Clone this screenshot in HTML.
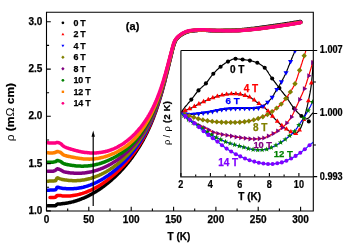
<!DOCTYPE html>
<html><head><meta charset="utf-8"><style>
html,body{margin:0;padding:0;background:#fff;}
svg{display:block;will-change:transform;font-family:"Liberation Sans",sans-serif;}
</style></head><body>
<svg width="349" height="245" viewBox="0 0 349 245">
<rect width="349" height="245" fill="#fff"/>
<g><path d="M47.7,205.8 L48.5,205.8 L49.3,205.8 L50.1,205.8 L50.9,205.8 L51.7,205.8 L52.5,205.8 L53.3,205.8 L54.1,205.8 L54.9,205.7 L55.6,205.7 L56.2,205.2 L56.8,204.5 L57.4,204.1 L58.1,204.0 L59.0,204.0 L59.8,203.9 L60.6,203.9 L61.4,203.8 L62.2,203.7 L62.9,203.6 L63.7,203.5 L64.5,203.4 L65.3,203.3 L66.1,203.2 L66.9,203.1 L67.6,202.9 L68.4,202.8 L69.2,202.6 L70.0,202.5 L70.8,202.3 L71.5,202.1 L72.3,201.9 L73.1,201.7 L73.8,201.5 L74.6,201.3 L75.4,201.1 L76.1,200.8 L76.9,200.6 L77.6,200.3 L78.4,200.1 L79.1,199.8 L79.8,199.5 L80.6,199.3 L81.3,199.0 L82.0,198.7 L82.8,198.4 L83.5,198.1 L84.2,197.8 L84.9,197.5 L85.7,197.1 L86.4,196.8 L87.1,196.5 L87.8,196.1 L88.5,195.8 L89.2,195.4 L89.9,195.0 L90.6,194.7 L91.3,194.3 L92.0,193.9 L92.7,193.5 L93.4,193.1 L94.0,192.7 L94.7,192.3 L95.4,191.9 L96.1,191.5 L96.7,191.1 L97.4,190.7 L98.1,190.2 L98.7,189.8 L99.4,189.4 L100.0,188.9 L100.7,188.5 L101.3,188.0 L102.0,187.5 L102.6,187.1 L103.3,186.6 L103.9,186.1 L104.5,185.7 L105.2,185.2 L105.8,184.7 L106.4,184.2 L107.1,183.7 L107.7,183.2 L108.3,182.7 L108.9,182.2 L109.5,181.7 L110.1,181.1 L110.7,180.6 L111.3,180.1 L111.9,179.6 L112.5,179.0 L113.1,178.5 L113.7,178.0 L114.3,177.4 L114.9,176.9 L115.4,176.3 L116.0,175.8 L116.6,175.2 L117.2,174.7 L117.7,174.1 L118.3,173.5 L118.8,173.0 L119.4,172.4 L120.0,171.8 L120.5,171.2 L121.1,170.6 L121.6,170.1 L122.1,169.5 L122.7,168.9 L123.2,168.3 L123.7,167.7 L124.3,167.1 L124.8,166.5 L125.3,165.9 L125.8,165.3 L126.4,164.6 L126.9,164.0 L127.4,163.4 L127.9,162.8 L128.4,162.2 L128.9,161.5 L129.4,160.9 L129.9,160.3 L130.3,159.6 L130.8,159.0 L131.3,158.4 L131.8,157.7 L132.3,157.1 L132.7,156.4 L133.2,155.8 L133.7,155.1 L134.1,154.5 L134.6,153.8 L135.0,153.2 L135.5,152.5 L135.9,151.8 L136.4,151.2 L136.8,150.5 L137.2,149.8 L137.7,149.2 L138.1,148.5 L138.5,147.8 L139.0,147.2 L139.4,146.5 L139.8,145.8 L140.2,145.1 L140.6,144.4 L141.0,143.7 L141.4,143.1 L141.8,142.4 L142.2,141.7 L142.6,141.0 L143.0,140.3 L143.4,139.6 L143.7,138.9 L144.1,138.2 L144.5,137.5 L144.8,136.8 L145.2,136.1 L145.6,135.4 L145.9,134.7 L146.3,134.0 L146.6,133.3 L147.0,132.6 L147.3,131.8 L147.7,131.1 L148.0,130.4 L148.3,129.7 L148.7,129.0 L149.0,128.3 L149.3,127.5 L149.6,126.8 L150.0,126.1 L150.3,125.4 L150.6,124.7 L150.9,123.9 L151.2,123.2 L151.5,122.5 L151.8,121.7 L152.1,121.0 L152.4,120.3 L152.7,119.5 L153.0,118.8 L153.3,118.1 L153.6,117.3 L153.8,116.6 L154.1,115.9 L154.4,115.1 L154.7,114.4 L154.9,113.6 L155.2,112.9 L155.5,112.2 L155.8,111.4 L156.0,110.7 L156.3,109.9 L156.5,109.2 L156.8,108.4 L157.0,107.7 L157.3,106.9 L157.5,106.2 L157.8,105.4 L158.0,104.7 L158.3,103.9 L158.5,103.2 L158.8,102.4 L159.0,101.7 L159.2,100.9 L159.5,100.1 L159.7,99.4 L159.9,98.6 L160.2,97.9 L160.4,97.1 L160.6,96.3 L160.9,95.6 L161.1,94.8 L161.3,94.1 L161.5,93.3 L161.7,92.5 L162.0,91.8 L162.2,91.0 L162.4,90.2 L162.6,89.5 L162.8,88.7 L163.0,87.9 L163.2,87.2 L163.4,86.4 L163.6,85.6 L163.8,84.9 L164.0,84.1 L164.2,83.3 L164.5,82.6 L164.7,81.8 L164.9,81.0 L165.1,80.3 L165.2,79.5 L165.4,78.7 L165.6,77.9 L165.8,77.2 L166.0,76.4 L166.2,75.6 L166.4,74.9 L166.6,74.1 L166.8,73.3 L167.0,72.5 L167.2,71.8 L167.4,71.0 L167.6,70.2 L167.8,69.4 L167.9,68.7 L168.1,67.9 L168.3,67.1 L168.5,66.4 L168.7,65.6 L168.9,64.8 L169.1,64.0 L169.3,63.3 L169.4,62.5 L169.6,61.7 L169.8,60.9 L170.0,60.2 L170.2,59.4 L170.4,58.6 L170.6,57.9 L170.7,57.1 L170.9,56.3 L171.1,55.5 L171.3,54.8 L171.5,54.0 L171.7,53.2 L171.9,52.5 L172.0,51.7 L172.2,50.9 L172.4,50.1 L172.6,49.4 L172.8,48.6 L173.0,47.8 L173.3,47.0 L173.5,46.2 L173.7,45.5 L173.9,44.7 L174.2,43.9 L174.5,43.2 L174.7,42.5 L175.0,41.7 L175.4,41.1 L175.7,40.4 L176.1,39.8 L176.6,39.1 L177.1,38.5 L177.6,37.9 L178.2,37.3 L178.8,36.8 L179.5,36.2 L180.1,35.8 L180.7,35.3 L181.4,34.9 L182.0,34.5 L182.7,34.1 L183.4,33.7 L184.1,33.3 L184.9,32.9 L185.6,32.6 L186.4,32.3 L187.1,32.0 L187.9,31.7 L188.7,31.5 L189.4,31.4 L190.2,31.2 L191.0,31.1 L191.7,31.0 L192.5,30.9 L193.3,30.8 L194.1,30.7 L194.9,30.6 L195.7,30.5 L196.5,30.4 L197.3,30.4 L198.1,30.3 L198.9,30.3 L199.7,30.2 L200.5,30.2 L201.3,30.2 L202.1,30.2 L202.9,30.2 L203.7,30.2 L204.4,30.3 L205.2,30.3 L206.0,30.3 L206.8,30.4 L207.6,30.4 L208.4,30.4 L209.2,30.5 L210.0,30.5 L210.8,30.6 L211.6,30.6 L212.4,30.7 L213.2,30.7 L214.0,30.7 L214.8,30.8 L215.6,30.8 L216.3,30.8 L217.1,30.8 L217.9,30.8 L218.7,30.8 L219.5,30.8 L220.3,30.8 L221.1,30.8 L221.9,30.7 L222.7,30.7 L223.5,30.7 L224.3,30.7 L225.1,30.6 L225.9,30.6 L226.7,30.6 L227.5,30.5 L228.3,30.5 L229.1,30.5 L229.8,30.4 L230.6,30.4 L231.4,30.4 L232.2,30.3 L233.0,30.3 L233.8,30.2 L234.6,30.2 L235.4,30.1 L236.2,30.1 L237.0,30.0 L237.8,30.0 L238.6,29.9 L239.4,29.9 L240.1,29.8 L240.9,29.7 L241.7,29.7 L242.5,29.6 L243.3,29.5 L244.1,29.4 L244.9,29.3 L245.7,29.3 L246.5,29.2 L247.3,29.1 L248.0,29.0 L248.8,28.9 L249.6,28.8 L250.4,28.7 L251.2,28.6 L252.0,28.6 L252.8,28.5 L253.6,28.4 L254.4,28.3 L255.1,28.2 L255.9,28.1 L256.7,28.0 L257.5,27.9 L258.3,27.8 L259.1,27.7 L259.9,27.6 L260.7,27.5 L261.4,27.3 L262.2,27.2 L263.0,27.1 L263.8,27.0 L264.6,26.9 L265.4,26.8 L266.2,26.7 L266.9,26.6 L267.7,26.4 L268.5,26.3 L269.3,26.2 L270.1,26.1 L270.9,26.0 L271.7,25.9 L272.5,25.8 L273.2,25.7 L274.0,25.5 L274.8,25.4 L275.6,25.3 L276.4,25.2 L277.2,25.1 L278.0,25.0 L278.7,24.9 L279.5,24.8 L280.3,24.7 L281.1,24.5 L281.9,24.4 L282.7,24.3 L283.5,24.2 L284.2,24.1 L285.0,24.0 L285.8,23.8 L286.6,23.7 L287.4,23.6 L288.2,23.5 L289.0,23.4 L289.7,23.2 L290.5,23.1 L291.3,23.0 L292.1,22.9 L292.9,22.7 L293.7,22.6 L294.4,22.5 L295.2,22.3 L296.0,22.2 L296.8,22.1 L297.6,21.9 L298.4,21.8 L299.1,21.7 L299.9,21.5 L300.7,21.4" stroke="#000000" stroke-width="3.5" fill="none" stroke-linecap="round" stroke-linejoin="round"/><path d="M50.0,197.6 L50.8,197.6 L51.6,197.5 L52.4,197.5 L53.2,197.4 L54.0,197.4 L54.8,197.3 L55.5,197.2 L56.1,196.7 L56.6,195.9 L57.2,195.4 L57.8,195.4 L58.6,195.4 L59.5,195.5 L60.3,195.5 L61.0,195.6 L61.8,195.8 L62.6,195.9 L63.4,196.1 L64.1,196.1 L64.9,196.1 L65.7,196.1 L66.5,196.1 L67.3,196.0 L68.1,196.0 L68.8,196.0 L69.6,195.9 L70.4,195.9 L71.2,195.8 L72.0,195.7 L72.7,195.6 L73.5,195.5 L74.3,195.3 L75.1,195.2 L75.8,195.1 L76.6,194.9 L77.3,194.8 L78.1,194.6 L78.8,194.4 L79.6,194.2 L80.3,194.0 L81.1,193.8 L81.8,193.6 L82.6,193.4 L83.3,193.1 L84.0,192.9 L84.8,192.6 L85.5,192.4 L86.2,192.1 L86.9,191.8 L87.7,191.5 L88.4,191.2 L89.1,190.9 L89.8,190.6 L90.5,190.3 L91.2,190.0 L91.9,189.6 L92.6,189.3 L93.3,189.0 L94.0,188.6 L94.7,188.2 L95.4,187.9 L96.1,187.5 L96.8,187.1 L97.4,186.7 L98.1,186.3 L98.8,185.9 L99.5,185.5 L100.1,185.1 L100.8,184.7 L101.4,184.3 L102.1,183.8 L102.8,183.4 L103.4,182.9 L104.1,182.5 L104.7,182.0 L105.3,181.6 L106.0,181.1 L106.6,180.7 L107.3,180.2 L107.9,179.7 L108.5,179.2 L109.1,178.7 L109.8,178.2 L110.4,177.7 L111.0,177.2 L111.6,176.7 L112.2,176.2 L112.8,175.7 L113.4,175.2 L114.0,174.7 L114.6,174.2 L115.2,173.6 L115.8,173.1 L116.4,172.6 L116.9,172.0 L117.5,171.5 L118.1,170.9 L118.7,170.4 L119.2,169.8 L119.8,169.3 L120.4,168.7 L120.9,168.2 L121.5,167.6 L122.0,167.0 L122.6,166.4 L123.1,165.9 L123.7,165.3 L124.2,164.7 L124.7,164.1 L125.3,163.5 L125.8,162.9 L126.3,162.4 L126.8,161.8 L127.3,161.2 L127.9,160.5 L128.4,159.9 L128.9,159.3 L129.4,158.7 L129.9,158.1 L130.4,157.5 L130.9,156.9 L131.3,156.2 L131.8,155.6 L132.3,155.0 L132.8,154.4 L133.3,153.7 L133.7,153.1 L134.2,152.5 L134.7,151.8 L135.1,151.2 L135.6,150.5 L136.0,149.9 L136.5,149.2 L136.9,148.6 L137.3,147.9 L137.8,147.3 L138.2,146.6 L138.6,146.0 L139.1,145.3 L139.5,144.6 L139.9,144.0 L140.3,143.3 L140.7,142.6 L141.1,142.0 L141.5,141.3 L141.9,140.6 L142.3,139.9 L142.7,139.3 L143.1,138.6 L143.5,137.9 L143.9,137.2 L144.3,136.5 L144.6,135.8 L145.0,135.1 L145.4,134.5 L145.7,133.8 L146.1,133.1 L146.4,132.4 L146.8,131.7 L147.1,131.0 L147.5,130.3 L147.8,129.6 L148.1,128.9 L148.5,128.2 L148.8,127.5 L149.1,126.8 L149.5,126.1 L149.8,125.4 L150.1,124.6 L150.4,123.9 L150.7,123.2 L151.0,122.5 L151.3,121.8 L151.7,121.1 L152.0,120.4 L152.2,119.6 L152.5,118.9 L152.8,118.2 L153.1,117.5 L153.4,116.7 L153.7,116.0 L154.0,115.3 L154.3,114.6 L154.5,113.8 L154.8,113.1 L155.1,112.4 L155.3,111.7 L155.6,110.9 L155.9,110.2 L156.1,109.5 L156.4,108.7 L156.6,108.0 L156.9,107.2 L157.2,106.5 L157.4,105.8 L157.7,105.0 L157.9,104.3 L158.1,103.5 L158.4,102.8 L158.6,102.1 L158.9,101.3 L159.1,100.6 L159.3,99.8 L159.6,99.1 L159.8,98.3 L160.0,97.6 L160.3,96.8 L160.5,96.1 L160.7,95.3 L160.9,94.6 L161.1,93.8 L161.4,93.1 L161.6,92.3 L161.8,91.6 L162.0,90.8 L162.2,90.1 L162.4,89.3 L162.6,88.6 L162.9,87.8 L163.1,87.0 L163.3,86.3 L163.5,85.5 L163.7,84.8 L163.9,84.0 L164.1,83.3 L164.3,82.5 L164.5,81.7 L164.7,81.0 L164.9,80.2 L165.1,79.5 L165.3,78.7 L165.5,77.9 L165.7,77.2 L165.9,76.4 L166.1,75.7 L166.2,74.9 L166.4,74.1 L166.6,73.4 L166.8,72.6 L167.0,71.8 L167.2,71.1 L167.4,70.3 L167.6,69.6 L167.8,68.8 L168.0,68.0 L168.1,67.3 L168.3,66.5 L168.5,65.7 L168.7,65.0 L168.9,64.2 L169.1,63.5 L169.3,62.7 L169.5,61.9 L169.6,61.2 L169.8,60.4 L170.0,59.6 L170.2,58.9 L170.4,58.1 L170.6,57.4 L170.8,56.6 L170.9,55.8 L171.1,55.1 L171.3,54.3 L171.5,53.6 L171.7,52.8 L171.9,52.0 L172.1,51.3 L172.3,50.5 L172.5,49.8 L172.6,49.0 L173.0,47.8 L173.2,47.1 L173.4,46.3 L173.6,45.5 L173.9,44.7 L174.1,44.0 L174.4,43.2 L174.6,42.5 L174.9,41.8 L175.3,41.1 L175.6,40.5 L176.0,39.9 L176.4,39.2 L176.9,38.6 L177.5,38.0 L178.0,37.4 L178.6,36.9 L179.3,36.3 L179.9,35.8 L180.5,35.4 L181.1,35.0 L181.8,34.6 L182.5,34.2 L183.1,33.8 L183.8,33.4 L184.6,33.0 L185.3,32.7 L186.0,32.3 L186.8,32.0 L187.6,31.8 L188.3,31.6 L189.1,31.4 L189.8,31.2 L190.6,31.1 L191.3,31.0 L192.1,30.9 L192.9,30.8 L193.7,30.7 L194.4,30.6 L195.2,30.5 L196.0,30.4 L196.8,30.4 L197.6,30.3 L198.4,30.3 L199.2,30.2 L200.0,30.2 L200.8,30.2 L201.5,30.2 L202.3,30.2 L203.1,30.2 L203.9,30.2 L204.7,30.2 L205.5,30.2 L206.3,30.3 L207.0,30.3 L207.8,30.3 L208.6,30.4 L209.4,30.4 L210.2,30.5 L211.0,30.5 L211.7,30.5 L212.5,30.6 L213.3,30.6 L214.1,30.6 L214.9,30.6 L215.7,30.7 L216.5,30.7 L217.2,30.7 L218.0,30.7 L218.8,30.7 L219.6,30.7 L220.4,30.7 L221.2,30.7 L222.0,30.7 L222.7,30.7 L223.5,30.6 L224.3,30.6 L225.1,30.6 L225.9,30.6 L226.7,30.6 L227.5,30.6 L228.2,30.6 L229.0,30.6 L229.8,30.6 L230.6,30.6 L231.4,30.6 L232.2,30.6 L232.9,30.5 L233.7,30.5 L234.5,30.5 L235.3,30.5 L236.1,30.5 L236.9,30.4 L237.7,30.4 L238.4,30.4 L239.2,30.3 L240.0,30.3 L240.8,30.2 L241.6,30.2 L242.4,30.1 L243.1,30.0 L243.9,30.0 L244.7,29.9 L245.5,29.8 L246.3,29.7 L247.1,29.7 L247.8,29.6 L248.6,29.5 L249.4,29.4 L250.2,29.4 L251.0,29.3 L251.7,29.2 L252.5,29.1 L253.3,29.1 L254.1,29.0 L254.9,28.9 L255.6,28.8 L256.4,28.7 L257.2,28.6 L258.0,28.5 L258.8,28.4 L259.5,28.3 L260.3,28.2 L261.1,28.1 L261.9,28.0 L262.7,27.9 L263.4,27.8 L264.2,27.7 L265.0,27.6 L265.8,27.5 L266.5,27.4 L267.3,27.2 L268.1,27.1 L268.9,27.0 L269.7,26.9 L270.4,26.8 L271.2,26.7 L272.0,26.6 L272.8,26.5 L273.5,26.4 L274.3,26.3 L275.1,26.2 L275.9,26.1 L276.7,25.9 L277.4,25.8 L278.2,25.7 L279.0,25.6 L279.8,25.5 L280.5,25.4 L281.3,25.3 L282.1,25.2 L282.9,25.1 L283.7,24.9 L284.4,24.8 L285.2,24.7 L286.0,24.6 L286.8,24.5 L287.5,24.4 L288.3,24.2 L289.1,24.1 L289.9,24.0 L290.6,23.9 L291.4,23.7 L292.2,23.6 L293.0,23.5 L293.7,23.4 L294.5,23.2 L295.3,23.1 L296.1,23.0 L296.8,22.8 L297.6,22.7 L298.4,22.6 L299.2,22.4 L299.9,22.3 L300.7,22.2" stroke="#ff0000" stroke-width="3.5" fill="none" stroke-linecap="round" stroke-linejoin="round"/><path d="M47.7,190.3 L48.4,190.2 L49.2,190.2 L50.0,190.1 L50.8,190.1 L51.5,190.0 L52.3,190.0 L53.2,189.9 L54.0,189.9 L54.8,189.8 L55.4,189.7 L56.0,189.3 L56.4,188.5 L56.8,187.6 L57.3,187.2 L57.9,187.3 L58.7,187.5 L59.5,187.7 L60.3,187.9 L61.0,188.1 L61.8,188.2 L62.6,188.4 L63.3,188.5 L64.1,188.6 L64.9,188.6 L65.6,188.6 L66.4,188.7 L67.2,188.7 L68.0,188.7 L68.7,188.7 L69.5,188.7 L70.3,188.7 L71.1,188.7 L71.9,188.7 L72.6,188.7 L73.4,188.7 L74.2,188.6 L75.0,188.5 L75.7,188.5 L76.5,188.4 L77.2,188.3 L78.0,188.2 L78.8,188.1 L79.5,188.0 L80.3,187.8 L81.0,187.7 L81.8,187.5 L82.5,187.4 L83.3,187.2 L84.0,187.0 L84.7,186.8 L85.5,186.6 L86.2,186.4 L86.9,186.2 L87.7,185.9 L88.4,185.7 L89.1,185.4 L89.8,185.2 L90.6,184.9 L91.3,184.6 L92.0,184.3 L92.7,184.1 L93.4,183.8 L94.1,183.4 L94.8,183.1 L95.5,182.8 L96.2,182.5 L96.9,182.1 L97.6,181.8 L98.3,181.4 L99.0,181.1 L99.6,180.7 L100.3,180.3 L101.0,180.0 L101.7,179.6 L102.3,179.2 L103.0,178.8 L103.7,178.4 L104.3,178.0 L105.0,177.5 L105.6,177.1 L106.3,176.7 L106.9,176.2 L107.6,175.8 L108.2,175.4 L108.9,174.9 L109.5,174.4 L110.1,174.0 L110.8,173.5 L111.4,173.0 L112.0,172.6 L112.6,172.1 L113.2,171.6 L113.9,171.1 L114.5,170.6 L115.1,170.1 L115.7,169.6 L116.3,169.1 L116.9,168.6 L117.5,168.1 L118.0,167.6 L118.6,167.0 L119.2,166.5 L119.8,166.0 L120.4,165.4 L120.9,164.9 L121.5,164.4 L122.1,163.8 L122.6,163.3 L123.2,162.7 L123.7,162.1 L124.3,161.6 L124.8,161.0 L125.4,160.4 L125.9,159.9 L126.4,159.3 L127.0,158.7 L127.5,158.1 L128.0,157.6 L128.5,157.0 L129.0,156.4 L129.6,155.8 L130.1,155.2 L130.6,154.6 L131.1,154.0 L131.6,153.4 L132.1,152.8 L132.6,152.1 L133.0,151.5 L133.5,150.9 L134.0,150.3 L134.5,149.7 L134.9,149.0 L135.4,148.4 L135.9,147.8 L136.3,147.1 L136.8,146.5 L137.2,145.9 L137.7,145.2 L138.1,144.6 L138.6,143.9 L139.0,143.3 L139.4,142.6 L139.9,142.0 L140.3,141.3 L140.7,140.7 L141.1,140.0 L141.5,139.3 L141.9,138.7 L142.3,138.0 L142.7,137.3 L143.1,136.7 L143.5,136.0 L143.9,135.3 L144.3,134.7 L144.7,134.0 L145.1,133.3 L145.4,132.6 L145.8,131.9 L146.2,131.3 L146.5,130.6 L146.9,129.9 L147.2,129.2 L147.6,128.5 L147.9,127.8 L148.3,127.1 L148.6,126.4 L148.9,125.7 L149.3,125.0 L149.6,124.3 L149.9,123.6 L150.3,122.9 L150.6,122.2 L150.9,121.5 L151.2,120.8 L151.5,120.1 L151.8,119.4 L152.1,118.7 L152.4,118.0 L152.7,117.3 L153.0,116.6 L153.3,115.8 L153.6,115.1 L153.9,114.4 L154.2,113.7 L154.4,113.0 L154.7,112.2 L155.0,111.5 L155.3,110.8 L155.5,110.1 L155.8,109.3 L156.1,108.6 L156.3,107.9 L156.6,107.2 L156.9,106.4 L157.1,105.7 L157.4,105.0 L157.6,104.2 L157.9,103.5 L158.1,102.8 L158.3,102.0 L158.6,101.3 L158.8,100.6 L159.1,99.8 L159.3,99.1 L159.5,98.3 L159.8,97.6 L160.0,96.9 L160.2,96.1 L160.5,95.4 L160.7,94.6 L160.9,93.9 L161.1,93.1 L161.3,92.4 L161.6,91.7 L161.8,90.9 L162.0,90.2 L162.2,89.4 L162.4,88.7 L162.6,87.9 L162.8,87.2 L163.0,86.4 L163.3,85.7 L163.5,84.9 L163.7,84.2 L163.9,83.4 L164.1,82.7 L164.3,81.9 L164.5,81.2 L164.7,80.4 L164.9,79.7 L165.1,78.9 L165.3,78.1 L165.5,77.4 L165.6,76.6 L165.8,75.9 L166.0,75.1 L166.2,74.4 L166.4,73.6 L166.6,72.9 L166.8,72.1 L167.0,71.3 L167.2,70.6 L167.4,69.8 L167.6,69.1 L167.8,68.3 L167.9,67.6 L168.1,66.8 L168.3,66.1 L168.5,65.3 L168.7,64.5 L168.9,63.8 L169.1,63.0 L169.3,62.3 L169.4,61.5 L169.6,60.8 L169.8,60.0 L170.0,59.2 L170.2,58.5 L170.4,57.7 L170.6,57.0 L170.8,56.2 L170.9,55.5 L171.1,54.7 L171.3,54.0 L171.5,53.2 L171.7,52.5 L171.9,51.7 L172.1,50.9 L172.3,50.2 L172.5,49.4 L172.7,48.7 L172.9,47.9 L173.1,47.2 L173.3,46.4 L173.5,45.6 L173.8,44.9 L174.0,44.1 L174.2,43.4 L174.5,42.7 L174.8,42.0 L175.1,41.3 L175.4,40.6 L175.8,40.0 L176.2,39.4 L176.7,38.8 L177.2,38.2 L177.8,37.6 L178.4,37.0 L179.0,36.5 L179.6,36.0 L180.2,35.5 L180.8,35.1 L181.5,34.7 L182.1,34.3 L182.8,33.9 L183.5,33.5 L184.2,33.1 L184.9,32.8 L185.7,32.4 L186.4,32.1 L187.1,31.9 L187.9,31.6 L188.6,31.4 L189.4,31.2 L190.1,31.1 L190.9,31.0 L191.6,30.9 L192.4,30.8 L193.2,30.7 L193.9,30.6 L194.7,30.5 L195.5,30.4 L196.3,30.4 L197.1,30.3 L197.9,30.2 L198.6,30.2 L199.4,30.2 L200.2,30.1 L201.0,30.1 L201.8,30.1 L202.5,30.1 L203.3,30.1 L204.1,30.1 L204.9,30.2 L205.6,30.2 L206.4,30.2 L207.2,30.3 L208.0,30.3 L208.7,30.4 L209.5,30.4 L210.3,30.4 L211.1,30.5 L211.9,30.5 L212.6,30.5 L213.4,30.6 L214.2,30.6 L215.0,30.6 L215.7,30.7 L216.5,30.7 L217.3,30.7 L218.1,30.7 L218.9,30.7 L219.6,30.7 L220.4,30.7 L221.2,30.7 L222.0,30.7 L222.7,30.7 L223.5,30.6 L224.3,30.6 L225.1,30.6 L225.9,30.6 L226.6,30.6 L227.4,30.6 L228.2,30.6 L229.0,30.6 L229.7,30.6 L230.5,30.6 L231.3,30.6 L232.1,30.6 L232.8,30.6 L233.6,30.5 L234.4,30.5 L235.2,30.5 L236.0,30.5 L236.7,30.5 L237.5,30.4 L238.3,30.4 L239.1,30.4 L239.8,30.3 L240.6,30.3 L241.4,30.2 L242.2,30.1 L242.9,30.1 L243.7,30.0 L244.5,29.9 L245.3,29.9 L246.0,29.8 L246.8,29.7 L247.6,29.7 L248.4,29.6 L249.1,29.5 L249.9,29.4 L250.7,29.4 L251.5,29.3 L252.2,29.2 L253.0,29.1 L253.8,29.1 L254.5,29.0 L255.3,28.9 L256.1,28.8 L256.9,28.7 L257.6,28.6 L258.4,28.5 L259.2,28.4 L260.0,28.3 L260.7,28.2 L261.5,28.1 L262.3,28.0 L263.0,27.9 L263.8,27.8 L264.6,27.7 L265.3,27.6 L266.1,27.5 L266.9,27.4 L267.7,27.2 L268.4,27.1 L269.2,27.0 L270.0,26.9 L270.7,26.8 L271.5,26.7 L272.3,26.6 L273.0,26.5 L273.8,26.4 L274.6,26.3 L275.4,26.2 L276.1,26.1 L276.9,26.0 L277.7,25.9 L278.4,25.7 L279.2,25.6 L280.0,25.5 L280.7,25.4 L281.5,25.3 L282.3,25.2 L283.1,25.1 L283.8,25.0 L284.6,24.8 L285.4,24.7 L286.1,24.6 L286.9,24.5 L287.7,24.4 L288.4,24.3 L289.2,24.1 L290.0,24.0 L290.7,23.9 L291.5,23.8 L292.3,23.7 L293.0,23.5 L293.8,23.4 L294.6,23.3 L295.3,23.1 L296.1,23.0 L296.9,22.9 L297.6,22.7 L298.4,22.6 L299.2,22.5 L299.9,22.3 L300.7,22.2" stroke="#0000ff" stroke-width="3.5" fill="none" stroke-linecap="round" stroke-linejoin="round"/><path d="M47.7,181.2 L48.4,181.2 L49.2,181.1 L50.0,181.1 L50.7,181.1 L51.5,181.0 L52.3,181.0 L53.1,180.9 L53.9,180.9 L54.7,180.8 L55.4,180.7 L55.9,180.4 L56.2,179.6 L56.6,178.7 L57.0,178.0 L57.5,177.8 L58.1,178.0 L58.9,178.4 L59.7,178.7 L60.4,178.9 L61.2,179.1 L61.9,179.4 L62.6,179.5 L63.4,179.7 L64.2,179.8 L64.9,179.9 L65.7,180.0 L66.4,180.1 L67.2,180.2 L68.0,180.3 L68.7,180.4 L69.5,180.4 L70.3,180.5 L71.0,180.6 L71.8,180.6 L72.6,180.7 L73.3,180.7 L74.1,180.7 L74.9,180.7 L75.6,180.7 L76.4,180.7 L77.2,180.6 L77.9,180.6 L78.7,180.5 L79.4,180.5 L80.2,180.4 L80.9,180.3 L81.7,180.2 L82.4,180.1 L83.2,180.0 L83.9,179.9 L84.7,179.8 L85.4,179.6 L86.2,179.5 L86.9,179.3 L87.6,179.1 L88.4,179.0 L89.1,178.8 L89.8,178.6 L90.6,178.4 L91.3,178.2 L92.0,177.9 L92.7,177.7 L93.5,177.5 L94.2,177.2 L94.9,177.0 L95.6,176.7 L96.3,176.4 L97.0,176.1 L97.7,175.9 L98.4,175.6 L99.1,175.3 L99.8,174.9 L100.5,174.6 L101.2,174.3 L101.9,174.0 L102.6,173.6 L103.2,173.3 L103.9,172.9 L104.6,172.6 L105.3,172.2 L105.9,171.8 L106.6,171.5 L107.3,171.1 L107.9,170.7 L108.6,170.3 L109.2,169.9 L109.9,169.5 L110.5,169.0 L111.2,168.6 L111.8,168.2 L112.4,167.8 L113.1,167.3 L113.7,166.9 L114.3,166.4 L114.9,166.0 L115.6,165.5 L116.2,165.0 L116.8,164.6 L117.4,164.1 L118.0,163.6 L118.6,163.1 L119.2,162.6 L119.8,162.2 L120.4,161.7 L121.0,161.1 L121.5,160.6 L122.1,160.1 L122.7,159.6 L123.3,159.1 L123.8,158.6 L124.4,158.0 L124.9,157.5 L125.5,157.0 L126.0,156.4 L126.6,155.9 L127.1,155.3 L127.7,154.8 L128.2,154.2 L128.7,153.6 L129.3,153.1 L129.8,152.5 L130.3,151.9 L130.8,151.3 L131.3,150.8 L131.8,150.2 L132.3,149.6 L132.8,149.0 L133.3,148.4 L133.8,147.8 L134.3,147.2 L134.8,146.6 L135.3,146.0 L135.8,145.4 L136.2,144.7 L136.7,144.1 L137.2,143.5 L137.6,142.9 L138.1,142.3 L138.5,141.6 L139.0,141.0 L139.4,140.4 L139.8,139.7 L140.3,139.1 L140.7,138.4 L141.1,137.8 L141.5,137.1 L142.0,136.5 L142.4,135.9 L142.8,135.2 L143.2,134.5 L143.6,133.9 L144.0,133.2 L144.4,132.6 L144.8,131.9 L145.1,131.2 L145.5,130.6 L145.9,129.9 L146.3,129.2 L146.6,128.6 L147.0,127.9 L147.4,127.2 L147.7,126.5 L148.1,125.9 L148.4,125.2 L148.8,124.5 L149.1,123.8 L149.4,123.1 L149.8,122.4 L150.1,121.7 L150.4,121.1 L150.7,120.4 L151.1,119.7 L151.4,119.0 L151.7,118.3 L152.0,117.6 L152.3,116.9 L152.6,116.2 L152.9,115.5 L153.2,114.8 L153.5,114.1 L153.8,113.4 L154.1,112.7 L154.4,111.9 L154.6,111.2 L154.9,110.5 L155.2,109.8 L155.5,109.1 L155.7,108.4 L156.0,107.7 L156.3,106.9 L156.5,106.2 L156.8,105.5 L157.1,104.8 L157.3,104.1 L157.6,103.3 L157.8,102.6 L158.1,101.9 L158.3,101.2 L158.6,100.4 L158.8,99.7 L159.0,99.0 L159.3,98.3 L159.5,97.5 L159.8,96.8 L160.0,96.1 L160.2,95.3 L160.4,94.6 L160.7,93.9 L160.9,93.1 L161.1,92.4 L161.3,91.6 L161.6,90.9 L161.8,90.2 L162.0,89.4 L162.2,88.7 L162.4,88.0 L162.6,87.2 L162.8,86.5 L163.0,85.7 L163.3,85.0 L163.5,84.2 L163.7,83.5 L163.9,82.8 L164.1,82.0 L164.3,81.3 L164.5,80.5 L164.7,79.8 L164.9,79.0 L165.1,78.3 L165.3,77.5 L165.5,76.8 L165.6,76.1 L165.8,75.3 L166.0,74.6 L166.2,73.8 L166.4,73.1 L166.6,72.3 L166.8,71.6 L167.0,70.8 L167.2,70.1 L167.4,69.3 L167.6,68.6 L167.7,67.8 L167.9,67.1 L168.1,66.3 L168.3,65.6 L168.5,64.9 L168.7,64.1 L168.9,63.4 L169.1,62.6 L169.2,61.9 L169.4,61.1 L169.6,60.4 L169.8,59.6 L170.0,58.9 L170.2,58.1 L170.4,57.4 L170.6,56.6 L170.7,55.9 L170.9,55.2 L171.1,54.4 L171.3,53.7 L171.5,52.9 L171.7,52.2 L171.9,51.4 L172.1,50.7 L172.3,50.0 L172.5,49.2 L172.6,48.5 L172.9,47.7 L173.1,47.0 L173.3,46.2 L173.5,45.4 L173.7,44.7 L174.0,44.0 L174.2,43.2 L174.5,42.5 L174.8,41.8 L175.1,41.2 L175.4,40.5 L175.8,39.9 L176.2,39.3 L176.7,38.7 L177.2,38.1 L177.8,37.5 L178.3,36.9 L178.9,36.4 L179.5,35.9 L180.2,35.4 L180.8,35.0 L181.4,34.6 L182.0,34.2 L182.7,33.8 L183.4,33.5 L184.1,33.1 L184.8,32.7 L185.5,32.4 L186.2,32.1 L187.0,31.8 L187.7,31.6 L188.5,31.4 L189.2,31.2 L189.9,31.1 L190.7,31.0 L191.4,30.9 L192.2,30.8 L192.9,30.7 L193.7,30.6 L194.4,30.5 L195.2,30.4 L196.0,30.3 L196.8,30.3 L197.5,30.2 L198.3,30.1 L199.1,30.1 L199.9,30.1 L200.6,30.1 L201.4,30.1 L202.2,30.1 L202.9,30.1 L203.7,30.1 L204.5,30.1 L205.2,30.1 L206.0,30.2 L206.8,30.2 L207.5,30.2 L208.3,30.3 L209.1,30.3 L209.8,30.4 L210.6,30.4 L211.4,30.5 L212.2,30.5 L212.9,30.5 L213.7,30.6 L214.5,30.6 L215.2,30.6 L216.0,30.6 L216.8,30.7 L217.5,30.7 L218.3,30.7 L219.1,30.7 L219.8,30.7 L220.6,30.7 L221.4,30.6 L222.1,30.6 L222.9,30.6 L223.7,30.6 L224.4,30.6 L225.2,30.6 L226.0,30.6 L226.7,30.6 L227.5,30.6 L228.3,30.6 L229.1,30.6 L229.8,30.6 L230.6,30.6 L231.4,30.6 L232.1,30.6 L232.9,30.6 L233.7,30.6 L234.4,30.6 L235.2,30.5 L236.0,30.5 L236.7,30.5 L237.5,30.5 L238.3,30.4 L239.0,30.4 L239.8,30.4 L240.6,30.3 L241.3,30.2 L242.1,30.2 L242.9,30.1 L243.6,30.1 L244.4,30.0 L245.2,29.9 L245.9,29.9 L246.7,29.8 L247.5,29.7 L248.2,29.6 L249.0,29.6 L249.8,29.5 L250.5,29.4 L251.3,29.3 L252.0,29.3 L252.8,29.2 L253.6,29.1 L254.3,29.0 L255.1,29.0 L255.9,28.9 L256.6,28.8 L257.4,28.7 L258.1,28.6 L258.9,28.5 L259.7,28.4 L260.4,28.3 L261.2,28.2 L262.0,28.1 L262.7,28.0 L263.5,27.9 L264.2,27.8 L265.0,27.7 L265.8,27.6 L266.5,27.5 L267.3,27.4 L268.0,27.2 L268.8,27.1 L269.6,27.0 L270.3,26.9 L271.1,26.8 L271.9,26.7 L272.6,26.6 L273.4,26.5 L274.1,26.4 L274.9,26.3 L275.7,26.2 L276.4,26.1 L277.2,26.0 L277.9,25.9 L278.7,25.8 L279.5,25.6 L280.2,25.5 L281.0,25.4 L281.7,25.3 L282.5,25.2 L283.3,25.1 L284.0,25.0 L284.8,24.9 L285.5,24.8 L286.3,24.6 L287.1,24.5 L287.8,24.4 L288.6,24.3 L289.3,24.2 L290.1,24.1 L290.9,23.9 L291.6,23.8 L292.4,23.7 L293.1,23.6 L293.9,23.4 L294.6,23.3 L295.4,23.2 L296.2,23.1 L296.9,22.9 L297.7,22.8 L298.4,22.7 L299.2,22.5 L299.9,22.4 L300.7,22.3" stroke="#808000" stroke-width="3.5" fill="none" stroke-linecap="round" stroke-linejoin="round"/><path d="M47.7,171.3 L48.4,171.3 L49.2,171.3 L49.9,171.3 L50.7,171.3 L51.4,171.3 L52.2,171.3 L52.9,171.2 L53.7,171.0 L54.4,170.8 L55.1,170.5 L55.8,170.1 L56.3,169.5 L56.9,168.9 L57.5,168.8 L58.2,169.0 L59.0,169.2 L59.7,169.5 L60.4,169.8 L61.1,170.2 L61.7,170.6 L62.4,171.0 L63.0,171.4 L63.7,171.7 L64.4,171.9 L65.1,172.1 L65.8,172.2 L66.6,172.3 L67.3,172.4 L68.1,172.5 L68.8,172.7 L69.6,172.8 L70.3,172.9 L71.1,172.9 L71.8,173.0 L72.6,173.1 L73.3,173.1 L74.1,173.2 L74.8,173.2 L75.6,173.3 L76.3,173.3 L77.1,173.3 L77.8,173.3 L78.6,173.3 L79.3,173.3 L80.1,173.2 L80.8,173.2 L81.6,173.2 L82.3,173.1 L83.1,173.0 L83.8,173.0 L84.6,172.9 L85.3,172.8 L86.1,172.7 L86.8,172.6 L87.5,172.5 L88.3,172.3 L89.0,172.2 L89.8,172.1 L90.5,171.9 L91.2,171.8 L92.0,171.6 L92.7,171.4 L93.4,171.2 L94.1,171.0 L94.9,170.8 L95.6,170.6 L96.3,170.4 L97.0,170.2 L97.7,169.9 L98.4,169.7 L99.1,169.4 L99.8,169.2 L100.6,168.9 L101.3,168.6 L102.0,168.4 L102.6,168.1 L103.3,167.8 L104.0,167.5 L104.7,167.2 L105.4,166.9 L106.1,166.5 L106.8,166.2 L107.4,165.9 L108.1,165.5 L108.8,165.2 L109.4,164.8 L110.1,164.5 L110.8,164.1 L111.4,163.7 L112.1,163.3 L112.7,162.9 L113.3,162.5 L114.0,162.1 L114.6,161.7 L115.2,161.3 L115.9,160.9 L116.5,160.5 L117.1,160.1 L117.7,159.6 L118.3,159.2 L118.9,158.7 L119.6,158.3 L120.2,157.8 L120.7,157.4 L121.3,156.9 L121.9,156.4 L122.5,155.9 L123.1,155.4 L123.7,155.0 L124.2,154.5 L124.8,154.0 L125.4,153.5 L125.9,152.9 L126.5,152.4 L127.0,151.9 L127.6,151.4 L128.1,150.9 L128.7,150.3 L129.2,149.8 L129.7,149.3 L130.3,148.7 L130.8,148.2 L131.3,147.6 L131.8,147.1 L132.3,146.5 L132.8,145.9 L133.4,145.4 L133.8,144.8 L134.3,144.2 L134.8,143.6 L135.3,143.0 L135.8,142.5 L136.3,141.9 L136.8,141.3 L137.2,140.7 L137.7,140.1 L138.1,139.5 L138.6,138.9 L139.1,138.3 L139.5,137.7 L139.9,137.0 L140.4,136.4 L140.8,135.8 L141.3,135.2 L141.7,134.6 L142.1,133.9 L142.5,133.3 L142.9,132.7 L143.3,132.0 L143.7,131.4 L144.1,130.7 L144.5,130.1 L144.9,129.5 L145.3,128.8 L145.7,128.2 L146.1,127.5 L146.4,126.9 L146.8,126.2 L147.2,125.6 L147.5,124.9 L147.9,124.2 L148.3,123.6 L148.6,122.9 L149.0,122.2 L149.3,121.6 L149.6,120.9 L150.0,120.2 L150.3,119.6 L150.6,118.9 L151.0,118.2 L151.3,117.5 L151.6,116.8 L151.9,116.2 L152.2,115.5 L152.5,114.8 L152.8,114.1 L153.1,113.4 L153.4,112.7 L153.7,112.0 L154.0,111.3 L154.3,110.6 L154.6,110.0 L154.9,109.3 L155.1,108.6 L155.4,107.9 L155.7,107.2 L156.0,106.5 L156.2,105.7 L156.5,105.0 L156.8,104.3 L157.0,103.6 L157.3,102.9 L157.5,102.2 L157.8,101.5 L158.0,100.8 L158.3,100.1 L158.5,99.4 L158.8,98.6 L159.0,97.9 L159.3,97.2 L159.5,96.5 L159.7,95.8 L160.0,95.1 L160.2,94.3 L160.4,93.6 L160.6,92.9 L160.9,92.2 L161.1,91.4 L161.3,90.7 L161.5,90.0 L161.8,89.3 L162.0,88.5 L162.2,87.8 L162.4,87.1 L162.6,86.4 L162.8,85.6 L163.0,84.9 L163.2,84.2 L163.4,83.4 L163.6,82.7 L163.8,82.0 L164.0,81.2 L164.2,80.5 L164.4,79.8 L164.6,79.0 L164.8,78.3 L165.0,77.6 L165.2,76.8 L165.4,76.1 L165.6,75.4 L165.8,74.6 L166.0,73.9 L166.2,73.2 L166.4,72.4 L166.6,71.7 L166.8,71.0 L167.0,70.2 L167.2,69.5 L167.3,68.8 L167.5,68.0 L167.7,67.3 L167.9,66.5 L168.1,65.8 L168.3,65.1 L168.5,64.3 L168.7,63.6 L168.8,62.9 L169.0,62.1 L169.2,61.4 L169.4,60.7 L169.6,59.9 L169.8,59.2 L170.0,58.5 L170.1,57.7 L170.3,57.0 L170.5,56.3 L170.7,55.5 L170.9,54.8 L171.1,54.1 L171.3,53.4 L171.5,52.6 L171.7,51.9 L171.8,51.2 L172.0,50.4 L172.2,49.7 L172.4,49.0 L172.7,47.9 L172.9,47.1 L173.1,46.4 L173.4,45.6 L173.6,44.9 L173.8,44.1 L174.1,43.4 L174.3,42.7 L174.6,42.1 L174.9,41.4 L175.2,40.8 L175.6,40.1 L176.0,39.5 L176.4,38.9 L176.9,38.3 L177.4,37.7 L178.0,37.1 L178.6,36.6 L179.1,36.1 L179.7,35.6 L180.3,35.2 L180.9,34.8 L181.6,34.4 L182.2,34.0 L182.9,33.6 L183.5,33.2 L184.2,32.9 L184.9,32.5 L185.7,32.2 L186.4,31.9 L187.1,31.7 L187.8,31.4 L188.6,31.3 L189.3,31.1 L190.0,31.0 L190.8,30.9 L191.5,30.8 L192.2,30.7 L193.0,30.6 L193.7,30.5 L194.5,30.4 L195.2,30.3 L196.0,30.2 L196.8,30.2 L197.5,30.1 L198.3,30.1 L199.1,30.0 L199.8,30.0 L200.6,30.0 L201.3,30.0 L202.1,30.0 L202.9,30.0 L203.6,30.0 L204.4,30.0 L205.1,30.1 L205.9,30.1 L206.6,30.1 L207.4,30.2 L208.1,30.2 L208.9,30.3 L209.7,30.3 L210.4,30.4 L211.2,30.4 L211.9,30.5 L212.7,30.5 L213.4,30.5 L214.2,30.6 L215.0,30.6 L215.7,30.6 L216.5,30.6 L217.2,30.6 L218.0,30.6 L218.7,30.6 L219.5,30.6 L220.3,30.6 L221.0,30.6 L221.8,30.6 L222.5,30.6 L223.3,30.6 L224.0,30.6 L224.8,30.6 L225.6,30.6 L226.3,30.6 L227.1,30.6 L227.8,30.6 L228.6,30.6 L229.3,30.6 L230.1,30.6 L230.9,30.6 L231.6,30.6 L232.4,30.6 L233.1,30.6 L233.9,30.6 L234.6,30.6 L235.4,30.6 L236.2,30.6 L236.9,30.5 L237.7,30.5 L238.4,30.5 L239.2,30.4 L239.9,30.4 L240.7,30.3 L241.4,30.3 L242.2,30.2 L243.0,30.2 L243.7,30.1 L244.5,30.0 L245.2,30.0 L246.0,29.9 L246.7,29.8 L247.5,29.8 L248.2,29.7 L249.0,29.6 L249.7,29.5 L250.5,29.5 L251.3,29.4 L252.0,29.3 L252.8,29.3 L253.5,29.2 L254.3,29.1 L255.0,29.0 L255.8,28.9 L256.5,28.9 L257.3,28.8 L258.0,28.7 L258.8,28.6 L259.5,28.5 L260.3,28.4 L261.0,28.3 L261.8,28.2 L262.5,28.1 L263.3,28.0 L264.0,27.9 L264.8,27.8 L265.5,27.7 L266.3,27.6 L267.0,27.5 L267.8,27.4 L268.5,27.2 L269.3,27.1 L270.0,27.0 L270.8,26.9 L271.5,26.8 L272.3,26.7 L273.0,26.6 L273.8,26.5 L274.5,26.4 L275.3,26.3 L276.0,26.2 L276.8,26.1 L277.5,26.0 L278.3,25.9 L279.0,25.8 L279.8,25.7 L280.5,25.6 L281.3,25.5 L282.0,25.3 L282.8,25.2 L283.5,25.1 L284.3,25.0 L285.0,24.9 L285.8,24.8 L286.5,24.7 L287.3,24.6 L288.0,24.4 L288.8,24.3 L289.5,24.2 L290.3,24.1 L291.0,24.0 L291.7,23.9 L292.5,23.7 L293.2,23.6 L294.0,23.5 L294.7,23.4 L295.5,23.2 L296.2,23.1 L297.0,23.0 L297.7,22.9 L298.5,22.7 L299.2,22.6 L300.0,22.5 L300.7,22.3" stroke="#800080" stroke-width="3.5" fill="none" stroke-linecap="round" stroke-linejoin="round"/><path d="M47.6,162.2 L48.4,162.3 L49.1,162.3 L49.9,162.3 L50.6,162.3 L51.4,162.3 L52.1,162.3 L52.9,162.2 L53.6,162.1 L54.3,161.9 L55.1,161.7 L55.7,161.5 L56.4,161.0 L57.0,160.6 L57.7,160.5 L58.4,160.7 L59.2,160.9 L59.9,161.2 L60.5,161.4 L61.2,161.8 L61.8,162.3 L62.4,162.8 L63.0,163.2 L63.7,163.6 L64.3,163.8 L65.0,164.0 L65.7,164.2 L66.4,164.4 L67.2,164.5 L67.9,164.7 L68.6,164.8 L69.4,164.9 L70.1,165.1 L70.8,165.2 L71.6,165.3 L72.3,165.4 L73.1,165.5 L73.8,165.6 L74.5,165.7 L75.3,165.8 L76.0,165.9 L76.7,165.9 L77.5,166.0 L78.2,166.0 L79.0,166.1 L79.7,166.1 L80.4,166.1 L81.2,166.2 L81.9,166.2 L82.6,166.2 L83.4,166.2 L84.1,166.1 L84.9,166.1 L85.6,166.1 L86.3,166.0 L87.1,166.0 L87.8,165.9 L88.5,165.8 L89.2,165.8 L90.0,165.7 L90.7,165.6 L91.4,165.5 L92.2,165.4 L92.9,165.2 L93.6,165.1 L94.3,164.9 L95.1,164.8 L95.8,164.6 L96.5,164.5 L97.2,164.3 L97.9,164.1 L98.6,163.9 L99.4,163.7 L100.1,163.5 L100.8,163.3 L101.5,163.0 L102.2,162.8 L102.9,162.5 L103.6,162.3 L104.3,162.0 L105.0,161.8 L105.7,161.5 L106.4,161.2 L107.1,160.9 L107.8,160.6 L108.4,160.3 L109.1,160.0 L109.8,159.7 L110.5,159.4 L111.2,159.1 L111.8,158.7 L112.5,158.4 L113.2,158.0 L113.8,157.7 L114.5,157.3 L115.2,157.0 L115.8,156.6 L116.5,156.2 L117.1,155.8 L117.8,155.4 L118.4,155.0 L119.0,154.6 L119.7,154.2 L120.3,153.8 L120.9,153.4 L121.6,153.0 L122.2,152.6 L122.8,152.1 L123.4,151.7 L124.0,151.2 L124.6,150.8 L125.2,150.3 L125.8,149.9 L126.4,149.4 L126.9,148.9 L127.5,148.4 L128.1,147.9 L128.7,147.4 L129.2,147.0 L129.8,146.4 L130.3,145.9 L130.8,145.4 L131.4,144.9 L131.9,144.4 L132.4,143.8 L133.0,143.3 L133.5,142.8 L134.0,142.2 L134.5,141.7 L135.0,141.1 L135.5,140.5 L135.9,140.0 L136.4,139.4 L136.9,138.8 L137.4,138.2 L137.8,137.7 L138.3,137.1 L138.7,136.5 L139.2,135.9 L139.6,135.3 L140.1,134.7 L140.5,134.1 L141.0,133.5 L141.4,132.9 L141.8,132.2 L142.2,131.6 L142.6,131.0 L143.0,130.4 L143.4,129.8 L143.8,129.1 L144.2,128.5 L144.6,127.9 L145.0,127.3 L145.4,126.6 L145.8,126.0 L146.2,125.3 L146.5,124.7 L146.9,124.1 L147.3,123.4 L147.6,122.8 L148.0,122.1 L148.3,121.5 L148.7,120.8 L149.0,120.2 L149.4,119.5 L149.7,118.9 L150.0,118.2 L150.4,117.5 L150.7,116.9 L151.0,116.2 L151.4,115.5 L151.7,114.9 L152.0,114.2 L152.3,113.5 L152.6,112.8 L152.9,112.2 L153.2,111.5 L153.5,110.8 L153.8,110.1 L154.1,109.5 L154.4,108.8 L154.7,108.1 L155.0,107.4 L155.2,106.7 L155.5,106.0 L155.8,105.3 L156.1,104.6 L156.3,103.9 L156.6,103.2 L156.9,102.6 L157.1,101.9 L157.4,101.2 L157.6,100.5 L157.9,99.8 L158.2,99.1 L158.4,98.4 L158.7,97.6 L158.9,96.9 L159.1,96.2 L159.4,95.5 L159.6,94.8 L159.9,94.1 L160.1,93.4 L160.3,92.7 L160.6,92.0 L160.8,91.3 L161.0,90.6 L161.2,89.8 L161.5,89.1 L161.7,88.4 L161.9,87.7 L162.1,87.0 L162.3,86.3 L162.6,85.5 L162.8,84.8 L163.0,84.1 L163.2,83.4 L163.4,82.7 L163.6,81.9 L163.8,81.2 L164.0,80.5 L164.2,79.8 L164.4,79.1 L164.6,78.3 L164.8,77.6 L165.0,76.9 L165.2,76.2 L165.4,75.4 L165.6,74.7 L165.8,74.0 L166.0,73.3 L166.2,72.5 L166.4,71.8 L166.6,71.1 L166.8,70.4 L167.0,69.6 L167.2,68.9 L167.4,68.2 L167.6,67.5 L167.7,66.7 L167.9,66.0 L168.1,65.3 L168.3,64.6 L168.5,63.8 L168.7,63.1 L168.9,62.4 L169.1,61.7 L169.2,60.9 L169.4,60.2 L169.6,59.5 L169.8,58.8 L170.0,58.0 L170.2,57.3 L170.4,56.6 L170.5,55.9 L170.7,55.1 L170.9,54.4 L171.1,53.7 L171.3,53.0 L171.5,52.3 L171.7,51.5 L171.9,50.8 L172.0,50.1 L172.2,49.4 L172.4,48.7 L172.7,47.5 L172.9,46.8 L173.1,46.1 L173.3,45.3 L173.6,44.6 L173.8,43.9 L174.1,43.2 L174.3,42.5 L174.6,41.8 L174.9,41.2 L175.2,40.6 L175.6,40.0 L176.0,39.3 L176.4,38.7 L176.9,38.1 L177.5,37.6 L178.0,37.0 L178.6,36.5 L179.2,36.0 L179.7,35.5 L180.3,35.1 L180.9,34.7 L181.5,34.3 L182.2,33.9 L182.8,33.5 L183.5,33.2 L184.2,32.8 L184.9,32.5 L185.6,32.2 L186.3,31.9 L187.0,31.6 L187.7,31.4 L188.5,31.2 L189.2,31.0 L189.9,30.9 L190.6,30.8 L191.3,30.7 L192.1,30.6 L192.8,30.5 L193.6,30.4 L194.3,30.3 L195.0,30.3 L195.8,30.2 L196.6,30.1 L197.3,30.1 L198.1,30.0 L198.8,30.0 L199.6,30.0 L200.3,29.9 L201.1,29.9 L201.8,29.9 L202.6,29.9 L203.3,29.9 L204.1,30.0 L204.8,30.0 L205.6,30.0 L206.3,30.1 L207.0,30.1 L207.8,30.2 L208.5,30.2 L209.3,30.3 L210.0,30.3 L210.8,30.4 L211.5,30.4 L212.3,30.5 L213.0,30.5 L213.8,30.5 L214.5,30.6 L215.3,30.6 L216.0,30.6 L216.8,30.6 L217.5,30.6 L218.3,30.6 L219.0,30.6 L219.8,30.6 L220.5,30.6 L221.2,30.6 L222.0,30.6 L222.7,30.6 L223.5,30.6 L224.2,30.6 L225.0,30.6 L225.7,30.6 L226.5,30.6 L227.2,30.6 L228.0,30.6 L228.7,30.6 L229.5,30.6 L230.2,30.6 L231.0,30.6 L231.7,30.6 L232.5,30.6 L233.2,30.6 L234.0,30.6 L234.7,30.6 L235.5,30.6 L236.2,30.6 L236.9,30.6 L237.7,30.5 L238.4,30.5 L239.2,30.5 L239.9,30.4 L240.7,30.4 L241.4,30.3 L242.2,30.3 L242.9,30.2 L243.7,30.2 L244.4,30.1 L245.2,30.0 L245.9,30.0 L246.6,29.9 L247.4,29.8 L248.1,29.7 L248.9,29.7 L249.6,29.6 L250.4,29.5 L251.1,29.5 L251.9,29.4 L252.6,29.3 L253.3,29.3 L254.1,29.2 L254.8,29.1 L255.6,29.0 L256.3,28.9 L257.1,28.9 L257.8,28.8 L258.5,28.7 L259.3,28.6 L260.0,28.5 L260.8,28.4 L261.5,28.3 L262.3,28.2 L263.0,28.1 L263.7,28.0 L264.5,27.9 L265.2,27.8 L266.0,27.7 L266.7,27.6 L267.4,27.5 L268.2,27.4 L268.9,27.2 L269.7,27.1 L270.4,27.0 L271.1,26.9 L271.9,26.8 L272.6,26.7 L273.4,26.6 L274.1,26.5 L274.8,26.4 L275.6,26.3 L276.3,26.2 L277.1,26.1 L277.8,26.0 L278.5,25.9 L279.3,25.8 L280.0,25.7 L280.8,25.6 L281.5,25.5 L282.2,25.4 L283.0,25.3 L283.7,25.2 L284.5,25.0 L285.2,24.9 L285.9,24.8 L286.7,24.7 L287.4,24.6 L288.2,24.5 L288.9,24.4 L289.6,24.3 L290.4,24.1 L291.1,24.0 L291.9,23.9 L292.6,23.8 L293.3,23.7 L294.1,23.5 L294.8,23.4 L295.5,23.3 L296.3,23.2 L297.0,23.0 L297.8,22.9 L298.5,22.8 L299.2,22.7 L300.0,22.5 L300.7,22.4" stroke="#008000" stroke-width="3.5" fill="none" stroke-linecap="round" stroke-linejoin="round"/><path d="M47.6,152.8 L48.4,152.8 L49.1,152.9 L49.8,152.9 L50.6,152.9 L51.3,152.9 L52.0,152.9 L52.8,152.9 L53.5,152.8 L54.3,152.7 L55.0,152.5 L55.7,152.3 L56.3,151.9 L57.0,151.6 L57.7,151.5 L58.4,151.7 L59.2,151.9 L59.9,152.1 L60.5,152.4 L61.1,152.9 L61.7,153.4 L62.3,153.9 L62.8,154.4 L63.4,154.8 L64.1,155.1 L64.7,155.4 L65.4,155.6 L66.1,155.8 L66.8,156.0 L67.5,156.2 L68.2,156.3 L68.9,156.5 L69.7,156.6 L70.4,156.7 L71.1,156.9 L71.8,157.0 L72.6,157.2 L73.3,157.3 L74.0,157.5 L74.7,157.6 L75.5,157.7 L76.2,157.9 L76.9,158.0 L77.6,158.1 L78.4,158.2 L79.1,158.3 L79.8,158.4 L80.5,158.5 L81.2,158.6 L82.0,158.7 L82.7,158.8 L83.4,158.9 L84.1,158.9 L84.9,159.0 L85.6,159.0 L86.3,159.1 L87.0,159.1 L87.8,159.1 L88.5,159.1 L89.2,159.2 L89.9,159.1 L90.7,159.1 L91.4,159.1 L92.1,159.1 L92.8,159.0 L93.5,159.0 L94.3,158.9 L95.0,158.8 L95.7,158.7 L96.4,158.6 L97.1,158.5 L97.9,158.4 L98.6,158.3 L99.3,158.1 L100.0,158.0 L100.7,157.8 L101.4,157.6 L102.1,157.5 L102.9,157.3 L103.6,157.1 L104.3,156.9 L105.0,156.7 L105.7,156.5 L106.4,156.3 L107.1,156.0 L107.8,155.8 L108.5,155.5 L109.2,155.3 L109.9,155.0 L110.6,154.7 L111.2,154.5 L111.9,154.2 L112.6,153.9 L113.3,153.6 L114.0,153.3 L114.7,153.0 L115.3,152.7 L116.0,152.3 L116.7,152.0 L117.3,151.7 L118.0,151.3 L118.6,151.0 L119.3,150.6 L119.9,150.2 L120.6,149.9 L121.2,149.5 L121.9,149.1 L122.5,148.7 L123.1,148.3 L123.7,147.9 L124.4,147.5 L125.0,147.1 L125.6,146.6 L126.2,146.2 L126.8,145.8 L127.4,145.3 L128.0,144.9 L128.5,144.4 L129.1,143.9 L129.7,143.5 L130.2,143.0 L130.8,142.5 L131.3,142.0 L131.9,141.5 L132.4,141.0 L132.9,140.5 L133.5,139.9 L134.0,139.4 L134.5,138.9 L135.0,138.4 L135.5,137.8 L136.0,137.3 L136.5,136.7 L137.0,136.2 L137.4,135.6 L137.9,135.0 L138.4,134.5 L138.8,133.9 L139.3,133.3 L139.7,132.7 L140.2,132.1 L140.6,131.5 L141.0,131.0 L141.5,130.4 L141.9,129.8 L142.3,129.2 L142.7,128.5 L143.2,127.9 L143.6,127.3 L144.0,126.7 L144.4,126.1 L144.8,125.5 L145.2,124.9 L145.5,124.2 L145.9,123.6 L146.3,123.0 L146.7,122.4 L147.0,121.7 L147.4,121.1 L147.8,120.5 L148.1,119.8 L148.5,119.2 L148.8,118.6 L149.2,117.9 L149.5,117.3 L149.9,116.6 L150.2,116.0 L150.6,115.3 L150.9,114.7 L151.2,114.0 L151.5,113.4 L151.9,112.7 L152.2,112.0 L152.5,111.4 L152.8,110.7 L153.1,110.1 L153.4,109.4 L153.7,108.7 L154.0,108.1 L154.3,107.4 L154.6,106.7 L154.9,106.0 L155.2,105.4 L155.5,104.7 L155.7,104.0 L156.0,103.3 L156.3,102.6 L156.6,102.0 L156.8,101.3 L157.1,100.6 L157.4,99.9 L157.6,99.2 L157.9,98.5 L158.1,97.8 L158.4,97.2 L158.6,96.5 L158.9,95.8 L159.1,95.1 L159.4,94.4 L159.6,93.7 L159.9,93.0 L160.1,92.3 L160.3,91.6 L160.6,90.9 L160.8,90.2 L161.0,89.5 L161.3,88.8 L161.5,88.1 L161.7,87.4 L161.9,86.7 L162.2,86.0 L162.4,85.3 L162.6,84.6 L162.8,83.8 L163.0,83.1 L163.3,82.4 L163.5,81.7 L163.7,81.0 L163.9,80.3 L164.1,79.6 L164.3,78.9 L164.5,78.2 L164.7,77.4 L164.9,76.7 L165.1,76.0 L165.3,75.3 L165.5,74.6 L165.7,73.9 L165.9,73.2 L166.1,72.5 L166.3,71.7 L166.5,71.0 L166.7,70.3 L166.9,69.6 L167.1,68.9 L167.2,68.2 L167.4,67.4 L167.6,66.7 L167.8,66.0 L168.0,65.3 L168.2,64.6 L168.4,63.9 L168.6,63.1 L168.8,62.4 L168.9,61.7 L169.1,61.0 L169.3,60.3 L169.5,59.6 L169.7,58.9 L169.9,58.1 L170.0,57.4 L170.2,56.7 L170.4,56.0 L170.6,55.3 L170.8,54.6 L171.0,53.9 L171.1,53.2 L171.3,52.4 L171.5,51.7 L171.7,51.0 L171.9,50.3 L172.1,49.6 L172.3,48.9 L172.7,47.4 L172.9,46.7 L173.1,46.0 L173.3,45.2 L173.5,44.5 L173.7,43.8 L174.0,43.1 L174.3,42.4 L174.5,41.8 L174.8,41.1 L175.1,40.5 L175.5,39.9 L175.9,39.3 L176.4,38.7 L176.8,38.1 L177.3,37.5 L177.9,37.0 L178.4,36.5 L179.0,35.9 L179.6,35.5 L180.2,35.1 L180.8,34.7 L181.4,34.3 L182.0,33.9 L182.6,33.5 L183.3,33.2 L184.0,32.8 L184.6,32.5 L185.3,32.2 L186.1,31.9 L186.8,31.6 L187.5,31.4 L188.2,31.2 L188.9,31.0 L189.6,30.9 L190.3,30.8 L191.0,30.7 L191.8,30.6 L192.5,30.5 L193.2,30.4 L194.0,30.3 L194.7,30.2 L195.4,30.2 L196.2,30.1 L196.9,30.0 L197.7,30.0 L198.4,29.9 L199.2,29.9 L199.9,29.9 L200.7,29.9 L201.4,29.8 L202.1,29.8 L202.9,29.9 L203.6,29.9 L204.4,29.9 L205.1,29.9 L205.8,30.0 L206.6,30.0 L207.3,30.1 L208.1,30.1 L208.8,30.2 L209.5,30.2 L210.3,30.3 L211.0,30.3 L211.7,30.4 L212.5,30.4 L213.2,30.5 L214.0,30.5 L214.7,30.6 L215.4,30.6 L216.2,30.6 L216.9,30.6 L217.7,30.6 L218.4,30.6 L219.1,30.6 L219.9,30.6 L220.6,30.6 L221.4,30.6 L222.1,30.6 L222.8,30.6 L223.6,30.6 L224.3,30.6 L225.1,30.6 L225.8,30.6 L226.5,30.6 L227.3,30.6 L228.0,30.6 L228.8,30.6 L229.5,30.6 L230.2,30.6 L231.0,30.6 L231.7,30.6 L232.5,30.6 L233.2,30.6 L233.9,30.6 L234.7,30.6 L235.4,30.6 L236.2,30.6 L236.9,30.6 L237.6,30.6 L238.4,30.5 L239.1,30.5 L239.8,30.5 L240.6,30.4 L241.3,30.4 L242.1,30.3 L242.8,30.3 L243.5,30.2 L244.3,30.1 L245.0,30.1 L245.8,30.0 L246.5,30.0 L247.2,29.9 L248.0,29.8 L248.7,29.7 L249.4,29.7 L250.2,29.6 L250.9,29.5 L251.6,29.5 L252.4,29.4 L253.1,29.3 L253.9,29.3 L254.6,29.2 L255.3,29.1 L256.1,29.0 L256.8,28.9 L257.5,28.9 L258.3,28.8 L259.0,28.7 L259.7,28.6 L260.5,28.5 L261.2,28.4 L261.9,28.3 L262.7,28.2 L263.4,28.1 L264.1,28.0 L264.9,27.9 L265.6,27.8 L266.3,27.7 L267.1,27.6 L267.8,27.5 L268.5,27.4 L269.3,27.3 L270.0,27.2 L270.7,27.1 L271.5,27.0 L272.2,26.9 L272.9,26.8 L273.7,26.7 L274.4,26.6 L275.1,26.5 L275.9,26.4 L276.6,26.3 L277.3,26.2 L278.1,26.0 L278.8,25.9 L279.5,25.8 L280.3,25.7 L281.0,25.6 L281.7,25.5 L282.4,25.4 L283.2,25.3 L283.9,25.2 L284.6,25.1 L285.4,25.0 L286.1,24.9 L286.8,24.8 L287.6,24.6 L288.3,24.5 L289.0,24.4 L289.8,24.3 L290.5,24.2 L291.2,24.1 L292.0,24.0 L292.7,23.8 L293.4,23.7 L294.1,23.6 L294.9,23.5 L295.6,23.3 L296.3,23.2 L297.1,23.1 L297.8,23.0 L298.5,22.8 L299.2,22.7 L300.0,22.6 L300.7,22.5" stroke="#ff8000" stroke-width="3.5" fill="none" stroke-linecap="round" stroke-linejoin="round"/><path d="M47.6,142.7 L48.3,142.8 L49.0,142.9 L49.8,143.0 L50.5,143.0 L51.2,143.1 L52.0,143.1 L52.7,143.1 L53.4,143.1 L54.2,143.1 L54.9,143.0 L55.6,143.0 L56.3,142.7 L57.0,142.4 L57.7,142.4 L58.4,142.6 L59.1,142.9 L59.8,143.2 L60.4,143.5 L61.0,143.9 L61.6,144.4 L62.1,145.0 L62.6,145.5 L63.2,146.0 L63.8,146.4 L64.4,146.7 L65.0,147.0 L65.7,147.3 L66.4,147.6 L67.0,147.8 L67.7,148.1 L68.4,148.3 L69.1,148.6 L69.8,148.8 L70.5,149.0 L71.2,149.2 L71.9,149.4 L72.6,149.6 L73.3,149.8 L74.0,150.1 L74.7,150.2 L75.4,150.4 L76.1,150.6 L76.8,150.8 L77.5,151.0 L78.2,151.1 L78.9,151.3 L79.7,151.5 L80.4,151.6 L81.1,151.8 L81.8,151.9 L82.5,152.0 L83.3,152.2 L84.0,152.3 L84.7,152.4 L85.4,152.5 L86.1,152.6 L86.9,152.6 L87.6,152.7 L88.3,152.8 L89.0,152.8 L89.8,152.9 L90.5,152.9 L91.2,152.9 L91.9,153.0 L92.7,153.0 L93.4,153.0 L94.1,153.0 L94.9,152.9 L95.6,152.9 L96.3,152.9 L97.0,152.8 L97.8,152.8 L98.5,152.7 L99.2,152.6 L99.9,152.5 L100.6,152.4 L101.3,152.3 L102.1,152.2 L102.8,152.1 L103.5,152.0 L104.2,151.8 L104.9,151.7 L105.6,151.5 L106.3,151.3 L107.0,151.2 L107.7,151.0 L108.4,150.8 L109.1,150.5 L109.7,150.3 L110.4,150.1 L111.1,149.8 L111.8,149.6 L112.4,149.3 L113.1,149.1 L113.8,148.8 L114.4,148.5 L115.1,148.2 L115.7,147.9 L116.4,147.6 L117.0,147.3 L117.7,146.9 L118.3,146.6 L118.9,146.2 L119.6,145.9 L120.2,145.5 L120.8,145.1 L121.4,144.8 L122.0,144.4 L122.7,144.0 L123.3,143.6 L123.9,143.2 L124.5,142.8 L125.0,142.3 L125.6,141.9 L126.2,141.5 L126.8,141.0 L127.4,140.6 L127.9,140.1 L128.5,139.7 L129.1,139.2 L129.6,138.7 L130.2,138.3 L130.7,137.8 L131.3,137.3 L131.8,136.8 L132.4,136.3 L132.9,135.8 L133.4,135.3 L134.0,134.7 L134.5,134.2 L135.0,133.7 L135.5,133.2 L136.0,132.6 L136.5,132.1 L137.0,131.6 L137.5,131.0 L138.0,130.5 L138.5,129.9 L138.9,129.3 L139.4,128.8 L139.9,128.2 L140.4,127.7 L140.8,127.1 L141.3,126.5 L141.7,125.9 L142.2,125.3 L142.6,124.8 L143.0,124.2 L143.5,123.6 L143.9,123.0 L144.3,122.4 L144.7,121.8 L145.1,121.2 L145.5,120.6 L145.9,120.0 L146.3,119.4 L146.7,118.8 L147.1,118.2 L147.5,117.6 L147.9,116.9 L148.2,116.3 L148.6,115.7 L149.0,115.1 L149.3,114.5 L149.7,113.8 L150.1,113.2 L150.4,112.6 L150.8,111.9 L151.1,111.3 L151.4,110.7 L151.8,110.0 L152.1,109.4 L152.4,108.7 L152.8,108.1 L153.1,107.4 L153.4,106.8 L153.7,106.1 L154.0,105.5 L154.3,104.8 L154.6,104.2 L154.9,103.5 L155.2,102.8 L155.5,102.2 L155.8,101.5 L156.1,100.8 L156.4,100.2 L156.7,99.5 L156.9,98.8 L157.2,98.2 L157.5,97.5 L157.8,96.8 L158.0,96.1 L158.3,95.5 L158.5,94.8 L158.8,94.1 L159.1,93.4 L159.3,92.7 L159.6,92.0 L159.8,91.4 L160.1,90.7 L160.3,90.0 L160.5,89.3 L160.8,88.6 L161.0,87.9 L161.3,87.2 L161.5,86.5 L161.7,85.8 L161.9,85.1 L162.2,84.4 L162.4,83.7 L162.6,83.0 L162.8,82.4 L163.1,81.7 L163.3,81.0 L163.5,80.3 L163.7,79.6 L163.9,78.9 L164.1,78.1 L164.3,77.4 L164.5,76.7 L164.7,76.0 L165.0,75.3 L165.2,74.6 L165.4,73.9 L165.6,73.2 L165.8,72.5 L166.0,71.8 L166.2,71.1 L166.3,70.4 L166.5,69.7 L166.7,69.0 L166.9,68.3 L167.1,67.6 L167.3,66.9 L167.5,66.2 L167.7,65.4 L167.9,64.7 L168.1,64.0 L168.3,63.3 L168.4,62.6 L168.6,61.9 L168.8,61.2 L169.0,60.5 L169.2,59.8 L169.4,59.1 L169.6,58.4 L169.7,57.7 L169.9,57.0 L170.1,56.3 L170.3,55.6 L170.5,54.9 L170.7,54.2 L170.9,53.5 L171.0,52.8 L171.2,52.1 L171.4,51.4 L171.6,50.7 L171.8,50.0 L172.0,49.3 L172.4,47.8 L172.6,47.1 L172.8,46.4 L173.0,45.6 L173.2,44.9 L173.4,44.2 L173.6,43.5 L173.9,42.8 L174.2,42.2 L174.4,41.5 L174.7,40.9 L175.1,40.3 L175.4,39.7 L175.8,39.1 L176.3,38.5 L176.8,37.9 L177.3,37.3 L177.8,36.8 L178.4,36.3 L178.9,35.8 L179.5,35.3 L180.1,34.9 L180.6,34.5 L181.2,34.1 L181.8,33.7 L182.5,33.4 L183.1,33.0 L183.8,32.6 L184.5,32.3 L185.2,32.0 L185.9,31.7 L186.6,31.4 L187.3,31.2 L188.0,31.0 L188.7,30.8 L189.4,30.7 L190.1,30.6 L190.8,30.5 L191.5,30.4 L192.2,30.3 L193.0,30.2 L193.7,30.2 L194.4,30.1 L195.2,30.0 L195.9,30.0 L196.6,29.9 L197.4,29.8 L198.1,29.8 L198.8,29.8 L199.6,29.7 L200.3,29.7 L201.1,29.7 L201.8,29.7 L202.5,29.7 L203.2,29.7 L204.0,29.8 L204.7,29.8 L205.4,29.8 L206.2,29.9 L206.9,29.9 L207.6,30.0 L208.4,30.0 L209.1,30.1 L209.8,30.2 L210.5,30.2 L211.3,30.3 L212.0,30.3 L212.7,30.4 L213.5,30.4 L214.2,30.5 L214.9,30.5 L215.7,30.6 L216.4,30.6 L217.1,30.6 L217.8,30.6 L218.6,30.6 L219.3,30.6 L220.0,30.6 L220.8,30.6 L221.5,30.6 L222.2,30.6 L223.0,30.7 L223.7,30.7 L224.4,30.7 L225.2,30.7 L225.9,30.7 L226.6,30.7 L227.4,30.7 L228.1,30.7 L228.8,30.7 L229.6,30.7 L230.3,30.7 L231.0,30.7 L231.7,30.7 L232.5,30.7 L233.2,30.7 L233.9,30.7 L234.7,30.7 L235.4,30.7 L236.1,30.7 L236.9,30.7 L237.6,30.6 L238.3,30.6 L239.1,30.6 L239.8,30.5 L240.5,30.5 L241.2,30.5 L242.0,30.4 L242.7,30.4 L243.4,30.3 L244.2,30.2 L244.9,30.2 L245.6,30.1 L246.4,30.1 L247.1,30.0 L247.8,29.9 L248.5,29.9 L249.3,29.8 L250.0,29.7 L250.7,29.7 L251.5,29.6 L252.2,29.5 L252.9,29.5 L253.6,29.4 L254.4,29.3 L255.1,29.3 L255.8,29.2 L256.6,29.1 L257.3,29.0 L258.0,28.9 L258.7,28.8 L259.5,28.8 L260.2,28.7 L260.9,28.6 L261.6,28.5 L262.4,28.4 L263.1,28.3 L263.8,28.2 L264.5,28.1 L265.3,28.0 L266.0,27.9 L266.7,27.8 L267.4,27.7 L268.2,27.6 L268.9,27.5 L269.6,27.4 L270.3,27.3 L271.1,27.2 L271.8,27.1 L272.5,27.0 L273.2,26.9 L274.0,26.8 L274.7,26.7 L275.4,26.6 L276.1,26.5 L276.9,26.4 L277.6,26.3 L278.3,26.2 L279.0,26.1 L279.8,25.9 L280.5,25.8 L281.2,25.7 L281.9,25.6 L282.6,25.5 L283.4,25.4 L284.1,25.3 L284.8,25.2 L285.5,25.1 L286.3,25.0 L287.0,24.9 L287.7,24.8 L288.4,24.7 L289.2,24.5 L289.9,24.4 L290.6,24.3 L291.3,24.2 L292.0,24.1 L292.8,24.0 L293.5,23.8 L294.2,23.7 L294.9,23.6 L295.7,23.5 L296.4,23.4 L297.1,23.2 L297.8,23.1 L298.5,23.0 L299.3,22.9 L300.0,22.7 L300.7,22.6" stroke="#ff0080" stroke-width="3.5" fill="none" stroke-linecap="round" stroke-linejoin="round"/></g>
<rect x="180.9" y="50.5" width="132.4" height="126.1" fill="#fff"/>
<clipPath id="ic"><rect x="180.9" y="50.5" width="132.4" height="126.1"/></clipPath><g clip-path="url(#ic)"><path d="M180.8,112.6 L181.0,112.4 L181.2,112.1 L181.3,111.9 L181.5,111.6 L181.7,111.4 L181.9,111.1 L182.1,110.9 L182.3,110.6 L182.5,110.4 L182.6,110.1 L182.8,109.9 L183.0,109.6 L183.2,109.4 L183.4,109.1 L183.6,108.9 L183.8,108.7 L184.0,108.4 L184.2,108.2 L184.4,107.9 L184.6,107.7 L184.7,107.4 L184.9,107.2 L185.1,107.0 L185.3,106.7 L185.5,106.5 L185.7,106.3 L185.9,106.0 L186.1,105.8 L186.3,105.5 L186.5,105.3 L186.7,105.1 L186.9,104.8 L187.1,104.6 L187.3,104.4 L187.5,104.1 L187.7,103.9 L187.9,103.7 L188.1,103.4 L188.3,103.2 L188.5,103.0 L188.7,102.7 L188.9,102.5 L189.1,102.3 L189.3,102.0 L189.5,101.8 L189.7,101.6 L189.9,101.3 L190.1,101.1 L190.3,100.8 L190.5,100.6 L190.7,100.4 L190.9,100.1 L191.1,99.9 L191.3,99.6 L191.5,99.4 L191.7,99.2 L191.9,98.9 L192.1,98.7 L192.3,98.4 L192.5,98.2 L192.7,97.9 L192.8,97.7 L193.0,97.4 L193.2,97.2 L193.4,96.9 L193.6,96.7 L193.8,96.4 L194.0,96.2 L194.1,95.9 L194.3,95.7 L194.5,95.4 L194.7,95.2 L194.9,94.9 L195.1,94.7 L195.2,94.5 L195.4,94.2 L195.6,94.0 L195.8,93.7 L196.0,93.5 L196.2,93.2 L196.4,93.0 L196.6,92.7 L196.8,92.5 L196.9,92.3 L197.1,92.0 L197.3,91.8 L197.5,91.5 L197.7,91.3 L197.9,91.1 L198.1,90.8 L198.3,90.6 L198.5,90.4 L198.7,90.1 L199.0,89.9 L199.2,89.7 L199.4,89.5 L199.6,89.3 L199.8,89.1 L200.0,88.8 L200.3,88.6 L200.5,88.4 L200.7,88.2 L201.0,88.0 L201.2,87.8 L201.4,87.6 L201.7,87.4 L201.9,87.2 L202.1,87.0 L202.4,86.8 L202.6,86.6 L202.8,86.4 L203.1,86.1 L203.3,85.9 L203.5,85.7 L203.8,85.5 L204.0,85.3 L204.2,85.1 L204.4,84.9 L204.7,84.7 L204.9,84.5 L205.1,84.2 L205.3,84.0 L205.5,83.8 L205.7,83.6 L205.9,83.4 L206.1,83.1 L206.3,82.9 L206.5,82.7 L206.7,82.4 L206.9,82.2 L207.1,81.9 L207.3,81.7 L207.5,81.5 L207.7,81.2 L207.9,81.0 L208.1,80.7 L208.2,80.5 L208.4,80.2 L208.6,80.0 L208.8,79.7 L209.0,79.5 L209.1,79.2 L209.3,78.9 L209.5,78.7 L209.7,78.4 L209.9,78.2 L210.0,77.9 L210.2,77.7 L210.4,77.4 L210.6,77.2 L210.8,76.9 L211.0,76.7 L211.1,76.4 L211.3,76.2 L211.5,75.9 L211.7,75.7 L211.9,75.4 L212.1,75.2 L212.3,75.0 L212.5,74.7 L212.7,74.5 L212.9,74.3 L213.1,74.0 L213.3,73.8 L213.5,73.6 L213.7,73.3 L213.9,73.1 L214.1,72.9 L214.3,72.7 L214.5,72.4 L214.7,72.2 L215.0,72.0 L215.2,71.8 L215.4,71.5 L215.6,71.3 L215.8,71.1 L216.0,70.9 L216.3,70.6 L216.5,70.4 L216.7,70.2 L216.9,70.0 L217.1,69.8 L217.4,69.6 L217.6,69.3 L217.8,69.1 L218.0,68.9 L218.3,68.7 L218.5,68.5 L218.7,68.3 L219.0,68.1 L219.2,67.9 L219.4,67.7 L219.7,67.5 L219.9,67.3 L220.1,67.1 L220.4,66.9 L220.6,66.7 L220.8,66.5 L221.1,66.3 L221.3,66.1 L221.6,65.9 L221.8,65.7 L222.0,65.5 L222.3,65.3 L222.5,65.1 L222.8,65.0 L223.0,64.8 L223.3,64.6 L223.5,64.4 L223.8,64.2 L224.0,64.0 L224.3,63.8 L224.6,63.7 L224.8,63.5 L225.1,63.3 L225.3,63.1 L225.6,63.0 L225.8,62.8 L226.1,62.7 L226.4,62.5 L226.6,62.3 L226.9,62.2 L227.2,62.0 L227.4,61.9 L227.7,61.7 L228.0,61.6 L228.3,61.5 L228.5,61.3 L228.8,61.2 L229.1,61.0 L229.4,60.9 L229.6,60.7 L229.9,60.5 L230.2,60.4 L230.5,60.2 L230.8,60.1 L231.1,59.9 L231.3,59.8 L231.6,59.7 L231.9,59.5 L232.2,59.4 L232.5,59.3 L232.8,59.2 L233.1,59.1 L233.4,59.0 L233.7,59.0 L234.0,58.9 L234.3,58.8 L234.6,58.8 L234.9,58.8 L235.2,58.8 L235.5,58.8 L235.8,58.8 L236.1,58.8 L236.4,58.8 L236.7,58.9 L237.0,58.9 L237.3,58.9 L237.6,58.9 L237.9,59.0 L238.2,59.0 L238.5,59.0 L238.8,59.1 L239.1,59.1 L239.5,59.1 L239.8,59.2 L240.1,59.2 L240.4,59.3 L240.7,59.3 L241.0,59.3 L241.3,59.4 L241.6,59.4 L241.9,59.5 L242.3,59.5 L242.6,59.5 L242.9,59.6 L243.2,59.6 L243.5,59.6 L243.8,59.7 L244.1,59.7 L244.4,59.7 L244.7,59.8 L245.0,59.8 L245.3,59.9 L245.6,59.9 L245.9,59.9 L246.3,60.0 L246.6,60.0 L246.9,60.1 L247.2,60.1 L247.5,60.1 L247.8,60.2 L248.1,60.2 L248.4,60.3 L248.7,60.3 L249.0,60.4 L249.3,60.4 L249.6,60.5 L249.9,60.6 L250.2,60.6 L250.5,60.7 L250.8,60.8 L251.1,60.8 L251.4,60.9 L251.7,61.0 L252.0,61.0 L252.3,61.1 L252.6,61.2 L252.9,61.3 L253.2,61.4 L253.5,61.5 L253.8,61.6 L254.1,61.7 L254.4,61.8 L254.7,61.9 L255.0,62.0 L255.3,62.1 L255.6,62.2 L255.9,62.3 L256.2,62.4 L256.5,62.5 L256.7,62.6 L257.0,62.7 L257.3,62.8 L257.6,63.0 L257.9,63.1 L258.1,63.2 L258.4,63.3 L258.7,63.5 L259.0,63.6 L259.2,63.8 L259.5,63.9 L259.8,64.1 L260.0,64.2 L260.3,64.4 L260.6,64.6 L260.9,64.7 L261.1,64.9 L261.4,65.1 L261.6,65.3 L261.9,65.5 L262.1,65.7 L262.4,65.8 L262.6,66.0 L262.9,66.2 L263.1,66.4 L263.3,66.6 L263.6,66.8 L263.8,67.0 L264.0,67.2 L264.2,67.4 L264.4,67.6 L264.7,67.8 L264.9,68.1 L265.1,68.3 L265.3,68.5 L265.5,68.7 L265.7,69.0 L265.8,69.2 L266.0,69.4 L266.2,69.7 L266.4,69.9 L266.6,70.2 L266.8,70.4 L267.0,70.7 L267.1,70.9 L267.3,71.2 L267.5,71.4 L267.7,71.7 L267.8,71.9 L268.0,72.2 L268.2,72.5 L268.4,72.7 L268.5,73.0 L268.7,73.3 L268.9,73.5 L269.0,73.8 L269.2,74.1 L269.4,74.3 L269.5,74.6 L269.7,74.9 L269.9,75.1 L270.0,75.4 L270.2,75.7 L270.4,75.9 L270.6,76.2 L270.7,76.5 L270.9,76.7 L271.1,77.0 L271.3,77.2 L271.4,77.5 L271.6,77.8 L271.8,78.0 L272.0,78.3 L272.2,78.5 L272.3,78.8 L272.5,79.0 L272.7,79.3 L272.9,79.5 L273.1,79.8 L273.3,80.0 L273.4,80.2 L273.6,80.5 L273.8,80.7 L274.0,81.0 L274.2,81.2 L274.4,81.5 L274.6,81.7 L274.7,82.0 L274.9,82.2 L275.1,82.5 L275.3,82.7 L275.5,83.0 L275.7,83.2 L275.9,83.5 L276.0,83.7 L276.2,84.0 L276.4,84.2 L276.6,84.4 L276.8,84.7 L277.0,84.9 L277.2,85.2 L277.3,85.4 L277.5,85.7 L277.7,85.9 L277.9,86.2 L278.1,86.4 L278.3,86.7 L278.5,86.9 L278.7,87.2 L278.8,87.4 L279.0,87.6 L279.2,87.9 L279.4,88.1 L279.6,88.4 L279.8,88.6 L280.0,88.9 L280.2,89.1 L280.3,89.4 L280.5,89.6 L280.7,89.9 L280.9,90.1 L281.1,90.3 L281.3,90.6 L281.5,90.8 L281.7,91.1 L281.9,91.3 L282.1,91.6 L282.2,91.8 L282.4,92.0 L282.6,92.3 L282.8,92.5 L283.0,92.8 L283.2,93.0 L283.4,93.3 L283.6,93.5 L283.8,93.8 L284.0,94.0 L284.1,94.2 L284.3,94.5 L284.5,94.7 L284.7,95.0 L284.9,95.2 L285.1,95.5 L285.3,95.7 L285.5,96.0 L285.6,96.2 L285.8,96.5 L286.0,96.7 L286.2,97.0 L286.4,97.2 L286.6,97.5 L286.7,97.7 L286.9,98.0 L287.1,98.2 L287.3,98.5 L287.5,98.7 L287.6,99.0 L287.8,99.2 L288.0,99.5 L288.2,99.7 L288.3,100.0 L288.5,100.3 L288.7,100.5 L288.8,100.8 L289.0,101.0 L289.2,101.3 L289.3,101.6 L289.5,101.8 L289.7,102.1 L289.9,102.3 L290.0,102.6 L290.2,102.9 L290.4,103.1 L290.5,103.4 L290.7,103.6 L290.9,103.9 L291.0,104.2 L291.2,104.4 L291.4,104.7 L291.6,104.9 L291.7,105.2 L291.9,105.4 L292.1,105.7 L292.3,105.9 L292.4,106.2 L292.6,106.4 L292.8,106.7 L293.0,106.9 L293.2,107.2 L293.4,107.4 L293.5,107.7 L293.7,107.9 L293.9,108.2 L294.1,108.4 L294.3,108.6 L294.5,108.9 L294.7,109.1 L294.9,109.3 L295.1,109.6 L295.3,109.8 L295.5,110.0 L295.7,110.3 L295.9,110.5 L296.1,110.8 L296.3,111.0 L296.5,111.2 L296.7,111.5 L296.9,111.7 L297.2,111.9 L297.4,112.1 L297.6,112.4 L297.8,112.6 L298.0,112.8 L298.2,113.0 L298.4,113.3 L298.7,113.5 L298.9,113.7 L299.1,113.9 L299.3,114.1 L299.6,114.4 L299.8,114.6 L300.0,114.8 L300.2,115.0 L300.5,115.2 L300.7,115.4 L300.9,115.6 L301.2,115.8 L301.4,116.0 L301.6,116.2 L301.9,116.4 L302.1,116.6 L302.3,116.8 L302.6,117.0 L302.8,117.2 L303.1,117.4 L303.3,117.7 L303.6,117.9 L303.8,118.1 L304.1,118.3 L304.4,118.5 L304.6,118.7 L304.9,118.8 L305.2,118.9 L305.4,119.0 L305.7,119.0 L306.0,119.0 L306.3,118.9 L306.6,118.9 L306.9,118.8 L307.2,118.7 L307.5,118.5 L307.8,118.4 L308.1,118.2 L308.3,118.1 L308.6,117.9 L308.8,117.8 L309.0,117.6 L309.2,117.4 L309.4,117.1 L309.6,116.9 L309.8,116.6 L310.0,116.4 L310.2,116.1 L310.4,115.8 L310.6,115.6 L310.7,115.3 L310.9,115.1 L311.2,114.8 L311.4,114.6 L311.6,114.4 L311.8,114.1 L312.0,113.9 L312.2,113.7 L312.4,113.5 L312.6,113.3 L312.9,113.0 L313.1,112.8 L313.3,112.6" stroke="#000" stroke-width="1.2" fill="none"/><circle cx="191.3" cy="99.6" r="2.05" fill="#000"/><circle cx="198.5" cy="90.4" r="2.05" fill="#000"/><circle cx="205.9" cy="83.4" r="2.05" fill="#000"/><circle cx="213.3" cy="73.8" r="2.05" fill="#000"/><circle cx="220.6" cy="66.7" r="2.05" fill="#000"/><circle cx="228.0" cy="61.6" r="2.05" fill="#000"/><circle cx="235.5" cy="58.8" r="2.05" fill="#000"/><circle cx="242.6" cy="59.5" r="2.05" fill="#000"/><circle cx="249.9" cy="60.6" r="2.05" fill="#000"/><circle cx="257.3" cy="62.8" r="2.05" fill="#000"/><circle cx="264.7" cy="67.8" r="2.05" fill="#000"/><circle cx="272.2" cy="78.5" r="2.05" fill="#000"/><circle cx="279.4" cy="88.1" r="2.05" fill="#000"/><circle cx="286.7" cy="97.7" r="2.05" fill="#000"/><circle cx="294.1" cy="108.4" r="2.05" fill="#000"/><circle cx="301.4" cy="116.0" r="2.05" fill="#000"/><circle cx="308.8" cy="121.4" r="2.05" fill="#000"/><path d="M180.8,112.6 L181.1,112.4 L181.4,112.3 L181.7,112.1 L182.0,112.0 L182.4,111.8 L182.7,111.7 L183.0,111.5 L183.3,111.4 L183.6,111.2 L183.9,111.1 L184.2,111.0 L184.6,110.8 L184.9,110.7 L185.2,110.6 L185.5,110.4 L185.8,110.3 L186.2,110.2 L186.5,110.0 L186.8,109.9 L187.1,109.8 L187.4,109.6 L187.8,109.5 L188.1,109.4 L188.4,109.3 L188.7,109.1 L189.1,109.0 L189.4,108.9 L189.7,108.7 L190.0,108.6 L190.3,108.5 L190.6,108.3 L191.0,108.2 L191.3,108.1 L191.6,107.9 L191.9,107.8 L192.2,107.6 L192.5,107.5 L192.8,107.3 L193.1,107.2 L193.4,107.0 L193.8,106.8 L194.1,106.7 L194.4,106.5 L194.7,106.3 L195.0,106.2 L195.3,106.0 L195.6,105.8 L195.9,105.6 L196.2,105.5 L196.5,105.3 L196.8,105.1 L197.1,104.9 L197.4,104.8 L197.7,104.6 L198.0,104.4 L198.3,104.3 L198.6,104.1 L198.9,103.9 L199.2,103.8 L199.5,103.6 L199.8,103.5 L200.1,103.3 L200.4,103.2 L200.7,103.0 L201.0,102.9 L201.4,102.7 L201.7,102.6 L202.0,102.4 L202.3,102.3 L202.6,102.2 L202.9,102.0 L203.2,101.9 L203.6,101.7 L203.9,101.6 L204.2,101.5 L204.5,101.3 L204.8,101.2 L205.2,101.1 L205.5,100.9 L205.8,100.8 L206.1,100.6 L206.4,100.5 L206.8,100.4 L207.1,100.2 L207.4,100.1 L207.7,100.0 L208.0,99.8 L208.3,99.7 L208.7,99.6 L209.0,99.4 L209.3,99.3 L209.6,99.1 L209.9,99.0 L210.3,98.9 L210.6,98.7 L210.9,98.6 L211.2,98.5 L211.5,98.3 L211.9,98.2 L212.2,98.1 L212.5,98.0 L212.8,97.8 L213.1,97.7 L213.5,97.6 L213.8,97.5 L214.1,97.4 L214.5,97.3 L214.8,97.2 L215.1,97.1 L215.4,97.0 L215.8,96.8 L216.1,96.7 L216.4,96.6 L216.8,96.5 L217.1,96.4 L217.4,96.3 L217.8,96.2 L218.1,96.1 L218.4,96.0 L218.8,95.9 L219.1,95.9 L219.4,95.8 L219.8,95.7 L220.1,95.6 L220.4,95.5 L220.8,95.5 L221.1,95.4 L221.4,95.3 L221.8,95.2 L222.1,95.2 L222.5,95.1 L222.8,95.0 L223.1,95.0 L223.5,94.9 L223.8,94.8 L224.2,94.8 L224.5,94.7 L224.8,94.7 L225.2,94.6 L225.5,94.5 L225.9,94.5 L226.2,94.4 L226.6,94.4 L226.9,94.3 L227.2,94.3 L227.6,94.3 L227.9,94.2 L228.3,94.2 L228.6,94.1 L229.0,94.1 L229.3,94.0 L229.6,94.0 L230.0,94.0 L230.3,93.9 L230.7,93.9 L231.0,93.8 L231.4,93.8 L231.7,93.8 L232.1,93.7 L232.4,93.7 L232.7,93.7 L233.1,93.7 L233.4,93.7 L233.8,93.7 L234.1,93.7 L234.5,93.7 L234.8,93.7 L235.2,93.7 L235.5,93.8 L235.9,93.8 L236.2,93.8 L236.6,93.8 L236.9,93.8 L237.2,93.8 L237.6,93.9 L237.9,93.9 L238.3,93.9 L238.6,94.0 L239.0,94.0 L239.3,94.0 L239.6,94.1 L240.0,94.2 L240.3,94.2 L240.7,94.3 L241.0,94.4 L241.3,94.5 L241.7,94.5 L242.0,94.6 L242.4,94.7 L242.7,94.8 L243.0,94.9 L243.4,95.0 L243.7,95.1 L244.0,95.1 L244.4,95.2 L244.7,95.3 L245.0,95.4 L245.4,95.5 L245.7,95.7 L246.0,95.8 L246.3,95.9 L246.7,96.0 L247.0,96.1 L247.3,96.2 L247.7,96.4 L248.0,96.5 L248.3,96.6 L248.6,96.8 L248.9,96.9 L249.3,97.1 L249.6,97.2 L249.9,97.3 L250.2,97.5 L250.5,97.6 L250.8,97.8 L251.1,98.0 L251.4,98.1 L251.7,98.3 L252.0,98.5 L252.2,98.7 L252.5,98.9 L252.8,99.1 L253.1,99.3 L253.4,99.5 L253.7,99.7 L253.9,99.9 L254.2,100.1 L254.5,100.3 L254.8,100.5 L255.0,100.8 L255.3,101.0 L255.6,101.2 L255.8,101.4 L256.1,101.6 L256.4,101.9 L256.7,102.1 L256.9,102.3 L257.2,102.5 L257.5,102.7 L257.8,102.9 L258.1,103.1 L258.4,103.3 L258.6,103.5 L258.9,103.7 L259.2,103.9 L259.5,104.1 L259.8,104.2 L260.1,104.4 L260.4,104.6 L260.7,104.8 L261.0,105.0 L261.3,105.2 L261.5,105.4 L261.8,105.6 L262.1,105.8 L262.4,106.0 L262.7,106.2 L263.0,106.4 L263.2,106.6 L263.5,106.8 L263.8,107.0 L264.0,107.2 L264.3,107.5 L264.6,107.7 L264.8,107.9 L265.1,108.1 L265.3,108.4 L265.6,108.6 L265.8,108.8 L266.1,109.1 L266.3,109.3 L266.6,109.6 L266.8,109.8 L267.1,110.1 L267.3,110.3 L267.6,110.6 L267.8,110.8 L268.0,111.1 L268.3,111.3 L268.5,111.6 L268.7,111.8 L268.9,112.1 L269.2,112.4 L269.4,112.6 L269.6,112.9 L269.8,113.2 L270.0,113.5 L270.2,113.7 L270.5,114.0 L270.7,114.3 L270.9,114.5 L271.1,114.8 L271.4,115.1 L271.6,115.3 L271.8,115.6 L272.0,115.8 L272.3,116.1 L272.5,116.3 L272.7,116.6 L273.0,116.8 L273.2,117.1 L273.5,117.4 L273.7,117.6 L273.9,117.9 L274.2,118.1 L274.4,118.4 L274.6,118.6 L274.9,118.9 L275.1,119.1 L275.4,119.4 L275.6,119.6 L275.9,119.8 L276.1,120.1 L276.3,120.3 L276.6,120.6 L276.8,120.8 L277.1,121.1 L277.3,121.3 L277.6,121.6 L277.8,121.8 L278.1,122.1 L278.3,122.3 L278.5,122.5 L278.8,122.8 L279.0,123.0 L279.3,123.3 L279.5,123.5 L279.8,123.7 L280.0,124.0 L280.3,124.2 L280.6,124.5 L280.8,124.7 L281.1,124.9 L281.3,125.1 L281.6,125.4 L281.8,125.6 L282.1,125.8 L282.4,126.0 L282.6,126.3 L282.9,126.5 L283.2,126.7 L283.4,126.9 L283.7,127.1 L284.0,127.4 L284.3,127.6 L284.5,127.8 L284.8,128.0 L285.1,128.2 L285.4,128.4 L285.6,128.6 L285.9,128.8 L286.2,129.0 L286.5,129.2 L286.8,129.4 L287.1,129.6 L287.4,129.8 L287.6,130.0 L287.9,130.2 L288.2,130.3 L288.5,130.5 L288.8,130.7 L289.1,130.9 L289.4,131.1 L289.7,131.2 L290.0,131.4 L290.3,131.6 L290.6,131.7 L290.9,131.9 L291.3,132.0 L291.6,132.2 L291.9,132.4 L292.2,132.6 L292.6,132.7 L292.9,132.9 L293.2,133.1 L293.5,133.2 L293.9,133.3 L294.2,133.4 L294.5,133.5 L294.8,133.6 L295.1,133.6 L295.4,133.6 L295.7,133.5 L296.0,133.4 L296.3,133.3 L296.6,133.1 L296.9,132.9 L297.2,132.6 L297.5,132.4 L297.8,132.1 L298.0,131.8 L298.3,131.6 L298.6,131.3 L298.8,131.0 L299.0,130.7 L299.2,130.4 L299.4,130.2 L299.6,129.9 L299.8,129.6 L299.9,129.4 L300.1,129.1 L300.3,128.8 L300.4,128.5 L300.6,128.2 L300.7,127.9 L300.9,127.6 L301.0,127.3 L301.2,127.0 L301.3,126.7 L301.4,126.3 L301.5,126.0 L301.7,125.7 L301.8,125.3 L301.9,125.0 L302.0,124.7 L302.2,124.3 L302.3,124.0 L302.4,123.6 L302.5,123.3 L302.6,123.0 L302.7,122.6 L302.8,122.3 L302.9,121.9 L303.0,121.6 L303.1,121.2 L303.2,120.9 L303.3,120.6 L303.4,120.2 L303.5,119.9 L303.7,119.6 L303.8,119.2 L303.9,118.9 L304.0,118.6 L304.1,118.2 L304.2,117.9 L304.3,117.6 L304.4,117.2 L304.5,116.9 L304.6,116.6 L304.7,116.3 L304.8,115.9 L304.8,115.6 L304.9,115.3 L305.0,114.9 L305.1,114.6 L305.2,114.3 L305.3,113.9 L305.4,113.6 L305.5,113.3 L305.6,112.9 L305.7,112.6 L305.8,112.3 L305.9,111.9 L305.9,111.6 L306.0,111.2 L306.1,110.9 L306.2,110.6 L306.3,110.2 L306.4,109.9 L306.5,109.6 L306.5,109.2 L306.6,108.9 L306.7,108.6 L306.8,108.2 L306.9,107.9 L306.9,107.5 L307.0,107.2 L307.1,106.9 L307.2,106.5 L307.3,106.2 L307.3,105.9 L307.4,105.5 L307.5,105.2 L307.6,104.8 L307.6,104.5 L307.7,104.2 L307.8,103.8 L307.9,103.5 L307.9,103.1 L308.0,102.8 L308.1,102.5 L308.1,102.1 L308.2,101.8 L308.3,101.5 L308.4,101.1 L308.4,100.8 L308.5,100.4 L308.6,100.1 L308.6,99.8 L308.7,99.4 L308.8,99.1 L308.8,98.7 L308.9,98.4 L309.0,98.1 L309.1,97.7 L309.1,97.4 L309.2,97.0 L309.3,96.7 L309.3,96.4 L309.4,96.0 L309.5,95.7 L309.5,95.4 L309.6,95.0 L309.7,94.7 L309.7,94.3 L309.8,94.0 L309.9,93.6 L309.9,93.3 L310.0,93.0 L310.1,92.6 L310.1,92.3 L310.2,91.9 L310.2,91.6 L310.3,91.3 L310.4,90.9 L310.4,90.6 L310.5,90.2 L310.5,89.9 L310.6,89.6 L310.7,89.2 L310.7,88.9 L310.8,88.5 L310.8,88.2 L310.9,87.8 L310.9,87.5 L311.0,87.2 L311.0,86.8 L311.1,86.5 L311.1,86.1 L311.2,85.8 L311.2,85.4 L311.3,85.1 L311.3,84.8 L311.3,84.4 L311.4,84.1 L311.4,83.7 L311.5,83.4 L311.5,83.0 L311.5,82.7 L311.6,82.4 L311.6,82.0 L311.6,81.7 L311.7,81.3 L311.7,81.0 L311.7,80.6 L311.8,80.3 L311.8,80.0 L311.8,79.6 L311.9,79.3 L311.9,78.9 L311.9,78.6 L312.0,78.2 L312.0,77.9 L312.0,77.6 L312.1,77.2 L312.1,76.9 L312.1,76.5 L312.2,76.2 L312.2,75.8 L312.2,75.5 L312.3,75.1 L312.3,74.8 L312.3,74.5 L312.3,74.1 L312.4,73.8 L312.4,73.4 L312.4,73.1 L312.5,72.7 L312.5,72.4 L312.5,72.0 L312.5,71.7 L312.6,71.4 L312.6,71.0 L312.6,70.7 L312.6,70.3 L312.7,70.0 L312.7,69.6 L312.7,69.3 L312.7,68.9 L312.7,68.6 L312.8,68.2 L312.8,67.9 L312.8,67.5 L312.8,67.2 L312.8,66.9 L312.9,66.5 L312.9,66.2 L312.9,65.8 L312.9,65.5 L312.9,65.1 L312.9,64.8 L312.9,64.4 L312.9,64.1 L313.0,63.7 L313.0,63.4 L313.0,63.0 L313.0,62.7 L313.0,62.3 L313.0,62.0" stroke="#000" stroke-width="1.2" fill="none"/><path d="M185.2,107.7 L187.7,112.0 L182.6,112.0Z" fill="#f00"/><path d="M189.7,105.8 L192.2,110.2 L187.1,110.2Z" fill="#f00"/><path d="M194.4,103.6 L196.9,108.0 L191.8,108.0Z" fill="#f00"/><path d="M198.9,101.0 L201.4,105.4 L196.3,105.4Z" fill="#f00"/><path d="M203.6,98.8 L206.1,103.2 L201.0,103.2Z" fill="#f00"/><path d="M208.3,96.8 L210.9,101.1 L205.8,101.1Z" fill="#f00"/><path d="M212.8,94.9 L215.4,99.3 L210.3,99.3Z" fill="#f00"/><path d="M217.4,93.4 L220.0,97.8 L214.9,97.8Z" fill="#f00"/><path d="M222.1,92.3 L224.7,96.6 L219.6,96.6Z" fill="#f00"/><path d="M226.6,91.5 L229.1,95.8 L224.0,95.8Z" fill="#f00"/><path d="M231.4,90.9 L233.9,95.3 L228.8,95.3Z" fill="#f00"/><path d="M235.9,90.9 L238.4,95.2 L233.3,95.2Z" fill="#f00"/><path d="M240.3,91.3 L242.9,95.7 L237.8,95.7Z" fill="#f00"/><path d="M245.0,92.5 L247.6,96.9 L242.5,96.9Z" fill="#f00"/><path d="M249.6,94.3 L252.1,98.6 L247.0,98.6Z" fill="#f00"/><path d="M254.2,97.2 L256.8,101.6 L251.7,101.6Z" fill="#f00"/><path d="M258.9,100.8 L261.5,105.1 L256.4,105.1Z" fill="#f00"/><path d="M263.5,103.9 L266.0,108.2 L260.9,108.2Z" fill="#f00"/><path d="M268.0,108.2 L270.6,112.5 L265.5,112.5Z" fill="#f00"/><path d="M272.5,113.4 L275.1,117.8 L270.0,117.8Z" fill="#f00"/><path d="M277.3,118.4 L279.9,122.8 L274.8,122.8Z" fill="#f00"/><path d="M281.8,122.7 L284.4,127.0 L279.3,127.0Z" fill="#f00"/><path d="M286.5,126.3 L289.0,130.6 L283.9,130.6Z" fill="#f00"/><path d="M290.9,129.0 L293.5,133.3 L288.4,133.3Z" fill="#f00"/><path d="M295.7,130.6 L298.2,135.0 L293.1,135.0Z" fill="#f00"/><path d="M299.4,127.3 L302.0,131.6 L296.9,131.6Z" fill="#f00"/><path d="M303.7,116.7 L306.2,121.0 L301.1,121.0Z" fill="#f00"/><path d="M308.4,97.9 L311.0,102.2 L305.9,102.2Z" fill="#f00"/><path d="M311.5,80.1 L314.0,84.5 L308.9,84.5Z" fill="#f00"/><path d="M180.8,112.6 L181.0,112.7 L181.3,112.8 L181.5,112.9 L181.7,112.9 L182.0,113.0 L182.2,113.1 L182.5,113.2 L182.7,113.3 L182.9,113.3 L183.2,113.4 L183.4,113.5 L183.6,113.5 L183.9,113.6 L184.1,113.7 L184.4,113.7 L184.6,113.8 L184.8,113.8 L185.1,113.9 L185.3,113.9 L185.6,113.9 L185.8,114.0 L186.0,114.0 L186.3,114.0 L186.5,114.1 L186.8,114.1 L187.0,114.1 L187.3,114.1 L187.5,114.2 L187.8,114.2 L188.0,114.2 L188.3,114.2 L188.5,114.3 L188.7,114.3 L189.0,114.3 L189.2,114.3 L189.5,114.3 L189.7,114.3 L190.0,114.4 L190.2,114.4 L190.5,114.4 L190.7,114.4 L191.0,114.4 L191.2,114.4 L191.5,114.4 L191.7,114.4 L192.0,114.4 L192.2,114.4 L192.4,114.4 L192.7,114.4 L192.9,114.4 L193.2,114.3 L193.4,114.3 L193.7,114.3 L193.9,114.3 L194.2,114.3 L194.4,114.2 L194.7,114.2 L194.9,114.2 L195.2,114.2 L195.4,114.1 L195.6,114.1 L195.9,114.1 L196.1,114.0 L196.4,114.0 L196.6,114.0 L196.9,113.9 L197.1,113.9 L197.4,113.9 L197.6,113.8 L197.9,113.8 L198.1,113.8 L198.3,113.7 L198.6,113.7 L198.8,113.7 L199.1,113.6 L199.3,113.6 L199.6,113.6 L199.8,113.5 L200.1,113.5 L200.3,113.5 L200.5,113.4 L200.8,113.4 L201.0,113.4 L201.3,113.3 L201.5,113.3 L201.8,113.3 L202.0,113.2 L202.3,113.2 L202.5,113.2 L202.7,113.1 L203.0,113.1 L203.2,113.1 L203.5,113.0 L203.7,113.0 L204.0,112.9 L204.2,112.9 L204.5,112.9 L204.7,112.8 L204.9,112.8 L205.2,112.8 L205.4,112.7 L205.7,112.7 L205.9,112.6 L206.2,112.6 L206.4,112.6 L206.7,112.5 L206.9,112.5 L207.1,112.4 L207.4,112.4 L207.6,112.4 L207.9,112.3 L208.1,112.3 L208.4,112.2 L208.6,112.2 L208.8,112.2 L209.1,112.1 L209.3,112.1 L209.6,112.0 L209.8,112.0 L210.1,111.9 L210.3,111.9 L210.5,111.8 L210.8,111.8 L211.0,111.8 L211.3,111.7 L211.5,111.7 L211.8,111.6 L212.0,111.6 L212.2,111.5 L212.5,111.5 L212.7,111.4 L213.0,111.4 L213.2,111.3 L213.5,111.3 L213.7,111.2 L213.9,111.2 L214.2,111.1 L214.4,111.1 L214.7,111.0 L214.9,111.0 L215.2,111.0 L215.4,110.9 L215.6,110.9 L215.9,110.8 L216.1,110.8 L216.4,110.7 L216.6,110.7 L216.9,110.6 L217.1,110.6 L217.3,110.6 L217.6,110.5 L217.8,110.5 L218.1,110.4 L218.3,110.4 L218.6,110.3 L218.8,110.3 L219.0,110.2 L219.3,110.2 L219.5,110.1 L219.8,110.1 L220.0,110.0 L220.3,110.0 L220.5,110.0 L220.7,109.9 L221.0,109.9 L221.2,109.8 L221.5,109.8 L221.7,109.7 L222.0,109.7 L222.2,109.7 L222.4,109.6 L222.7,109.6 L222.9,109.5 L223.2,109.5 L223.4,109.5 L223.7,109.4 L223.9,109.4 L224.2,109.4 L224.4,109.3 L224.6,109.3 L224.9,109.3 L225.1,109.3 L225.4,109.2 L225.6,109.2 L225.9,109.2 L226.1,109.1 L226.4,109.1 L226.6,109.1 L226.8,109.0 L227.1,109.0 L227.3,109.0 L227.6,109.0 L227.8,108.9 L228.1,108.9 L228.3,108.9 L228.6,108.9 L228.8,108.8 L229.1,108.8 L229.3,108.8 L229.6,108.8 L229.8,108.7 L230.0,108.7 L230.3,108.7 L230.5,108.7 L230.8,108.7 L231.0,108.6 L231.3,108.6 L231.5,108.6 L231.8,108.6 L232.0,108.6 L232.3,108.6 L232.5,108.6 L232.8,108.6 L233.0,108.6 L233.2,108.6 L233.5,108.5 L233.7,108.5 L234.0,108.5 L234.2,108.5 L234.5,108.5 L234.7,108.5 L235.0,108.5 L235.2,108.5 L235.5,108.5 L235.7,108.5 L236.0,108.5 L236.2,108.5 L236.5,108.4 L236.7,108.4 L236.9,108.4 L237.2,108.4 L237.4,108.4 L237.7,108.4 L237.9,108.4 L238.2,108.4 L238.4,108.4 L238.7,108.4 L238.9,108.4 L239.2,108.4 L239.4,108.4 L239.7,108.4 L239.9,108.4 L240.2,108.4 L240.4,108.4 L240.7,108.4 L240.9,108.4 L241.1,108.4 L241.4,108.4 L241.6,108.4 L241.9,108.4 L242.1,108.4 L242.4,108.4 L242.6,108.4 L242.9,108.4 L243.1,108.4 L243.4,108.4 L243.6,108.4 L243.9,108.4 L244.1,108.4 L244.4,108.4 L244.6,108.4 L244.9,108.4 L245.1,108.4 L245.3,108.4 L245.6,108.4 L245.8,108.4 L246.1,108.4 L246.3,108.4 L246.6,108.4 L246.8,108.4 L247.1,108.4 L247.3,108.4 L247.6,108.4 L247.8,108.4 L248.1,108.4 L248.3,108.4 L248.6,108.4 L248.8,108.4 L249.0,108.4 L249.3,108.4 L249.5,108.4 L249.8,108.4 L250.0,108.4 L250.3,108.4 L250.5,108.4 L250.8,108.4 L251.0,108.4 L251.3,108.4 L251.5,108.4 L251.8,108.4 L252.0,108.4 L252.3,108.4 L252.5,108.4 L252.8,108.4 L253.0,108.4 L253.3,108.4 L253.5,108.3 L253.8,108.3 L254.0,108.3 L254.3,108.3 L254.5,108.3 L254.8,108.3 L255.0,108.3 L255.2,108.3 L255.5,108.3 L255.7,108.3 L256.0,108.3 L256.2,108.2 L256.5,108.2 L256.7,108.2 L256.9,108.2 L257.2,108.2 L257.4,108.2 L257.7,108.1 L257.9,108.1 L258.2,108.1 L258.4,108.0 L258.7,108.0 L258.9,107.9 L259.1,107.8 L259.4,107.8 L259.6,107.7 L259.9,107.6 L260.1,107.5 L260.3,107.4 L260.6,107.3 L260.8,107.2 L261.1,107.2 L261.3,107.1 L261.5,107.0 L261.7,106.9 L262.0,106.8 L262.2,106.6 L262.4,106.5 L262.6,106.4 L262.8,106.3 L263.0,106.2 L263.2,106.1 L263.4,106.0 L263.6,105.8 L263.8,105.7 L264.0,105.6 L264.2,105.4 L264.4,105.2 L264.6,105.1 L264.8,104.9 L265.0,104.7 L265.1,104.5 L265.3,104.4 L265.5,104.2 L265.7,104.0 L265.9,103.8 L266.0,103.6 L266.2,103.5 L266.4,103.3 L266.6,103.1 L266.8,103.0 L266.9,102.8 L267.1,102.6 L267.3,102.5 L267.5,102.3 L267.7,102.1 L267.9,102.0 L268.0,101.8 L268.2,101.6 L268.4,101.4 L268.6,101.3 L268.8,101.1 L269.0,100.9 L269.1,100.8 L269.3,100.6 L269.5,100.4 L269.7,100.2 L269.8,100.1 L270.0,99.9 L270.2,99.7 L270.4,99.5 L270.5,99.4 L270.7,99.2 L270.9,99.0 L271.0,98.8 L271.2,98.6 L271.3,98.4 L271.5,98.2 L271.6,98.0 L271.8,97.9 L271.9,97.7 L272.0,97.5 L272.2,97.3 L272.3,97.1 L272.4,96.8 L272.6,96.6 L272.7,96.4 L272.8,96.2 L273.0,96.0 L273.1,95.8 L273.2,95.6 L273.3,95.4 L273.5,95.2 L273.6,94.9 L273.7,94.7 L273.8,94.5 L274.0,94.3 L274.1,94.1 L274.2,93.9 L274.3,93.6 L274.4,93.4 L274.5,93.2 L274.7,93.0 L274.8,92.8 L274.9,92.5 L275.0,92.3 L275.2,92.1 L275.3,91.9 L275.4,91.7 L275.5,91.5 L275.7,91.2 L275.8,91.0 L275.9,90.8 L276.0,90.6 L276.2,90.4 L276.3,90.2 L276.4,90.0 L276.6,89.8 L276.7,89.6 L276.8,89.4 L277.0,89.1 L277.1,88.9 L277.2,88.7 L277.4,88.5 L277.5,88.3 L277.6,88.1 L277.7,87.9 L277.9,87.7 L278.0,87.5 L278.1,87.3 L278.3,87.1 L278.4,86.9 L278.5,86.6 L278.7,86.4 L278.8,86.2 L278.9,86.0 L279.1,85.8 L279.2,85.6 L279.3,85.4 L279.5,85.2 L279.6,85.0 L279.7,84.8 L279.9,84.6 L280.0,84.3 L280.1,84.1 L280.2,83.9 L280.4,83.7 L280.5,83.5 L280.6,83.3 L280.7,83.1 L280.9,82.9 L281.0,82.6 L281.1,82.4 L281.2,82.2 L281.3,82.0 L281.5,81.8 L281.6,81.6 L281.7,81.3 L281.8,81.1 L281.9,80.9 L282.1,80.7 L282.2,80.5 L282.3,80.3 L282.4,80.0 L282.5,79.8 L282.6,79.6 L282.7,79.4 L282.9,79.2 L283.0,78.9 L283.1,78.7 L283.2,78.5 L283.3,78.3 L283.4,78.1 L283.5,77.9 L283.7,77.6 L283.8,77.4 L283.9,77.2 L284.0,77.0 L284.1,76.7 L284.2,76.5 L284.3,76.3 L284.4,76.1 L284.5,75.9 L284.6,75.6 L284.8,75.4 L284.9,75.2 L285.0,75.0 L285.1,74.7 L285.2,74.5 L285.3,74.3 L285.4,74.1 L285.5,73.9 L285.6,73.6 L285.7,73.4 L285.8,73.2 L285.9,73.0 L286.0,72.7 L286.1,72.5 L286.2,72.3 L286.3,72.1 L286.4,71.8 L286.5,71.6 L286.6,71.4 L286.7,71.1 L286.8,70.9 L286.9,70.7 L287.0,70.5 L287.1,70.2 L287.2,70.0 L287.3,69.8 L287.4,69.6 L287.4,69.3 L287.5,69.1 L287.6,68.9 L287.7,68.6 L287.8,68.4 L287.9,68.2 L288.0,67.9 L288.1,67.7 L288.2,67.5 L288.3,67.3 L288.4,67.0 L288.4,66.8 L288.5,66.6 L288.6,66.3 L288.7,66.1 L288.8,65.9 L288.9,65.6 L289.0,65.4 L289.1,65.2 L289.2,65.0 L289.3,64.7 L289.4,64.5 L289.4,64.3 L289.5,64.0 L289.6,63.8 L289.7,63.6 L289.8,63.4 L289.9,63.1 L290.0,62.9 L290.1,62.7 L290.2,62.4 L290.3,62.2 L290.4,62.0 L290.5,61.7 L290.6,61.5 L290.7,61.3 L290.7,61.1 L290.8,60.8 L290.9,60.6 L291.0,60.4 L291.1,60.2 L291.2,59.9 L291.3,59.7 L291.4,59.5 L291.5,59.2 L291.6,59.0 L291.7,58.8 L291.8,58.6 L291.9,58.3 L292.0,58.1 L292.1,57.9 L292.2,57.6 L292.3,57.4 L292.3,57.2 L292.4,57.0 L292.5,56.7 L292.6,56.5 L292.7,56.3 L292.8,56.0 L292.9,55.8 L293.0,55.6 L293.1,55.4 L293.2,55.1 L293.3,54.9 L293.4,54.7 L293.5,54.4 L293.6,54.2 L293.7,54.0 L293.8,53.8 L293.9,53.5 L294.0,53.3 L294.1,53.1 L294.1,52.9 L294.2,52.6 L294.3,52.4 L294.4,52.2 L294.5,51.9 L294.6,51.7 L294.7,51.5 L294.8,51.3 L294.9,51.0 L295.0,50.8" stroke="#000" stroke-width="1.2" fill="none"/><path d="M183.6,112.7 L183.9,112.8 L184.1,112.9 L184.4,112.9 L184.6,113.0 L184.8,113.0 L185.1,113.1 L185.3,113.1 L185.6,113.1 L185.8,113.2 L186.0,113.2 L186.3,113.2 L186.5,113.3 L186.8,113.3 L187.0,113.3 L187.3,113.3 L187.5,113.4 L187.8,113.4 L188.0,113.4 L188.3,113.4 L188.5,113.5 L188.7,113.5 L189.0,113.5 L189.2,113.5 L189.5,113.5 L189.7,113.5 L190.0,113.6 L190.2,113.6 L190.5,113.6 L190.7,113.6 L191.0,113.6 L191.2,113.6 L191.5,113.6 L191.7,113.6 L192.0,113.6 L192.2,113.6 L192.4,113.6 L192.7,113.6 L192.9,113.6 L193.2,113.5 L193.4,113.5 L193.7,113.5 L193.9,113.5 L194.2,113.5 L194.4,113.4 L194.7,113.4 L194.9,113.4 L195.2,113.4 L195.4,113.3 L195.6,113.3 L195.9,113.3 L196.1,113.2 L196.4,113.2 L196.6,113.2 L196.9,113.1 L197.1,113.1 L197.4,113.1 L197.6,113.0 L197.9,113.0 L198.1,113.0 L198.3,112.9 L198.6,112.9 L198.8,112.9 L199.1,112.8 L199.3,112.8 L199.6,112.8 L199.8,112.7 L200.1,112.7 L200.3,112.7 L200.5,112.6 L200.8,112.6 L201.0,112.6 L201.3,112.5 L201.5,112.5 L201.8,112.5 L202.0,112.4 L202.3,112.4 L202.5,112.4 L202.7,112.3 L203.0,112.3 L203.2,112.3 L203.5,112.2 L203.7,112.2 L204.0,112.1 L204.2,112.1 L204.5,112.1 L204.7,112.0 L204.9,112.0 L205.2,112.0 L205.4,111.9 L205.7,111.9 L205.9,111.8 L206.2,111.8 L206.4,111.8 L206.7,111.7 L206.9,111.7 L207.1,111.6 L207.4,111.6 L207.6,111.6 L207.9,111.5 L208.1,111.5 L208.4,111.4 L208.6,111.4 L208.8,111.4 L209.1,111.3 L209.3,111.3 L209.6,111.2 L209.8,111.2 L210.1,111.1 L210.3,111.1 L210.5,111.0 L210.8,111.0 L211.0,111.0 L211.3,110.9 L211.5,110.9 L211.8,110.8 L212.0,110.8 L212.2,110.7 L212.5,110.7 L212.7,110.6 L213.0,110.6 L213.2,110.5 L213.5,110.5 L213.7,110.4 L213.9,110.4 L214.2,110.3 L214.4,110.3 L214.7,110.2 L214.9,110.2 L215.2,110.2 L215.4,110.1 L215.6,110.1 L215.9,110.0 L216.1,110.0 L216.4,109.9 L216.6,109.9 L216.9,109.8 L217.1,109.8 L217.3,109.8 L217.6,109.7 L217.8,109.7 L218.1,109.6 L218.3,109.6 L218.6,109.5 L218.8,109.5 L219.0,109.4 L219.3,109.4 L219.5,109.3 L219.8,109.3 L220.0,109.2 L220.3,109.2 L220.5,109.2 L220.7,109.1 L221.0,109.1 L221.2,109.0 L221.5,109.0 L221.7,108.9 L222.0,108.9 L222.2,108.9 L222.4,108.8 L222.7,108.8 L222.9,108.7 L223.2,108.7 L223.4,108.7 L223.7,108.6 L223.9,108.6 L224.2,108.6 L224.4,108.5 L224.6,108.5 L224.9,108.5 L225.1,108.5 L225.4,108.4 L225.6,108.4 L225.9,108.4 L226.1,108.3 L226.4,108.3 L226.6,108.3 L226.8,108.2 L227.1,108.2 L227.3,108.2 L227.6,108.2 L227.8,108.1 L228.1,108.1 L228.3,108.1 L228.6,108.1 L228.8,108.0 L229.1,108.0 L229.3,108.0 L229.6,108.0 L229.8,107.9 L230.0,107.9 L230.3,107.9 L230.5,107.9 L230.8,107.9 L231.0,107.8 L231.3,107.8 L231.5,107.8 L231.8,107.8 L232.0,107.8 L232.3,107.8 L232.5,107.8 L232.8,107.8 L233.0,107.8 L233.2,107.8 L233.5,107.7 L233.7,107.7 L234.0,107.7 L234.2,107.7 L234.5,107.7 L234.7,107.7 L235.0,107.7 L235.2,107.7 L235.5,107.7 L235.7,107.7 L236.0,107.7 L236.2,107.7 L236.5,107.6 L236.7,107.6 L236.9,107.6 L237.2,107.6 L237.4,107.6 L237.7,107.6 L237.9,107.6 L238.2,107.6 L238.4,107.6 L238.7,107.6 L238.9,107.6 L239.2,107.6 L239.4,107.6 L239.7,107.6 L239.9,107.6 L240.2,107.6 L240.4,107.6 L240.7,107.6 L240.9,107.6 L241.1,107.6 L241.4,107.6 L241.6,107.6 L241.9,107.6 L242.1,107.6 L242.4,107.6 L242.6,107.6 L242.9,107.6 L243.1,107.6 L243.4,107.6 L243.6,107.6 L243.9,107.6 L244.1,107.6 L244.4,107.6 L244.6,107.6 L244.9,107.6 L245.1,107.6 L245.3,107.6 L245.6,107.6 L245.8,107.6 L246.1,107.6 L246.3,107.6 L246.6,107.6 L246.8,107.6 L247.1,107.6 L247.3,107.6 L247.6,107.6 L247.8,107.6 L248.1,107.6 L248.3,107.6 L248.6,107.6 L248.8,107.6 L249.0,107.6 L249.3,107.6 L249.5,107.6 L249.8,107.6 L250.0,107.6 L250.3,107.6 L250.5,107.6 L250.8,107.6 L251.0,107.6 L251.3,107.6 L251.5,107.6 L251.8,107.6 L252.0,107.6 L252.3,107.6 L252.5,107.6 L252.8,107.6 L253.0,107.6 L253.3,107.6 L253.5,107.5 L253.8,107.5 L254.0,107.5 L254.3,107.5 L254.5,107.5 L254.8,107.5 L255.0,107.5 L255.2,107.5 L255.5,107.5 L255.7,107.5 L256.0,107.5 L256.2,107.4 L256.5,107.4 L256.7,107.4 L256.9,107.4 L257.2,107.4 L257.4,107.4 L257.7,107.3 L257.9,107.3 L258.2,107.3 L258.4,107.2 L258.7,107.2 L258.9,107.1 L259.1,107.0 L259.4,107.0 L259.6,106.9 L259.9,106.8 L260.1,106.7 L260.3,106.6 L260.6,106.5 L260.8,106.4 L261.1,106.4 L261.3,106.3 L261.5,106.2 L261.7,106.1 L262.0,106.0 L262.2,105.8 L262.4,105.7" stroke="#00f" stroke-width="1.3" fill="none"/><path d="M184.8,116.7 L187.4,112.4 L182.3,112.4Z" fill="#00f"/><path d="M189.5,117.2 L192.0,112.9 L186.9,112.9Z" fill="#00f"/><path d="M193.9,117.2 L196.5,112.8 L191.4,112.8Z" fill="#00f"/><path d="M198.6,116.6 L201.1,112.2 L196.0,112.2Z" fill="#00f"/><path d="M203.2,116.0 L205.8,111.6 L200.7,111.6Z" fill="#00f"/><path d="M207.9,115.2 L210.4,110.9 L205.3,110.9Z" fill="#00f"/><path d="M212.5,114.4 L215.0,110.0 L209.9,110.0Z" fill="#00f"/><path d="M217.1,113.5 L219.6,109.1 L214.5,109.1Z" fill="#00f"/><path d="M221.7,112.6 L224.3,108.3 L219.2,108.3Z" fill="#00f"/><path d="M226.1,112.0 L228.7,107.7 L223.6,107.7Z" fill="#00f"/><path d="M230.8,111.6 L233.3,107.2 L228.2,107.2Z" fill="#00f"/><path d="M235.5,111.4 L238.0,107.0 L232.9,107.0Z" fill="#00f"/><path d="M239.9,111.3 L242.5,107.0 L237.4,107.0Z" fill="#00f"/><path d="M244.6,111.3 L247.2,107.0 L242.1,107.0Z" fill="#00f"/><path d="M249.3,111.3 L251.8,107.0 L246.7,107.0Z" fill="#00f"/><path d="M253.8,111.2 L256.3,106.9 L251.2,106.9Z" fill="#00f"/><path d="M258.4,110.9 L261.0,106.6 L255.9,106.6Z" fill="#00f"/><path d="M263.0,109.1 L265.6,104.8 L260.5,104.8Z" fill="#00f"/><path d="M267.7,105.0 L270.2,100.7 L265.1,100.7Z" fill="#00f"/><path d="M272.2,100.2 L274.7,95.8 L269.6,95.8Z" fill="#00f"/><path d="M276.8,92.3 L279.4,87.9 L274.3,87.9Z" fill="#00f"/><path d="M281.5,84.7 L284.0,80.3 L278.9,80.3Z" fill="#00f"/><path d="M286.0,75.6 L288.6,71.3 L283.5,71.3Z" fill="#00f"/><path d="M290.6,64.4 L293.1,60.1 L288.0,60.1Z" fill="#00f"/><path d="M295.0,53.7 L297.6,49.3 L292.4,49.3Z" fill="#00f"/><path d="M180.8,112.6 L181.1,112.7 L181.3,112.8 L181.6,113.0 L181.8,113.1 L182.1,113.2 L182.3,113.3 L182.6,113.4 L182.8,113.5 L183.1,113.6 L183.3,113.7 L183.6,113.9 L183.8,114.0 L184.1,114.1 L184.4,114.2 L184.6,114.3 L184.9,114.4 L185.1,114.5 L185.4,114.6 L185.6,114.7 L185.9,114.8 L186.2,114.9 L186.4,114.9 L186.7,115.0 L186.9,115.1 L187.2,115.2 L187.5,115.3 L187.7,115.4 L188.0,115.5 L188.3,115.5 L188.5,115.6 L188.8,115.7 L189.1,115.8 L189.3,115.9 L189.6,115.9 L189.9,116.0 L190.1,116.1 L190.4,116.2 L190.7,116.3 L190.9,116.3 L191.2,116.4 L191.5,116.5 L191.7,116.6 L192.0,116.6 L192.3,116.7 L192.5,116.8 L192.8,116.9 L193.0,117.0 L193.3,117.0 L193.6,117.1 L193.8,117.2 L194.1,117.3 L194.4,117.4 L194.6,117.5 L194.9,117.6 L195.2,117.7 L195.4,117.7 L195.7,117.8 L195.9,117.9 L196.2,118.0 L196.5,118.1 L196.7,118.2 L197.0,118.3 L197.2,118.4 L197.5,118.5 L197.8,118.6 L198.0,118.6 L198.3,118.7 L198.6,118.8 L198.8,118.9 L199.1,119.0 L199.4,119.0 L199.6,119.1 L199.9,119.2 L200.2,119.2 L200.4,119.3 L200.7,119.4 L201.0,119.4 L201.2,119.5 L201.5,119.6 L201.8,119.6 L202.1,119.7 L202.3,119.7 L202.6,119.8 L202.9,119.9 L203.1,119.9 L203.4,120.0 L203.7,120.0 L204.0,120.1 L204.2,120.2 L204.5,120.2 L204.8,120.3 L205.0,120.3 L205.3,120.4 L205.6,120.4 L205.9,120.5 L206.1,120.6 L206.4,120.6 L206.7,120.7 L206.9,120.7 L207.2,120.8 L207.5,120.8 L207.8,120.8 L208.0,120.9 L208.3,120.9 L208.6,121.0 L208.9,121.0 L209.1,121.0 L209.4,121.1 L209.7,121.1 L209.9,121.2 L210.2,121.2 L210.5,121.2 L210.8,121.3 L211.0,121.3 L211.3,121.3 L211.6,121.4 L211.9,121.4 L212.2,121.4 L212.4,121.5 L212.7,121.5 L213.0,121.5 L213.3,121.5 L213.5,121.6 L213.8,121.6 L214.1,121.6 L214.4,121.7 L214.6,121.7 L214.9,121.7 L215.2,121.8 L215.5,121.8 L215.7,121.8 L216.0,121.9 L216.3,121.9 L216.6,121.9 L216.8,121.9 L217.1,122.0 L217.4,122.0 L217.7,122.0 L217.9,122.1 L218.2,122.1 L218.5,122.1 L218.8,122.1 L219.0,122.1 L219.3,122.2 L219.6,122.2 L219.9,122.2 L220.1,122.2 L220.4,122.2 L220.7,122.2 L221.0,122.2 L221.3,122.2 L221.5,122.3 L221.8,122.3 L222.1,122.3 L222.4,122.3 L222.6,122.3 L222.9,122.3 L223.2,122.3 L223.5,122.3 L223.7,122.3 L224.0,122.3 L224.3,122.3 L224.6,122.4 L224.9,122.4 L225.1,122.4 L225.4,122.4 L225.7,122.4 L226.0,122.4 L226.2,122.4 L226.5,122.4 L226.8,122.4 L227.1,122.4 L227.3,122.4 L227.6,122.4 L227.9,122.4 L228.2,122.4 L228.5,122.4 L228.7,122.4 L229.0,122.4 L229.3,122.4 L229.6,122.4 L229.8,122.4 L230.1,122.4 L230.4,122.4 L230.7,122.4 L230.9,122.4 L231.2,122.4 L231.5,122.4 L231.8,122.4 L232.1,122.4 L232.3,122.4 L232.6,122.4 L232.9,122.4 L233.2,122.4 L233.4,122.4 L233.7,122.4 L234.0,122.4 L234.3,122.4 L234.5,122.4 L234.8,122.4 L235.1,122.4 L235.4,122.4 L235.7,122.4 L235.9,122.4 L236.2,122.4 L236.5,122.4 L236.8,122.4 L237.0,122.4 L237.3,122.4 L237.6,122.4 L237.9,122.4 L238.1,122.4 L238.4,122.4 L238.7,122.4 L239.0,122.4 L239.3,122.3 L239.5,122.3 L239.8,122.3 L240.1,122.3 L240.4,122.3 L240.6,122.3 L240.9,122.3 L241.2,122.2 L241.5,122.2 L241.7,122.2 L242.0,122.1 L242.3,122.1 L242.6,122.1 L242.8,122.0 L243.1,122.0 L243.4,121.9 L243.7,121.9 L243.9,121.8 L244.2,121.8 L244.5,121.7 L244.8,121.7 L245.0,121.7 L245.3,121.6 L245.6,121.6 L245.9,121.5 L246.1,121.5 L246.4,121.5 L246.7,121.4 L247.0,121.4 L247.2,121.4 L247.5,121.3 L247.8,121.3 L248.0,121.2 L248.3,121.2 L248.6,121.2 L248.9,121.1 L249.1,121.1 L249.4,121.0 L249.7,121.0 L250.0,120.9 L250.2,120.9 L250.5,120.8 L250.8,120.7 L251.0,120.7 L251.3,120.6 L251.6,120.5 L251.8,120.5 L252.1,120.4 L252.4,120.3 L252.6,120.2 L252.9,120.2 L253.2,120.1 L253.4,120.0 L253.7,119.9 L254.0,119.9 L254.2,119.8 L254.5,119.7 L254.8,119.6 L255.0,119.5 L255.3,119.5 L255.6,119.4 L255.8,119.3 L256.1,119.2 L256.4,119.1 L256.6,119.0 L256.9,118.9 L257.1,118.9 L257.4,118.8 L257.7,118.7 L257.9,118.6 L258.2,118.5 L258.5,118.4 L258.7,118.3 L259.0,118.2 L259.2,118.1 L259.5,118.0 L259.7,117.9 L260.0,117.8 L260.3,117.7 L260.5,117.6 L260.8,117.5 L261.0,117.4 L261.3,117.3 L261.6,117.2 L261.8,117.1 L262.1,117.0 L262.3,116.9 L262.6,116.8 L262.8,116.7 L263.1,116.5 L263.3,116.4 L263.6,116.3 L263.8,116.2 L264.1,116.1 L264.4,116.0 L264.6,115.9 L264.9,115.8 L265.1,115.7 L265.4,115.5 L265.6,115.4 L265.9,115.3 L266.1,115.2 L266.4,115.1 L266.6,115.0 L266.9,114.8 L267.1,114.7 L267.4,114.6 L267.6,114.4 L267.8,114.3 L268.1,114.2 L268.3,114.0 L268.6,113.9 L268.8,113.8 L269.0,113.6 L269.3,113.5 L269.5,113.3 L269.8,113.2 L270.0,113.0 L270.2,112.9 L270.5,112.7 L270.7,112.6 L270.9,112.4 L271.1,112.3 L271.4,112.1 L271.6,112.0 L271.8,111.8 L272.1,111.6 L272.3,111.5 L272.5,111.3 L272.7,111.2 L273.0,111.0 L273.2,110.9 L273.4,110.7 L273.6,110.5 L273.9,110.4 L274.1,110.2 L274.3,110.0 L274.5,109.9 L274.8,109.7 L275.0,109.5 L275.2,109.4 L275.4,109.2 L275.6,109.0 L275.8,108.8 L276.1,108.7 L276.3,108.5 L276.5,108.3 L276.7,108.1 L276.9,108.0 L277.1,107.8 L277.3,107.6 L277.6,107.4 L277.8,107.3 L278.0,107.1 L278.2,106.9 L278.4,106.7 L278.6,106.5 L278.8,106.4 L279.0,106.2 L279.2,106.0 L279.4,105.8 L279.7,105.6 L279.9,105.4 L280.1,105.2 L280.3,105.0 L280.5,104.8 L280.7,104.7 L280.9,104.5 L281.0,104.3 L281.2,104.1 L281.4,103.9 L281.6,103.7 L281.8,103.5 L282.0,103.3 L282.2,103.1 L282.4,102.9 L282.5,102.7 L282.7,102.4 L282.9,102.2 L283.1,102.0 L283.3,101.8 L283.4,101.6 L283.6,101.4 L283.8,101.2 L284.0,100.9 L284.1,100.7 L284.3,100.5 L284.5,100.3 L284.6,100.1 L284.8,99.8 L285.0,99.6 L285.2,99.4 L285.3,99.2 L285.5,99.0 L285.7,98.7 L285.8,98.5 L286.0,98.3 L286.2,98.1 L286.3,97.8 L286.5,97.6 L286.6,97.4 L286.8,97.2 L287.0,97.0 L287.1,96.7 L287.3,96.5 L287.5,96.3 L287.6,96.1 L287.8,95.8 L287.9,95.6 L288.1,95.4 L288.2,95.1 L288.4,94.9 L288.6,94.7 L288.7,94.5 L288.9,94.2 L289.0,94.0 L289.2,93.8 L289.3,93.5 L289.5,93.3 L289.6,93.1 L289.8,92.8 L289.9,92.6 L290.1,92.4 L290.2,92.1 L290.4,91.9 L290.5,91.7 L290.7,91.4 L290.8,91.2 L291.0,91.0 L291.1,90.7 L291.2,90.5 L291.4,90.2 L291.5,90.0 L291.7,89.8 L291.8,89.5 L292.0,89.3 L292.1,89.1 L292.2,88.8 L292.4,88.6 L292.5,88.3 L292.7,88.1 L292.8,87.9 L292.9,87.6 L293.1,87.4 L293.2,87.1 L293.4,86.9 L293.5,86.6 L293.6,86.4 L293.8,86.2 L293.9,85.9 L294.0,85.7 L294.2,85.4 L294.3,85.2 L294.4,84.9 L294.5,84.7 L294.6,84.4 L294.8,84.2 L294.9,83.9 L295.0,83.7 L295.1,83.4 L295.2,83.2 L295.3,82.9 L295.4,82.7 L295.5,82.4 L295.6,82.2 L295.7,81.9 L295.8,81.7 L295.9,81.4 L296.0,81.1 L296.1,80.9 L296.2,80.6 L296.3,80.4 L296.4,80.1 L296.5,79.9 L296.6,79.6 L296.7,79.3 L296.8,79.1 L296.9,78.8 L297.0,78.5 L297.1,78.3 L297.1,78.0 L297.2,77.8 L297.3,77.5 L297.4,77.2 L297.5,77.0 L297.6,76.7 L297.7,76.4 L297.7,76.2 L297.8,75.9 L297.9,75.6 L298.0,75.4 L298.1,75.1 L298.2,74.8 L298.2,74.6 L298.3,74.3 L298.4,74.0 L298.5,73.8 L298.6,73.5 L298.7,73.2 L298.7,73.0 L298.8,72.7 L298.9,72.4 L299.0,72.2 L299.1,71.9 L299.2,71.6 L299.2,71.4 L299.3,71.1 L299.4,70.9 L299.5,70.6 L299.6,70.3 L299.7,70.1 L299.8,69.8 L299.8,69.5 L299.9,69.3 L300.0,69.0 L300.1,68.8 L300.2,68.5 L300.3,68.2 L300.4,68.0 L300.4,67.7 L300.5,67.4 L300.6,67.2 L300.7,66.9 L300.8,66.6 L300.9,66.4 L301.0,66.1 L301.0,65.9 L301.1,65.6 L301.2,65.3 L301.3,65.1 L301.4,64.8 L301.5,64.5 L301.5,64.3 L301.6,64.0 L301.7,63.7 L301.8,63.5 L301.9,63.2 L302.0,63.0 L302.0,62.7 L302.1,62.4 L302.2,62.2 L302.3,61.9 L302.4,61.6 L302.5,61.4 L302.5,61.1 L302.6,60.8 L302.7,60.6 L302.8,60.3 L302.9,60.0 L303.0,59.8 L303.1,59.5 L303.1,59.3 L303.2,59.0 L303.3,58.7 L303.4,58.5 L303.5,58.2 L303.6,57.9 L303.6,57.7 L303.7,57.4 L303.8,57.1 L303.9,56.9 L304.0,56.6 L304.1,56.3 L304.1,56.1 L304.2,55.8 L304.3,55.6 L304.4,55.3 L304.5,55.0 L304.6,54.8 L304.6,54.5 L304.7,54.2 L304.8,54.0 L304.9,53.7 L305.0,53.4 L305.1,53.2 L305.1,52.9 L305.2,52.7 L305.3,52.4 L305.4,52.1 L305.5,51.9 L305.6,51.6 L305.6,51.3 L305.7,51.1 L305.8,50.8" stroke="#f00" stroke-width="1.2" fill="none"/><path d="M184.6,111.6 L187.3,114.3 L184.6,117.0 L181.9,114.3Z" fill="#808000"/><path d="M189.3,113.2 L192.0,115.9 L189.3,118.6 L186.6,115.9Z" fill="#808000"/><path d="M193.8,114.5 L196.5,117.2 L193.8,119.9 L191.1,117.2Z" fill="#808000"/><path d="M198.3,116.0 L201.0,118.7 L198.3,121.4 L195.6,118.7Z" fill="#808000"/><path d="M202.9,117.2 L205.6,119.9 L202.9,122.6 L200.2,119.9Z" fill="#808000"/><path d="M207.5,118.1 L210.2,120.8 L207.5,123.5 L204.8,120.8Z" fill="#808000"/><path d="M212.2,118.7 L214.9,121.4 L212.2,124.1 L209.5,121.4Z" fill="#808000"/><path d="M216.8,119.2 L219.5,121.9 L216.8,124.6 L214.1,121.9Z" fill="#808000"/><path d="M221.5,119.6 L224.2,122.3 L221.5,125.0 L218.8,122.3Z" fill="#808000"/><path d="M226.0,119.7 L228.7,122.4 L226.0,125.1 L223.3,122.4Z" fill="#808000"/><path d="M230.7,119.7 L233.4,122.4 L230.7,125.1 L228.0,122.4Z" fill="#808000"/><path d="M235.1,119.7 L237.8,122.4 L235.1,125.1 L232.4,122.4Z" fill="#808000"/><path d="M239.8,119.6 L242.5,122.3 L239.8,125.0 L237.1,122.3Z" fill="#808000"/><path d="M244.5,119.0 L247.2,121.7 L244.5,124.4 L241.8,121.7Z" fill="#808000"/><path d="M248.9,118.4 L251.6,121.1 L248.9,123.8 L246.2,121.1Z" fill="#808000"/><path d="M253.7,117.2 L256.4,119.9 L253.7,122.6 L251.0,119.9Z" fill="#808000"/><path d="M258.2,115.8 L260.9,118.5 L258.2,121.2 L255.5,118.5Z" fill="#808000"/><path d="M262.8,114.0 L265.5,116.7 L262.8,119.4 L260.1,116.7Z" fill="#808000"/><path d="M267.4,111.9 L270.1,114.6 L267.4,117.3 L264.7,114.6Z" fill="#808000"/><path d="M272.1,108.9 L274.8,111.6 L272.1,114.3 L269.4,111.6Z" fill="#808000"/><path d="M276.7,105.4 L279.4,108.1 L276.7,110.8 L274.0,108.1Z" fill="#808000"/><path d="M281.2,101.4 L283.9,104.1 L281.2,106.8 L278.5,104.1Z" fill="#808000"/><path d="M285.8,95.8 L288.5,98.5 L285.8,101.2 L283.1,98.5Z" fill="#808000"/><path d="M290.4,89.2 L293.1,91.9 L290.4,94.6 L287.7,91.9Z" fill="#808000"/><path d="M295.0,81.0 L297.7,83.7 L295.0,86.4 L292.3,83.7Z" fill="#808000"/><path d="M299.6,67.6 L302.3,70.3 L299.6,73.0 L296.9,70.3Z" fill="#808000"/><path d="M304.2,53.1 L306.9,55.8 L304.2,58.5 L301.5,55.8Z" fill="#808000"/><path d="M180.8,112.6 L181.0,112.8 L181.3,113.0 L181.5,113.2 L181.7,113.4 L182.0,113.6 L182.2,113.8 L182.4,114.0 L182.7,114.2 L182.9,114.4 L183.1,114.6 L183.4,114.9 L183.6,115.1 L183.8,115.3 L184.1,115.4 L184.3,115.6 L184.6,115.8 L184.8,116.0 L185.0,116.2 L185.3,116.4 L185.5,116.6 L185.8,116.8 L186.0,117.0 L186.3,117.2 L186.5,117.4 L186.7,117.6 L187.0,117.8 L187.2,118.0 L187.5,118.2 L187.7,118.3 L188.0,118.5 L188.2,118.7 L188.5,118.9 L188.7,119.1 L189.0,119.3 L189.2,119.5 L189.5,119.7 L189.7,119.8 L190.0,120.0 L190.2,120.2 L190.5,120.4 L190.7,120.6 L191.0,120.7 L191.2,120.9 L191.5,121.1 L191.8,121.2 L192.0,121.4 L192.3,121.6 L192.5,121.7 L192.8,121.9 L193.1,122.1 L193.3,122.2 L193.6,122.4 L193.9,122.5 L194.1,122.7 L194.4,122.9 L194.7,123.0 L194.9,123.2 L195.2,123.3 L195.5,123.5 L195.8,123.6 L196.0,123.8 L196.3,123.9 L196.6,124.1 L196.8,124.2 L197.1,124.3 L197.4,124.5 L197.7,124.6 L198.0,124.8 L198.2,124.9 L198.5,125.1 L198.8,125.2 L199.1,125.3 L199.3,125.5 L199.6,125.6 L199.9,125.7 L200.2,125.9 L200.5,126.0 L200.7,126.1 L201.0,126.3 L201.3,126.4 L201.6,126.5 L201.9,126.6 L202.2,126.8 L202.4,126.9 L202.7,127.0 L203.0,127.1 L203.3,127.3 L203.6,127.4 L203.9,127.5 L204.1,127.6 L204.4,127.8 L204.7,127.9 L205.0,128.0 L205.3,128.1 L205.6,128.3 L205.8,128.4 L206.1,128.5 L206.4,128.7 L206.7,128.8 L207.0,128.9 L207.2,129.1 L207.5,129.2 L207.8,129.4 L208.1,129.5 L208.3,129.7 L208.6,129.8 L208.9,130.0 L209.2,130.1 L209.4,130.3 L209.7,130.4 L210.0,130.6 L210.3,130.7 L210.5,130.9 L210.8,131.0 L211.1,131.2 L211.4,131.3 L211.6,131.5 L211.9,131.6 L212.2,131.8 L212.5,131.9 L212.7,132.0 L213.0,132.1 L213.3,132.2 L213.6,132.4 L213.9,132.5 L214.2,132.6 L214.5,132.6 L214.7,132.7 L215.0,132.8 L215.3,132.9 L215.6,133.0 L215.9,133.1 L216.2,133.1 L216.5,133.2 L216.8,133.3 L217.1,133.4 L217.4,133.4 L217.7,133.5 L218.0,133.6 L218.3,133.7 L218.6,133.7 L218.9,133.8 L219.2,133.9 L219.5,133.9 L219.8,134.0 L220.1,134.0 L220.4,134.1 L220.7,134.2 L221.0,134.2 L221.4,134.3 L221.7,134.3 L222.0,134.4 L222.3,134.5 L222.6,134.5 L222.9,134.6 L223.2,134.6 L223.5,134.7 L223.8,134.7 L224.1,134.8 L224.4,134.8 L224.7,134.9 L225.1,135.0 L225.4,135.0 L225.7,135.1 L226.0,135.1 L226.3,135.2 L226.6,135.2 L226.9,135.3 L227.2,135.3 L227.5,135.4 L227.8,135.4 L228.1,135.5 L228.4,135.6 L228.7,135.6 L229.0,135.7 L229.3,135.7 L229.7,135.8 L230.0,135.8 L230.3,135.9 L230.6,135.9 L230.9,136.0 L231.2,136.1 L231.5,136.1 L231.8,136.2 L232.1,136.2 L232.4,136.3 L232.7,136.3 L233.0,136.4 L233.3,136.5 L233.6,136.5 L233.9,136.6 L234.2,136.6 L234.5,136.7 L234.8,136.7 L235.1,136.8 L235.5,136.8 L235.8,136.9 L236.1,137.0 L236.4,137.0 L236.7,137.1 L237.0,137.1 L237.3,137.2 L237.6,137.2 L237.9,137.3 L238.2,137.3 L238.5,137.4 L238.8,137.4 L239.1,137.5 L239.4,137.5 L239.7,137.6 L240.0,137.6 L240.4,137.6 L240.7,137.7 L241.0,137.7 L241.3,137.8 L241.6,137.8 L241.9,137.9 L242.2,137.9 L242.5,137.9 L242.8,138.0 L243.1,138.0 L243.4,138.1 L243.7,138.1 L244.0,138.1 L244.3,138.2 L244.7,138.2 L245.0,138.2 L245.3,138.3 L245.6,138.3 L245.9,138.4 L246.2,138.4 L246.5,138.4 L246.8,138.5 L247.1,138.5 L247.4,138.6 L247.7,138.6 L248.0,138.6 L248.4,138.7 L248.7,138.7 L249.0,138.7 L249.3,138.8 L249.6,138.8 L249.9,138.8 L250.2,138.8 L250.5,138.9 L250.8,138.9 L251.1,138.9 L251.4,138.9 L251.8,139.0 L252.1,139.0 L252.4,139.0 L252.7,139.0 L253.0,139.0 L253.3,139.0 L253.6,139.0 L253.9,139.0 L254.2,139.0 L254.5,139.0 L254.9,139.0 L255.2,139.0 L255.5,139.0 L255.8,138.9 L256.1,138.9 L256.4,138.9 L256.7,138.9 L257.0,138.9 L257.4,138.8 L257.7,138.8 L258.0,138.8 L258.3,138.8 L258.6,138.7 L258.9,138.7 L259.2,138.7 L259.5,138.6 L259.8,138.6 L260.1,138.6 L260.5,138.5 L260.8,138.5 L261.1,138.5 L261.4,138.4 L261.7,138.4 L262.0,138.3 L262.3,138.3 L262.6,138.2 L262.9,138.2 L263.2,138.1 L263.5,138.1 L263.7,138.0 L264.0,137.9 L264.3,137.8 L264.6,137.7 L264.9,137.6 L265.2,137.5 L265.5,137.4 L265.8,137.2 L266.1,137.1 L266.4,137.0 L266.6,136.9 L266.9,136.7 L267.2,136.6 L267.5,136.5 L267.8,136.3 L268.1,136.2 L268.4,136.0 L268.6,135.9 L268.9,135.7 L269.2,135.6 L269.5,135.5 L269.8,135.3 L270.0,135.2 L270.3,135.0 L270.6,134.9 L270.9,134.8 L271.2,134.6 L271.4,134.5 L271.7,134.4 L272.0,134.2 L272.3,134.1 L272.5,133.9 L272.8,133.8 L273.1,133.6 L273.4,133.5 L273.6,133.3 L273.9,133.2 L274.2,133.0 L274.4,132.9 L274.7,132.7 L275.0,132.6 L275.2,132.4 L275.5,132.2 L275.8,132.1 L276.0,131.9 L276.3,131.8 L276.6,131.6 L276.8,131.4 L277.1,131.3 L277.4,131.1 L277.6,130.9 L277.9,130.8 L278.1,130.6 L278.4,130.4 L278.7,130.3 L278.9,130.1 L279.2,129.9 L279.5,129.8 L279.7,129.6 L280.0,129.4 L280.2,129.2 L280.5,129.1 L280.7,128.9 L281.0,128.7 L281.2,128.5 L281.5,128.3 L281.7,128.1 L282.0,127.9 L282.2,127.8 L282.5,127.6 L282.7,127.4 L282.9,127.2 L283.2,127.0 L283.4,126.7 L283.6,126.5 L283.8,126.3 L284.0,126.1 L284.3,125.9 L284.5,125.6 L284.7,125.4 L284.9,125.2 L285.1,124.9 L285.3,124.7 L285.5,124.5 L285.7,124.2 L285.9,124.0 L286.1,123.8 L286.3,123.5 L286.5,123.3 L286.7,123.1 L286.9,122.8 L287.1,122.6 L287.3,122.3 L287.5,122.1 L287.7,121.9 L287.9,121.6 L288.1,121.4 L288.3,121.2 L288.5,120.9 L288.7,120.7 L288.9,120.4 L289.1,120.2 L289.3,119.9 L289.5,119.7 L289.7,119.5 L289.9,119.2 L290.1,119.0 L290.3,118.7 L290.4,118.5 L290.6,118.2 L290.8,117.9 L291.0,117.7 L291.1,117.4 L291.3,117.2 L291.4,116.9 L291.6,116.6 L291.7,116.4 L291.9,116.1 L292.0,115.8 L292.2,115.6 L292.3,115.3 L292.5,115.0 L292.6,114.7 L292.8,114.5 L292.9,114.2 L293.0,113.9 L293.2,113.6 L293.3,113.4 L293.4,113.1 L293.6,112.8 L293.7,112.5 L293.8,112.2 L294.0,111.9 L294.1,111.7 L294.2,111.4 L294.4,111.1 L294.5,110.8 L294.6,110.5 L294.7,110.2 L294.9,110.0 L295.0,109.7 L295.1,109.4 L295.3,109.1 L295.4,108.8 L295.5,108.6 L295.7,108.3 L295.8,108.0 L295.9,107.7 L296.1,107.4 L296.2,107.2 L296.3,106.9 L296.5,106.6 L296.6,106.3 L296.7,106.0 L296.9,105.7 L297.0,105.5 L297.1,105.2 L297.3,104.9 L297.4,104.6 L297.5,104.3 L297.6,104.1 L297.8,103.8 L297.9,103.5 L298.0,103.2 L298.2,102.9 L298.3,102.6 L298.4,102.4 L298.5,102.1 L298.7,101.8 L298.8,101.5 L298.9,101.2 L299.1,100.9 L299.2,100.7 L299.3,100.4 L299.4,100.1 L299.6,99.8 L299.7,99.5 L299.8,99.3 L299.9,99.0 L300.1,98.7 L300.2,98.4 L300.3,98.1 L300.5,97.8 L300.6,97.6 L300.7,97.3 L300.8,97.0 L301.0,96.7 L301.1,96.4 L301.2,96.1 L301.3,95.9 L301.5,95.6 L301.6,95.3 L301.7,95.0 L301.9,94.7 L302.0,94.4 L302.1,94.2 L302.2,93.9 L302.4,93.6 L302.5,93.3 L302.6,93.0 L302.7,92.7 L302.9,92.5 L303.0,92.2 L303.1,91.9 L303.2,91.6 L303.4,91.3 L303.5,91.0 L303.6,90.7 L303.7,90.5 L303.8,90.2 L303.9,89.9 L304.1,89.6 L304.2,89.3 L304.3,89.0 L304.4,88.7 L304.5,88.4 L304.6,88.1 L304.7,87.9 L304.8,87.6 L304.9,87.3 L305.0,87.0 L305.1,86.7 L305.2,86.4 L305.4,86.1 L305.5,85.8 L305.6,85.5 L305.7,85.2 L305.8,84.9 L305.9,84.7 L306.0,84.4 L306.1,84.1 L306.2,83.8 L306.3,83.5 L306.4,83.2 L306.5,82.9 L306.6,82.6 L306.7,82.3 L306.8,82.0 L306.9,81.7 L306.9,81.4 L307.0,81.1 L307.1,80.8 L307.2,80.5 L307.3,80.2 L307.4,79.9 L307.5,79.6 L307.6,79.3 L307.7,79.0 L307.8,78.8 L307.9,78.5 L308.0,78.2 L308.1,77.9 L308.2,77.6 L308.3,77.3 L308.4,77.0 L308.5,76.7 L308.5,76.4 L308.6,76.1 L308.7,75.8 L308.8,75.5 L308.9,75.2 L309.0,74.9 L309.1,74.6 L309.2,74.3 L309.3,74.0 L309.4,73.7 L309.5,73.4 L309.6,73.1 L309.6,72.8 L309.7,72.5 L309.8,72.2 L309.9,71.9 L310.0,71.6 L310.1,71.3 L310.2,71.0 L310.3,70.7 L310.4,70.4 L310.4,70.2 L310.5,69.9 L310.6,69.6 L310.7,69.3 L310.8,69.0 L310.9,68.7 L311.0,68.4 L311.1,68.1 L311.1,67.8 L311.2,67.5 L311.3,67.2 L311.4,66.9 L311.5,66.6 L311.6,66.3 L311.7,66.0 L311.7,65.7 L311.8,65.4 L311.9,65.1 L312.0,64.8 L312.1,64.5 L312.2,64.2 L312.2,63.9 L312.3,63.6 L312.4,63.3 L312.5,63.0 L312.6,62.7 L312.7,62.4 L312.7,62.1 L312.8,61.8 L312.9,61.5 L313.0,61.2 L313.1,60.9 L313.1,60.6 L313.2,60.3 L313.3,60.0" stroke="#f00" stroke-width="1.2" fill="none"/><path d="M183.9,112.8 L179.6,110.3 L179.6,115.4Z" fill="#800080"/><path d="M188.4,116.6 L184.1,114.1 L184.1,119.2Z" fill="#800080"/><path d="M193.1,120.2 L188.8,117.6 L188.8,122.7Z" fill="#800080"/><path d="M197.8,123.2 L193.5,120.6 L193.5,125.7Z" fill="#800080"/><path d="M202.2,125.5 L197.9,122.9 L197.9,128.0Z" fill="#800080"/><path d="M207.0,127.6 L202.7,125.1 L202.7,130.2Z" fill="#800080"/><path d="M211.5,129.8 L207.2,127.3 L207.2,132.4Z" fill="#800080"/><path d="M216.2,132.2 L211.9,129.7 L211.9,134.8Z" fill="#800080"/><path d="M220.6,133.5 L216.3,131.0 L216.3,136.1Z" fill="#800080"/><path d="M225.2,134.5 L220.8,131.9 L220.8,137.0Z" fill="#800080"/><path d="M229.8,135.3 L225.5,132.7 L225.5,137.8Z" fill="#800080"/><path d="M234.4,136.1 L230.0,133.6 L230.0,138.7Z" fill="#800080"/><path d="M239.0,137.0 L234.6,134.4 L234.6,139.5Z" fill="#800080"/><path d="M243.6,137.7 L239.2,135.1 L239.2,140.2Z" fill="#800080"/><path d="M248.2,138.3 L243.8,135.7 L243.8,140.8Z" fill="#800080"/><path d="M252.8,138.8 L248.5,136.3 L248.5,141.4Z" fill="#800080"/><path d="M257.4,139.0 L253.1,136.4 L253.1,141.5Z" fill="#800080"/><path d="M262.1,138.7 L257.8,136.1 L257.8,141.2Z" fill="#800080"/><path d="M266.6,138.0 L262.3,135.4 L262.3,140.5Z" fill="#800080"/><path d="M271.3,136.0 L266.9,133.5 L266.9,138.6Z" fill="#800080"/><path d="M276.0,133.6 L271.6,131.1 L271.6,136.2Z" fill="#800080"/><path d="M280.5,130.9 L276.2,128.4 L276.2,133.5Z" fill="#800080"/><path d="M285.1,127.8 L280.8,125.2 L280.8,130.3Z" fill="#800080"/><path d="M289.6,123.1 L285.3,120.5 L285.3,125.6Z" fill="#800080"/><path d="M294.3,116.9 L290.0,114.4 L290.0,119.5Z" fill="#800080"/><path d="M298.0,109.4 L293.7,106.8 L293.7,111.9Z" fill="#800080"/><path d="M302.6,99.5 L298.2,97.0 L298.2,102.1Z" fill="#800080"/><path d="M307.3,88.7 L302.9,86.2 L302.9,91.3Z" fill="#800080"/><path d="M311.6,75.8 L307.3,73.2 L307.3,78.3Z" fill="#800080"/><path d="M315.5,62.7 L311.1,60.1 L311.1,65.2Z" fill="#800080"/><path d="M180.8,112.6 L181.0,112.8 L181.2,113.0 L181.4,113.2 L181.6,113.4 L181.8,113.6 L182.0,113.8 L182.1,114.0 L182.3,114.2 L182.5,114.4 L182.7,114.5 L182.9,114.7 L183.1,114.9 L183.3,115.1 L183.5,115.3 L183.7,115.5 L183.9,115.7 L184.1,115.9 L184.3,116.0 L184.5,116.2 L184.7,116.4 L184.9,116.6 L185.1,116.8 L185.4,116.9 L185.6,117.1 L185.8,117.3 L186.0,117.5 L186.2,117.7 L186.4,117.8 L186.6,118.0 L186.8,118.2 L187.0,118.4 L187.2,118.5 L187.4,118.7 L187.7,118.9 L187.9,119.0 L188.1,119.2 L188.3,119.4 L188.5,119.5 L188.7,119.7 L188.9,119.9 L189.2,120.1 L189.4,120.2 L189.6,120.4 L189.8,120.5 L190.0,120.7 L190.3,120.9 L190.5,121.0 L190.7,121.2 L190.9,121.4 L191.2,121.5 L191.4,121.7 L191.6,121.8 L191.8,122.0 L192.1,122.1 L192.3,122.3 L192.5,122.4 L192.7,122.6 L193.0,122.7 L193.2,122.9 L193.4,123.0 L193.7,123.2 L193.9,123.3 L194.1,123.4 L194.4,123.6 L194.6,123.7 L194.8,123.9 L195.1,124.0 L195.3,124.1 L195.5,124.3 L195.8,124.4 L196.0,124.5 L196.3,124.7 L196.5,124.8 L196.7,124.9 L197.0,125.1 L197.2,125.2 L197.4,125.4 L197.7,125.5 L197.9,125.6 L198.2,125.8 L198.4,125.9 L198.6,126.1 L198.9,126.2 L199.1,126.4 L199.3,126.5 L199.5,126.6 L199.8,126.8 L200.0,126.9 L200.2,127.1 L200.5,127.2 L200.7,127.4 L200.9,127.5 L201.2,127.7 L201.4,127.8 L201.6,128.0 L201.8,128.1 L202.1,128.3 L202.3,128.4 L202.5,128.6 L202.7,128.8 L203.0,128.9 L203.2,129.1 L203.4,129.2 L203.6,129.4 L203.9,129.5 L204.1,129.7 L204.3,129.9 L204.5,130.0 L204.7,130.2 L204.9,130.4 L205.2,130.5 L205.4,130.7 L205.6,130.9 L205.8,131.1 L206.0,131.2 L206.2,131.4 L206.4,131.6 L206.7,131.7 L206.9,131.9 L207.1,132.0 L207.3,132.2 L207.6,132.3 L207.8,132.5 L208.0,132.7 L208.2,132.8 L208.5,133.0 L208.7,133.1 L208.9,133.3 L209.2,133.4 L209.4,133.5 L209.6,133.7 L209.9,133.8 L210.1,134.0 L210.3,134.1 L210.6,134.3 L210.8,134.4 L211.0,134.6 L211.3,134.7 L211.5,134.8 L211.7,135.0 L212.0,135.1 L212.2,135.2 L212.4,135.4 L212.7,135.5 L212.9,135.7 L213.2,135.8 L213.4,135.9 L213.6,136.0 L213.9,136.2 L214.1,136.3 L214.4,136.4 L214.6,136.6 L214.8,136.7 L215.1,136.8 L215.3,136.9 L215.6,137.1 L215.8,137.2 L216.1,137.3 L216.3,137.4 L216.5,137.6 L216.8,137.7 L217.0,137.8 L217.3,137.9 L217.5,138.1 L217.8,138.2 L218.0,138.3 L218.3,138.4 L218.5,138.5 L218.7,138.7 L219.0,138.8 L219.2,138.9 L219.5,139.0 L219.7,139.1 L220.0,139.3 L220.2,139.4 L220.5,139.5 L220.7,139.6 L221.0,139.7 L221.2,139.8 L221.5,140.0 L221.7,140.1 L222.0,140.2 L222.2,140.3 L222.5,140.4 L222.7,140.5 L223.0,140.6 L223.2,140.7 L223.5,140.8 L223.7,141.0 L224.0,141.1 L224.2,141.2 L224.5,141.3 L224.7,141.4 L225.0,141.5 L225.2,141.6 L225.5,141.7 L225.8,141.8 L226.0,141.9 L226.3,142.0 L226.5,142.1 L226.8,142.2 L227.0,142.3 L227.3,142.4 L227.5,142.5 L227.8,142.6 L228.0,142.7 L228.3,142.8 L228.6,142.9 L228.8,142.9 L229.1,143.0 L229.3,143.1 L229.6,143.2 L229.8,143.3 L230.1,143.4 L230.4,143.5 L230.6,143.5 L230.9,143.6 L231.1,143.7 L231.4,143.8 L231.7,143.9 L231.9,144.0 L232.2,144.0 L232.4,144.1 L232.7,144.2 L233.0,144.3 L233.2,144.3 L233.5,144.4 L233.8,144.5 L234.0,144.6 L234.3,144.7 L234.5,144.7 L234.8,144.8 L235.1,144.9 L235.3,144.9 L235.6,145.0 L235.9,145.1 L236.1,145.2 L236.4,145.2 L236.7,145.3 L236.9,145.4 L237.2,145.5 L237.4,145.5 L237.7,145.6 L238.0,145.7 L238.2,145.7 L238.5,145.8 L238.8,145.9 L239.0,145.9 L239.3,146.0 L239.6,146.1 L239.8,146.2 L240.1,146.2 L240.4,146.3 L240.6,146.4 L240.9,146.4 L241.2,146.5 L241.4,146.6 L241.7,146.6 L242.0,146.7 L242.2,146.8 L242.5,146.9 L242.7,146.9 L243.0,147.0 L243.3,147.1 L243.5,147.1 L243.8,147.2 L244.1,147.3 L244.3,147.4 L244.6,147.5 L244.9,147.5 L245.1,147.6 L245.4,147.7 L245.6,147.8 L245.9,147.9 L246.2,147.9 L246.4,148.0 L246.7,148.1 L247.0,148.2 L247.2,148.3 L247.5,148.3 L247.8,148.4 L248.0,148.5 L248.3,148.6 L248.5,148.6 L248.8,148.7 L249.1,148.8 L249.3,148.8 L249.6,148.9 L249.9,149.0 L250.1,149.0 L250.4,149.1 L250.7,149.1 L250.9,149.2 L251.2,149.2 L251.5,149.3 L251.7,149.3 L252.0,149.4 L252.3,149.4 L252.5,149.4 L252.8,149.5 L253.1,149.5 L253.4,149.5 L253.6,149.6 L253.9,149.6 L254.2,149.6 L254.4,149.7 L254.7,149.7 L255.0,149.7 L255.3,149.8 L255.5,149.8 L255.8,149.8 L256.1,149.8 L256.3,149.9 L256.6,149.9 L256.9,149.9 L257.2,149.9 L257.4,149.9 L257.7,150.0 L258.0,150.0 L258.3,150.0 L258.5,150.0 L258.8,150.0 L259.1,150.0 L259.4,150.0 L259.6,150.0 L259.9,150.0 L260.2,150.0 L260.4,150.0 L260.7,150.0 L261.0,149.9 L261.3,149.9 L261.5,149.9 L261.8,149.9 L262.1,149.9 L262.4,149.8 L262.6,149.8 L262.9,149.8 L263.2,149.8 L263.5,149.7 L263.7,149.7 L264.0,149.7 L264.3,149.6 L264.6,149.6 L264.8,149.6 L265.1,149.5 L265.4,149.5 L265.6,149.4 L265.9,149.4 L266.2,149.4 L266.4,149.3 L266.7,149.3 L267.0,149.2 L267.2,149.2 L267.5,149.1 L267.7,149.0 L268.0,148.9 L268.3,148.9 L268.5,148.8 L268.8,148.7 L269.0,148.6 L269.3,148.5 L269.5,148.4 L269.8,148.3 L270.0,148.2 L270.3,148.1 L270.6,147.9 L270.8,147.8 L271.1,147.7 L271.3,147.6 L271.6,147.5 L271.8,147.3 L272.1,147.2 L272.3,147.1 L272.6,147.0 L272.8,146.8 L273.0,146.7 L273.3,146.6 L273.5,146.5 L273.8,146.4 L274.0,146.2 L274.3,146.1 L274.5,146.0 L274.8,145.9 L275.0,145.8 L275.3,145.6 L275.5,145.5 L275.7,145.4 L276.0,145.2 L276.2,145.1 L276.5,145.0 L276.7,144.9 L276.9,144.7 L277.2,144.6 L277.4,144.5 L277.7,144.3 L277.9,144.2 L278.1,144.0 L278.4,143.9 L278.6,143.8 L278.8,143.6 L279.1,143.5 L279.3,143.3 L279.5,143.2 L279.8,143.0 L280.0,142.9 L280.2,142.8 L280.5,142.6 L280.7,142.5 L280.9,142.3 L281.2,142.2 L281.4,142.0 L281.6,141.9 L281.8,141.7 L282.1,141.6 L282.3,141.4 L282.5,141.3 L282.8,141.1 L283.0,141.0 L283.2,140.8 L283.4,140.7 L283.7,140.5 L283.9,140.3 L284.1,140.2 L284.3,140.0 L284.5,139.9 L284.8,139.7 L285.0,139.5 L285.2,139.4 L285.4,139.2 L285.6,139.0 L285.9,138.9 L286.1,138.7 L286.3,138.5 L286.5,138.4 L286.7,138.2 L286.9,138.0 L287.2,137.9 L287.4,137.7 L287.6,137.5 L287.8,137.4 L288.0,137.2 L288.2,137.0 L288.4,136.8 L288.6,136.7 L288.9,136.5 L289.1,136.3 L289.3,136.1 L289.5,136.0 L289.7,135.8 L289.9,135.6 L290.1,135.4 L290.3,135.3 L290.5,135.1 L290.7,134.9 L291.0,134.7 L291.2,134.5 L291.4,134.4 L291.6,134.2 L291.8,134.0 L292.0,133.8 L292.2,133.6 L292.4,133.4 L292.6,133.2 L292.8,133.0 L293.0,132.8 L293.2,132.7 L293.4,132.5 L293.6,132.3 L293.7,132.1 L293.9,131.9 L294.1,131.7 L294.3,131.5 L294.5,131.3 L294.7,131.1 L294.8,130.9 L295.0,130.7 L295.2,130.5 L295.4,130.3 L295.5,130.1 L295.7,129.8 L295.9,129.6 L296.0,129.4 L296.2,129.2 L296.3,129.0 L296.5,128.7 L296.7,128.5 L296.8,128.3 L297.0,128.1 L297.1,127.8 L297.3,127.6 L297.4,127.4 L297.6,127.2 L297.7,126.9 L297.9,126.7 L298.0,126.5 L298.2,126.2 L298.3,126.0 L298.5,125.8 L298.6,125.5 L298.8,125.3 L298.9,125.1 L299.1,124.8 L299.2,124.6 L299.4,124.4 L299.5,124.2 L299.7,123.9 L299.8,123.7 L300.0,123.5 L300.1,123.2 L300.3,123.0 L300.5,122.8 L300.6,122.6 L300.8,122.3 L300.9,122.1 L301.1,121.9 L301.2,121.7 L301.4,121.4 L301.5,121.2 L301.7,121.0 L301.8,120.8 L302.0,120.5 L302.1,120.3 L302.3,120.1 L302.4,119.9 L302.6,119.6 L302.7,119.4 L302.9,119.2 L303.0,118.9 L303.2,118.7 L303.3,118.5 L303.5,118.3 L303.6,118.0 L303.8,117.8 L303.9,117.6 L304.1,117.3 L304.2,117.1 L304.4,116.9 L304.5,116.6 L304.7,116.4 L304.8,116.2 L304.9,115.9 L305.1,115.7 L305.2,115.5 L305.4,115.2 L305.5,115.0 L305.7,114.8 L305.8,114.5 L305.9,114.3 L306.1,114.1 L306.2,113.8 L306.4,113.6 L306.5,113.4 L306.6,113.1 L306.8,112.9 L306.9,112.7 L307.1,112.4 L307.2,112.2 L307.3,111.9 L307.5,111.7 L307.6,111.5 L307.7,111.2 L307.9,111.0 L308.0,110.8 L308.1,110.5 L308.3,110.3 L308.4,110.0 L308.5,109.8 L308.7,109.6 L308.8,109.3 L308.9,109.1 L309.1,108.8 L309.2,108.6 L309.3,108.4 L309.4,108.1 L309.6,107.9 L309.7,107.6 L309.8,107.4 L310.0,107.1 L310.1,106.9 L310.2,106.7 L310.3,106.4 L310.5,106.2 L310.6,105.9 L310.7,105.7 L310.8,105.4 L310.9,105.2 L311.1,105.0 L311.2,104.7 L311.3,104.5 L311.4,104.2 L311.6,104.0 L311.7,103.7 L311.8,103.5 L311.9,103.2 L312.0,103.0 L312.1,102.7 L312.3,102.5 L312.4,102.2 L312.5,102.0" stroke="#00f" stroke-width="1.2" fill="none"/><path d="M183.9,112.8 L184.7,114.7 L186.7,114.8 L185.1,116.1 L185.6,118.0 L183.9,116.9 L182.2,118.0 L182.7,116.1 L181.2,114.8 L183.2,114.7Z" fill="#008000"/><path d="M188.5,116.6 L189.3,118.5 L191.3,118.7 L189.7,119.9 L190.2,121.9 L188.5,120.8 L186.8,121.9 L187.3,119.9 L185.8,118.7 L187.8,118.5Z" fill="#008000"/><path d="M193.2,120.0 L193.9,121.9 L195.9,122.0 L194.4,123.3 L194.9,125.2 L193.2,124.1 L191.5,125.2 L192.0,123.3 L190.4,122.0 L192.5,121.9Z" fill="#008000"/><path d="M197.9,122.7 L198.7,124.6 L200.7,124.7 L199.1,126.0 L199.6,128.0 L197.9,126.9 L196.2,128.0 L196.7,126.0 L195.2,124.7 L197.2,124.6Z" fill="#008000"/><path d="M202.3,125.5 L203.0,127.4 L205.0,127.6 L203.5,128.8 L204.0,130.8 L202.3,129.7 L200.6,130.8 L201.1,128.8 L199.5,127.6 L201.6,127.4Z" fill="#008000"/><path d="M207.1,129.1 L207.8,131.0 L209.9,131.1 L208.3,132.4 L208.8,134.4 L207.1,133.3 L205.4,134.4 L205.9,132.4 L204.4,131.1 L206.4,131.0Z" fill="#008000"/><path d="M211.5,131.9 L212.2,133.8 L214.3,133.9 L212.7,135.2 L213.2,137.2 L211.5,136.1 L209.8,137.2 L210.3,135.2 L208.7,133.9 L210.8,133.8Z" fill="#008000"/><path d="M216.3,134.5 L217.0,136.4 L219.1,136.5 L217.5,137.8 L218.0,139.8 L216.3,138.7 L214.6,139.8 L215.1,137.8 L213.5,136.5 L215.6,136.4Z" fill="#008000"/><path d="M220.7,136.7 L221.5,138.6 L223.5,138.7 L221.9,140.0 L222.4,142.0 L220.7,140.9 L219.0,142.0 L219.5,140.0 L218.0,138.7 L220.0,138.6Z" fill="#008000"/><path d="M225.5,138.8 L226.2,140.7 L228.3,140.8 L226.7,142.1 L227.2,144.0 L225.5,142.9 L223.8,144.0 L224.3,142.1 L222.7,140.8 L224.8,140.7Z" fill="#008000"/><path d="M230.1,140.5 L230.8,142.4 L232.9,142.5 L231.3,143.8 L231.8,145.7 L230.1,144.6 L228.4,145.7 L228.9,143.8 L227.3,142.5 L229.4,142.4Z" fill="#008000"/><path d="M234.5,141.8 L235.3,143.7 L237.3,143.8 L235.7,145.1 L236.2,147.1 L234.5,146.0 L232.8,147.1 L233.4,145.1 L231.8,143.8 L233.8,143.7Z" fill="#008000"/><path d="M239.3,143.1 L240.0,145.0 L242.1,145.1 L240.5,146.4 L241.0,148.4 L239.3,147.3 L237.6,148.4 L238.1,146.4 L236.5,145.1 L238.6,145.0Z" fill="#008000"/><path d="M243.8,144.3 L244.5,146.2 L246.6,146.3 L245.0,147.6 L245.5,149.6 L243.8,148.5 L242.1,149.6 L242.6,147.6 L241.0,146.3 L243.1,146.2Z" fill="#008000"/><path d="M248.3,145.7 L249.0,147.6 L251.0,147.7 L249.5,149.0 L250.0,150.9 L248.3,149.8 L246.6,150.9 L247.1,149.0 L245.5,147.7 L247.5,147.6Z" fill="#008000"/><path d="M253.1,146.6 L253.8,148.5 L255.8,148.6 L254.3,149.9 L254.8,151.9 L253.1,150.8 L251.4,151.9 L251.9,149.9 L250.3,148.6 L252.3,148.5Z" fill="#008000"/><path d="M257.7,147.1 L258.5,148.9 L260.5,149.1 L258.9,150.3 L259.4,152.3 L257.7,151.2 L256.0,152.3 L256.5,150.3 L255.0,149.1 L257.0,148.9Z" fill="#008000"/><path d="M262.1,147.0 L262.8,148.9 L264.9,149.0 L263.3,150.3 L263.8,152.2 L262.1,151.1 L260.4,152.2 L260.9,150.3 L259.3,149.0 L261.4,148.9Z" fill="#008000"/><path d="M266.7,146.4 L267.4,148.3 L269.5,148.4 L267.9,149.7 L268.4,151.6 L266.7,150.5 L265.0,151.6 L265.5,149.7 L263.9,148.4 L266.0,148.3Z" fill="#008000"/><path d="M271.3,144.7 L272.0,146.6 L274.1,146.7 L272.5,148.0 L273.0,149.9 L271.3,148.8 L269.6,149.9 L270.1,148.0 L268.5,146.7 L270.6,146.6Z" fill="#008000"/><path d="M276.0,142.3 L276.7,144.2 L278.7,144.4 L277.2,145.6 L277.7,147.6 L276.0,146.5 L274.3,147.6 L274.8,145.6 L273.2,144.4 L275.2,144.2Z" fill="#008000"/><path d="M280.7,139.6 L281.4,141.5 L283.5,141.6 L281.9,142.9 L282.4,144.8 L280.7,143.7 L279.0,144.8 L279.5,142.9 L277.9,141.6 L280.0,141.5Z" fill="#008000"/><path d="M285.2,136.5 L285.9,138.4 L288.0,138.5 L286.4,139.8 L286.9,141.7 L285.2,140.6 L283.5,141.7 L284.0,139.8 L282.5,138.5 L284.5,138.4Z" fill="#008000"/><path d="M289.7,132.9 L290.4,134.8 L292.5,134.9 L290.9,136.2 L291.4,138.1 L289.7,137.0 L288.0,138.1 L288.5,136.2 L286.9,134.9 L289.0,134.8Z" fill="#008000"/><path d="M294.5,128.4 L295.2,130.3 L297.2,130.4 L295.7,131.7 L296.2,133.6 L294.5,132.5 L292.8,133.6 L293.3,131.7 L291.7,130.4 L293.8,130.3Z" fill="#008000"/><path d="M298.9,122.2 L299.7,124.1 L301.7,124.2 L300.1,125.5 L300.6,127.4 L298.9,126.3 L297.2,127.4 L297.7,125.5 L296.2,124.2 L298.2,124.1Z" fill="#008000"/><path d="M303.6,115.1 L304.4,117.0 L306.4,117.1 L304.8,118.4 L305.3,120.4 L303.6,119.3 L301.9,120.4 L302.5,118.4 L300.9,117.1 L302.9,117.0Z" fill="#008000"/><path d="M308.1,107.6 L308.9,109.5 L310.9,109.6 L309.3,110.9 L309.8,112.9 L308.1,111.8 L306.4,112.9 L307.0,110.9 L305.4,109.6 L307.4,109.5Z" fill="#008000"/><path d="M312.5,99.1 L313.2,101.0 L315.3,101.1 L313.7,102.4 L314.2,104.3 L312.5,103.2 L310.8,104.3 L311.3,102.4 L309.7,101.1 L311.8,101.0Z" fill="#008000"/><path d="M180.8,112.6 L181.0,112.8 L181.2,112.9 L181.4,113.1 L181.6,113.2 L181.8,113.4 L182.0,113.6 L182.2,113.7 L182.4,113.9 L182.6,114.0 L182.8,114.2 L183.0,114.4 L183.2,114.5 L183.4,114.7 L183.6,114.8 L183.8,115.0 L184.0,115.2 L184.2,115.3 L184.4,115.5 L184.6,115.6 L184.9,115.8 L185.1,116.0 L185.3,116.1 L185.5,116.3 L185.7,116.4 L185.9,116.6 L186.1,116.8 L186.3,116.9 L186.5,117.1 L186.7,117.2 L186.9,117.4 L187.1,117.6 L187.3,117.7 L187.5,117.9 L187.7,118.0 L187.9,118.2 L188.1,118.4 L188.3,118.5 L188.5,118.7 L188.7,118.8 L188.9,119.0 L189.1,119.2 L189.3,119.3 L189.5,119.5 L189.7,119.6 L189.9,119.8 L190.1,120.0 L190.3,120.1 L190.5,120.3 L190.7,120.4 L190.9,120.6 L191.1,120.8 L191.3,120.9 L191.5,121.1 L191.7,121.2 L191.9,121.4 L192.1,121.6 L192.3,121.7 L192.5,121.9 L192.7,122.0 L192.9,122.2 L193.1,122.4 L193.3,122.5 L193.5,122.7 L193.7,122.9 L193.9,123.0 L194.1,123.2 L194.3,123.3 L194.5,123.5 L194.7,123.7 L194.9,123.8 L195.1,124.0 L195.3,124.2 L195.5,124.3 L195.7,124.5 L195.9,124.6 L196.1,124.8 L196.3,125.0 L196.5,125.1 L196.7,125.3 L196.9,125.5 L197.1,125.6 L197.3,125.8 L197.5,126.0 L197.7,126.1 L197.9,126.3 L198.1,126.5 L198.3,126.6 L198.5,126.8 L198.7,126.9 L198.9,127.1 L199.1,127.3 L199.3,127.4 L199.5,127.6 L199.7,127.8 L199.9,127.9 L200.1,128.1 L200.3,128.3 L200.5,128.4 L200.7,128.6 L200.9,128.8 L201.1,129.0 L201.3,129.1 L201.5,129.3 L201.7,129.5 L201.8,129.6 L202.0,129.8 L202.2,130.0 L202.4,130.2 L202.6,130.3 L202.8,130.5 L203.0,130.7 L203.2,130.8 L203.4,131.0 L203.6,131.2 L203.8,131.3 L204.0,131.5 L204.2,131.7 L204.4,131.9 L204.6,132.0 L204.8,132.2 L205.0,132.4 L205.1,132.5 L205.3,132.7 L205.5,132.9 L205.7,133.0 L205.9,133.2 L206.1,133.4 L206.3,133.5 L206.5,133.7 L206.7,133.8 L206.9,134.0 L207.1,134.1 L207.4,134.3 L207.6,134.5 L207.8,134.6 L208.0,134.8 L208.2,134.9 L208.4,135.1 L208.6,135.2 L208.8,135.4 L209.0,135.5 L209.2,135.7 L209.4,135.8 L209.6,136.0 L209.8,136.1 L210.1,136.3 L210.3,136.4 L210.5,136.6 L210.7,136.7 L210.9,136.9 L211.1,137.0 L211.3,137.2 L211.5,137.3 L211.7,137.5 L212.0,137.6 L212.2,137.8 L212.4,137.9 L212.6,138.1 L212.8,138.2 L213.0,138.4 L213.2,138.5 L213.4,138.7 L213.6,138.8 L213.8,139.0 L214.1,139.1 L214.3,139.3 L214.5,139.4 L214.7,139.6 L214.9,139.7 L215.1,139.9 L215.3,140.0 L215.5,140.2 L215.7,140.4 L215.9,140.5 L216.1,140.7 L216.3,140.8 L216.5,141.0 L216.7,141.1 L216.9,141.3 L217.2,141.5 L217.4,141.6 L217.6,141.8 L217.8,141.9 L218.0,142.1 L218.2,142.3 L218.4,142.4 L218.6,142.6 L218.8,142.7 L219.0,142.9 L219.2,143.1 L219.4,143.2 L219.6,143.4 L219.8,143.5 L220.0,143.7 L220.2,143.9 L220.4,144.0 L220.6,144.2 L220.8,144.3 L221.0,144.5 L221.2,144.6 L221.4,144.8 L221.6,145.0 L221.8,145.1 L222.0,145.3 L222.3,145.4 L222.5,145.6 L222.7,145.8 L222.9,145.9 L223.1,146.1 L223.3,146.2 L223.5,146.4 L223.7,146.5 L223.9,146.7 L224.1,146.8 L224.3,147.0 L224.5,147.1 L224.7,147.3 L224.9,147.5 L225.1,147.6 L225.4,147.8 L225.6,147.9 L225.8,148.1 L226.0,148.2 L226.2,148.3 L226.4,148.5 L226.6,148.6 L226.8,148.8 L227.0,148.9 L227.3,149.1 L227.5,149.2 L227.7,149.3 L227.9,149.5 L228.1,149.6 L228.3,149.8 L228.5,149.9 L228.8,150.0 L229.0,150.2 L229.2,150.3 L229.4,150.4 L229.6,150.6 L229.9,150.7 L230.1,150.8 L230.3,151.0 L230.5,151.1 L230.7,151.2 L231.0,151.4 L231.2,151.5 L231.4,151.6 L231.6,151.8 L231.8,151.9 L232.1,152.0 L232.3,152.2 L232.5,152.3 L232.7,152.4 L233.0,152.5 L233.2,152.7 L233.4,152.8 L233.6,152.9 L233.9,153.0 L234.1,153.2 L234.3,153.3 L234.5,153.4 L234.8,153.5 L235.0,153.7 L235.2,153.8 L235.5,153.9 L235.7,154.0 L235.9,154.2 L236.1,154.3 L236.4,154.4 L236.6,154.5 L236.8,154.6 L237.1,154.8 L237.3,154.9 L237.5,155.0 L237.8,155.1 L238.0,155.2 L238.2,155.3 L238.4,155.5 L238.7,155.6 L238.9,155.7 L239.1,155.8 L239.4,155.9 L239.6,156.0 L239.8,156.1 L240.1,156.3 L240.3,156.4 L240.5,156.5 L240.8,156.6 L241.0,156.7 L241.2,156.8 L241.5,156.9 L241.7,157.0 L241.9,157.1 L242.2,157.2 L242.4,157.3 L242.6,157.4 L242.9,157.5 L243.1,157.7 L243.4,157.8 L243.6,157.9 L243.8,158.0 L244.1,158.1 L244.3,158.2 L244.5,158.3 L244.8,158.4 L245.0,158.5 L245.3,158.6 L245.5,158.7 L245.7,158.7 L246.0,158.8 L246.2,158.9 L246.5,159.0 L246.7,159.1 L246.9,159.2 L247.2,159.3 L247.4,159.4 L247.7,159.5 L247.9,159.6 L248.1,159.7 L248.4,159.8 L248.6,159.8 L248.9,159.9 L249.1,160.0 L249.4,160.1 L249.6,160.2 L249.9,160.3 L250.1,160.3 L250.3,160.4 L250.6,160.5 L250.8,160.6 L251.1,160.6 L251.3,160.7 L251.6,160.8 L251.8,160.9 L252.1,161.0 L252.3,161.0 L252.6,161.1 L252.8,161.2 L253.1,161.3 L253.3,161.3 L253.5,161.4 L253.8,161.5 L254.0,161.6 L254.3,161.6 L254.5,161.7 L254.8,161.8 L255.0,161.9 L255.3,161.9 L255.5,162.0 L255.8,162.1 L256.0,162.1 L256.3,162.2 L256.5,162.3 L256.8,162.3 L257.0,162.4 L257.3,162.5 L257.5,162.5 L257.8,162.6 L258.0,162.6 L258.3,162.7 L258.5,162.7 L258.8,162.8 L259.1,162.8 L259.3,162.9 L259.6,162.9 L259.8,163.0 L260.1,163.0 L260.3,163.1 L260.6,163.1 L260.8,163.1 L261.1,163.2 L261.3,163.2 L261.6,163.3 L261.8,163.3 L262.1,163.3 L262.3,163.4 L262.6,163.4 L262.9,163.5 L263.1,163.5 L263.4,163.5 L263.6,163.6 L263.9,163.6 L264.1,163.6 L264.4,163.7 L264.7,163.7 L264.9,163.7 L265.2,163.8 L265.4,163.8 L265.7,163.8 L265.9,163.9 L266.2,163.9 L266.5,163.9 L266.7,163.9 L267.0,164.0 L267.2,164.0 L267.5,164.0 L267.7,164.0 L268.0,164.0 L268.3,164.1 L268.5,164.1 L268.8,164.1 L269.0,164.1 L269.3,164.1 L269.5,164.1 L269.8,164.1 L270.1,164.1 L270.3,164.1 L270.6,164.1 L270.8,164.1 L271.1,164.1 L271.3,164.1 L271.6,164.0 L271.9,164.0 L272.1,164.0 L272.4,164.0 L272.6,164.0 L272.9,163.9 L273.2,163.9 L273.4,163.9 L273.7,163.9 L273.9,163.8 L274.2,163.8 L274.4,163.8 L274.7,163.7 L275.0,163.7 L275.2,163.6 L275.5,163.6 L275.7,163.6 L276.0,163.5 L276.2,163.5 L276.5,163.4 L276.8,163.4 L277.0,163.4 L277.3,163.3 L277.5,163.3 L277.8,163.2 L278.0,163.2 L278.3,163.1 L278.5,163.1 L278.8,163.0 L279.0,163.0 L279.3,162.9 L279.5,162.9 L279.8,162.8 L280.0,162.8 L280.3,162.7 L280.5,162.7 L280.8,162.6 L281.0,162.6 L281.3,162.5 L281.5,162.4 L281.8,162.4 L282.0,162.3 L282.3,162.2 L282.5,162.2 L282.7,162.1 L283.0,162.0 L283.2,161.9 L283.5,161.8 L283.7,161.7 L284.0,161.6 L284.2,161.6 L284.5,161.5 L284.7,161.4 L284.9,161.3 L285.2,161.2 L285.4,161.1 L285.7,161.0 L285.9,160.9 L286.1,160.8 L286.4,160.7 L286.6,160.6 L286.9,160.4 L287.1,160.3 L287.3,160.2 L287.6,160.1 L287.8,160.0 L288.0,159.9 L288.3,159.8 L288.5,159.7 L288.8,159.6 L289.0,159.5 L289.2,159.4 L289.5,159.3 L289.7,159.1 L289.9,159.0 L290.2,158.9 L290.4,158.8 L290.6,158.7 L290.8,158.6 L291.1,158.5 L291.3,158.4 L291.5,158.2 L291.8,158.1 L292.0,158.0 L292.2,157.9 L292.4,157.8 L292.7,157.6 L292.9,157.5 L293.1,157.4 L293.3,157.2 L293.6,157.1 L293.8,157.0 L294.0,156.9 L294.2,156.7 L294.5,156.6 L294.7,156.5 L294.9,156.3 L295.1,156.2 L295.3,156.0 L295.6,155.9 L295.8,155.8 L296.0,155.6 L296.2,155.5 L296.4,155.4 L296.7,155.2 L296.9,155.1 L297.1,154.9 L297.3,154.8 L297.5,154.7 L297.7,154.5 L297.9,154.4 L298.2,154.2 L298.4,154.1 L298.6,153.9 L298.8,153.8 L299.0,153.7 L299.2,153.5 L299.4,153.4 L299.6,153.2 L299.9,153.1 L300.1,152.9 L300.3,152.8 L300.5,152.6 L300.7,152.5 L300.9,152.3 L301.1,152.2 L301.3,152.0 L301.5,151.8 L301.7,151.7 L301.9,151.5 L302.1,151.4 L302.4,151.2 L302.6,151.1 L302.8,150.9 L303.0,150.7 L303.2,150.6 L303.4,150.4 L303.6,150.3 L303.8,150.1 L304.0,150.0 L304.2,149.8 L304.4,149.6 L304.6,149.5 L304.8,149.3 L305.0,149.1 L305.2,149.0 L305.4,148.8 L305.6,148.6 L305.8,148.5 L306.0,148.3 L306.2,148.1 L306.3,148.0 L306.5,147.8 L306.7,147.6 L306.9,147.4 L307.1,147.3 L307.3,147.1 L307.5,146.9 L307.7,146.8 L307.9,146.6 L308.1,146.4 L308.3,146.3 L308.5,146.1 L308.7,145.9 L308.9,145.8 L309.1,145.6 L309.3,145.4 L309.5,145.3 L309.7,145.1 L309.9,145.0 L310.1,144.8 L310.3,144.6 L310.5,144.5 L310.7,144.3 L310.9,144.1 L311.1,144.0 L311.3,143.8 L311.5,143.7 L311.7,143.5 L311.9,143.3 L312.1,143.2 L312.3,143.0 L312.5,142.8 L312.7,142.7 L312.9,142.5 L313.1,142.4 L313.3,142.2" stroke="#1030ff" stroke-width="1.2" fill="none"/><circle cx="185.3" cy="116.1" r="2.05" fill="#8000ff"/><circle cx="189.7" cy="119.6" r="2.05" fill="#8000ff"/><circle cx="194.3" cy="123.3" r="2.05" fill="#8000ff"/><circle cx="198.9" cy="127.1" r="2.05" fill="#8000ff"/><circle cx="203.6" cy="131.2" r="2.05" fill="#8000ff"/><circle cx="208.2" cy="134.9" r="2.05" fill="#8000ff"/><circle cx="212.8" cy="138.2" r="2.05" fill="#8000ff"/><circle cx="217.4" cy="141.6" r="2.05" fill="#8000ff"/><circle cx="222.0" cy="145.3" r="2.05" fill="#8000ff"/><circle cx="226.6" cy="148.6" r="2.05" fill="#8000ff"/><circle cx="231.2" cy="151.5" r="2.05" fill="#8000ff"/><circle cx="235.9" cy="154.2" r="2.05" fill="#8000ff"/><circle cx="240.3" cy="156.4" r="2.05" fill="#8000ff"/><circle cx="245.0" cy="158.5" r="2.05" fill="#8000ff"/><circle cx="249.6" cy="160.2" r="2.05" fill="#8000ff"/><circle cx="254.3" cy="161.6" r="2.05" fill="#8000ff"/><circle cx="258.8" cy="162.8" r="2.05" fill="#8000ff"/><circle cx="263.4" cy="163.5" r="2.05" fill="#8000ff"/><circle cx="268.0" cy="164.0" r="2.05" fill="#8000ff"/><circle cx="272.6" cy="164.0" r="2.05" fill="#8000ff"/><circle cx="277.3" cy="163.3" r="2.05" fill="#8000ff"/><circle cx="281.8" cy="162.4" r="2.05" fill="#8000ff"/><circle cx="286.4" cy="160.7" r="2.05" fill="#8000ff"/><circle cx="291.1" cy="158.5" r="2.05" fill="#8000ff"/><circle cx="295.6" cy="155.9" r="2.05" fill="#8000ff"/><circle cx="300.3" cy="152.8" r="2.05" fill="#8000ff"/><circle cx="304.8" cy="149.3" r="2.05" fill="#8000ff"/><circle cx="309.5" cy="145.3" r="2.05" fill="#8000ff"/></g>
<g><path d="M46.5,12.3 H313.3 V211.0 H46.5 Z" fill="none" stroke="#000" stroke-width="1.1"/><path d="M313.3,50.5 H180.9" fill="none" stroke="#000" stroke-width="1.0"/><path d="M180.9,50.5 V176.79999999999998 H313.3" fill="none" stroke="#222" stroke-width="1.3"/><path d="M46.5,211.0 v-4.2 M67.7,211.0 v-2.5 M88.8,211.0 v-4.2 M110.0,211.0 v-2.5 M131.2,211.0 v-4.2 M152.4,211.0 v-2.5 M173.6,211.0 v-4.2 M194.7,211.0 v-2.5 M215.9,211.0 v-4.2 M237.1,211.0 v-2.5 M258.2,211.0 v-4.2 M279.4,211.0 v-2.5 M300.6,211.0 v-4.2 M46.5,21.8 h4.3 M46.5,45.4 h2.6 M46.5,69.1 h4.3 M46.5,92.7 h2.6 M46.5,116.3 h4.3 M46.5,140.0 h2.6 M46.5,163.6 h4.3 M46.5,187.3 h2.6 M46.5,210.9 h4.3 M180.9,176.6 v-3.5 M195.7,176.6 v-2 M210.4,176.6 v-3.5 M225.2,176.6 v-2 M239.9,176.6 v-3.5 M254.7,176.6 v-2 M269.4,176.6 v-3.5 M284.1,176.6 v-2 M298.9,176.6 v-3.5 M313.3,50.5 h3.9 M313.3,82.0 h2.6 M313.3,113.5 h3.9 M313.3,145.0 h2.6 M313.3,176.6 h3.9" stroke="#000" stroke-width="1.1" fill="none"/><path d="M93.2,206.1 V134" stroke="#000" stroke-width="1.2" fill="none"/><path d="M93.2,130.4 L94.9,136.8 L91.5,136.8Z" fill="#000"/></g>
<g><circle cx="62.9" cy="22.8" r="1.35" fill="#000"/><path d="M62.9,32.8 l1.5,2.5 h-3Z" fill="#f00"/><path d="M62.9,47.3 l1.5,-2.5 h-3Z" fill="#00f"/><path d="M62.9,55.6 l1.7,1.7 l-1.7,1.7 l-1.7,-1.7Z" fill="#808000"/><path d="M62.9,67.1 l1.7,1.7 l-1.7,1.7 l-1.7,-1.7Z" fill="#800080"/><circle cx="62.9" cy="80.3" r="1.35" fill="#008000"/><rect x="61.7" y="90.6" width="2.4" height="2.4" fill="#ff8000"/><circle cx="62.9" cy="103.3" r="1.35" fill="#ff0080"/></g>
<g><text x="46.5" y="222.5" font-size="10" text-anchor="middle" fill="#000" stroke="#000" stroke-width="0.25" font-weight="bold" >0</text><text x="88.8" y="222.5" font-size="10" text-anchor="middle" fill="#000" stroke="#000" stroke-width="0.25" font-weight="bold" >50</text><text x="131.2" y="222.5" font-size="10" text-anchor="middle" fill="#000" stroke="#000" stroke-width="0.25" font-weight="bold" >100</text><text x="173.6" y="222.5" font-size="10" text-anchor="middle" fill="#000" stroke="#000" stroke-width="0.25" font-weight="bold" >150</text><text x="215.9" y="222.5" font-size="10" text-anchor="middle" fill="#000" stroke="#000" stroke-width="0.25" font-weight="bold" >200</text><text x="258.2" y="222.5" font-size="10" text-anchor="middle" fill="#000" stroke="#000" stroke-width="0.25" font-weight="bold" >250</text><text x="300.6" y="222.5" font-size="10" text-anchor="middle" fill="#000" stroke="#000" stroke-width="0.25" font-weight="bold" >300</text><text x="42.4" y="24.9" font-size="10" text-anchor="end" fill="#000" stroke="#000" stroke-width="0.25" font-weight="bold" >3.0</text><text x="42.4" y="72.2" font-size="10" text-anchor="end" fill="#000" stroke="#000" stroke-width="0.25" font-weight="bold" >2.5</text><text x="42.4" y="119.4" font-size="10" text-anchor="end" fill="#000" stroke="#000" stroke-width="0.25" font-weight="bold" >2.0</text><text x="42.4" y="166.7" font-size="10" text-anchor="end" fill="#000" stroke="#000" stroke-width="0.25" font-weight="bold" >1.5</text><text x="42.4" y="214.0" font-size="10" text-anchor="end" fill="#000" stroke="#000" stroke-width="0.25" font-weight="bold" >1.0</text><text transform="translate(180.9,188) scale(0.91,1)" font-size="10" font-weight="bold" text-anchor="middle" stroke="#000" stroke-width="0.22">2</text><text transform="translate(210.4,188) scale(0.91,1)" font-size="10" font-weight="bold" text-anchor="middle" stroke="#000" stroke-width="0.22">4</text><text transform="translate(239.9,188) scale(0.91,1)" font-size="10" font-weight="bold" text-anchor="middle" stroke="#000" stroke-width="0.22">6</text><text transform="translate(269.4,188) scale(0.91,1)" font-size="10" font-weight="bold" text-anchor="middle" stroke="#000" stroke-width="0.22">8</text><text transform="translate(298.9,188) scale(0.91,1)" font-size="10" font-weight="bold" text-anchor="middle" stroke="#000" stroke-width="0.22">10</text><text transform="translate(319.8,53.4) scale(0.915,1)" font-size="10" font-weight="bold" stroke="#000" stroke-width="0.22">1.007</text><text transform="translate(319.8,116.4) scale(0.915,1)" font-size="10" font-weight="bold" stroke="#000" stroke-width="0.22">1.000</text><text transform="translate(319.8,179.5) scale(0.915,1)" font-size="10" font-weight="bold" stroke="#000" stroke-width="0.22">0.993</text><text x="179" y="239.5" font-size="10" text-anchor="middle" fill="#000" stroke="#000" stroke-width="0.25" font-weight="bold" >T (K)</text><text x="249.7" y="200" font-size="10" text-anchor="middle" fill="#000" stroke="#000" stroke-width="0.25" font-weight="bold" >T (K)</text><text x="132.6" y="30" font-size="11" text-anchor="middle" fill="#000" stroke="#000" stroke-width="0.25" font-weight="bold" >(a)</text><text x="73.4" y="25.7" font-size="8.9" text-anchor="start" fill="#000" stroke="#000" stroke-width="0.25" font-weight="bold" word-spacing="-0.5">0 T</text><text x="73.4" y="37.2" font-size="8.9" text-anchor="start" fill="#000" stroke="#000" stroke-width="0.25" font-weight="bold" word-spacing="-0.5">2 T</text><text x="73.4" y="48.7" font-size="8.9" text-anchor="start" fill="#000" stroke="#000" stroke-width="0.25" font-weight="bold" word-spacing="-0.5">4 T</text><text x="73.4" y="60.2" font-size="8.9" text-anchor="start" fill="#000" stroke="#000" stroke-width="0.25" font-weight="bold" word-spacing="-0.5">6 T</text><text x="73.4" y="71.7" font-size="8.9" text-anchor="start" fill="#000" stroke="#000" stroke-width="0.25" font-weight="bold" word-spacing="-0.5">8 T</text><text x="73.4" y="83.2" font-size="8.9" text-anchor="start" fill="#000" stroke="#000" stroke-width="0.25" font-weight="bold" word-spacing="-0.5">10 T</text><text x="73.4" y="94.7" font-size="8.9" text-anchor="start" fill="#000" stroke="#000" stroke-width="0.25" font-weight="bold" word-spacing="-0.5">12 T</text><text x="73.4" y="106.2" font-size="8.9" text-anchor="start" fill="#000" stroke="#000" stroke-width="0.25" font-weight="bold" word-spacing="-0.5">14 T</text><text x="230.0" y="73.4" font-size="10" text-anchor="start" fill="#000" stroke="#000" stroke-width="0.25" font-weight="bold" >0 T</text><text x="243.7" y="91.5" font-size="10" text-anchor="start" fill="#f00" stroke="#f00" stroke-width="0.25" font-weight="bold" >4 T</text><text x="225.6" y="104.1" font-size="9.8" text-anchor="start" fill="#00f" stroke="#00f" stroke-width="0.25" font-weight="bold" >6 T</text><text x="253.0" y="131.4" font-size="10" text-anchor="start" fill="#808000" stroke="#808000" stroke-width="0.25" font-weight="bold" >8 T</text><text x="253.4" y="147.8" font-size="9.3" text-anchor="start" fill="#800080" stroke="#800080" stroke-width="0.25" font-weight="bold" >10 T</text><text x="273.8" y="157.1" font-size="9.5" text-anchor="start" fill="#008000" stroke="#008000" stroke-width="0.25" font-weight="bold" >12 T</text><text x="218.2" y="165.7" font-size="10" text-anchor="start" fill="#8000ff" stroke="#8000ff" stroke-width="0.25" font-weight="bold" >14 T</text><text transform="translate(14.2,112.1) rotate(-90) scale(1.2,1)" font-size="10" text-anchor="middle" font-weight="bold" stroke="#000" stroke-width="0.2"><tspan font-weight="normal" stroke="none">ρ</tspan> (m<tspan font-weight="normal" stroke="none">Ω</tspan> cm)</text><text transform="translate(170.3,122.9) rotate(-90)" font-size="9.3" text-anchor="start" font-weight="bold" letter-spacing="0.3" stroke="#000" stroke-width="0.2">(2 K)</text><text transform="translate(170.3,131.5) rotate(-90)" font-size="9.3" text-anchor="start">ρ</text><text transform="translate(170.3,137.5) rotate(-90)" font-size="9.3" text-anchor="start">/</text><text transform="translate(170.3,145.1) rotate(-90)" font-size="9.3" text-anchor="start">ρ</text></g>
</svg>
</body></html>
